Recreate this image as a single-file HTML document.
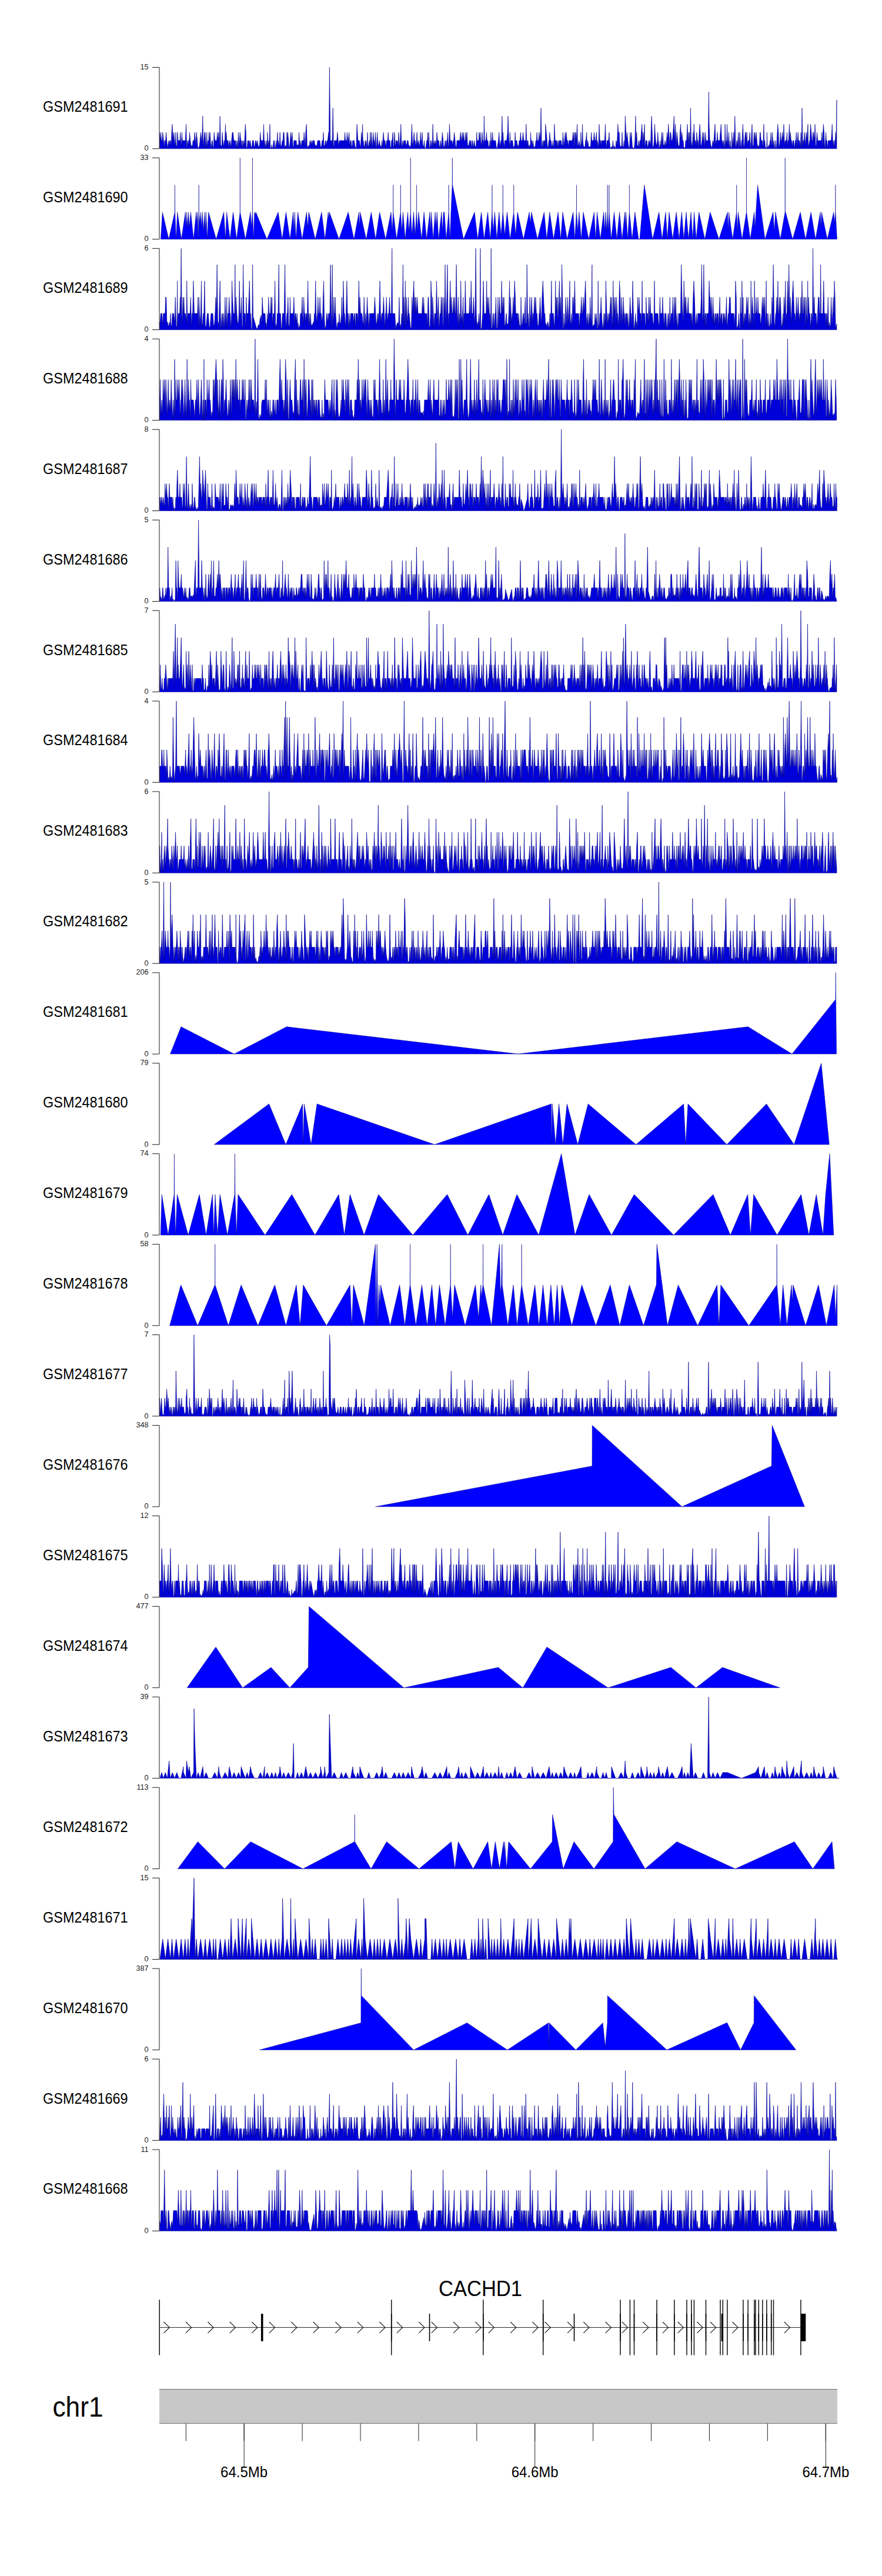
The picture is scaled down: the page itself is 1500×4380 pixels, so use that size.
<!DOCTYPE html>
<html><head><meta charset="utf-8"><title>Gviz tracks</title>
<style>
html,body{margin:0;padding:0;background:#fff;}
svg{display:block;}
text{font-family:"Liberation Sans",Arial,sans-serif;fill:#000;}
.ax{font-size:12.6px;fill:#1a1a1a;}
.lb{font-size:25.5px;}
.chr{font-size:48px;}
.tk{font-size:25.8px;}
.gn{font-size:37px;}
.axl{fill:none;stroke:#1a1a1a;stroke-width:1;}
.dp{fill:#0000ff;stroke:#00008b;stroke-width:0.5;stroke-linejoin:round;}
.dn{fill:#0000d8;stroke:#00008b;stroke-width:0.6;stroke-linejoin:round;}
</style></head><body>
<svg width="1500" height="4380" viewBox="0 0 1500 4380">
<rect width="1500" height="4380" fill="#fff"/>
<path d="M271.6 252.8L271.6 225.1 272.8 239 273.8 225.1 274.4 239 275.7 239 276.8 225.1 278.2 239 279.2 250.2 280 239 280.9 239 281.7 239 282.5 225.1 283.6 239 285 252 285.8 246.3 286.8 239 287.8 246.9 288.8 239 290.1 239 291.1 248.1 292 225.1 293 211.3 293.7 225.1 295 239 295.8 225.1 297 239 298 248.8 299 225.1 299.6 247.1 300.9 249.2 301.9 225.1 303 239 304 239 305 239 306 239 306.7 225.1 308 247.2 308.8 239 309.4 225.1 310.2 239 311.1 239 312.1 239 313.2 239 314.2 239 315.2 239 316.5 211.3 317.6 252.7 318.2 247.8 318.9 239 319.7 247.3 320.7 239 321.8 239 322.4 225.1 323.7 239 325.1 249.9 325.9 246.7 326.5 248.9 327.2 247.9 328.2 239 329.4 239 330.1 239 331.1 225.1 332.4 239 333.2 247.4 334.1 225.1 335.5 239 336.4 251.2 337.6 251.6 339 248.6 340.2 239 341.5 225.1 342.8 239 343.5 239 344.8 197.5 345.7 250.2 346.7 239 348 225.1 349 225.1 349.6 239 350.3 252.5 351.1 239 351.8 225.1 352.5 250.2 353.9 239 354.9 239 355.5 225.1 356.4 239 357.2 225.1 358.6 252 359.3 249 360.5 239 361.3 239 362.2 249.7 363.3 250.1 364.1 225.1 365.5 239 366.5 239 367.3 239 367.9 239 368.6 239 369.8 225.1 370.6 239 371.9 225.1 373.3 250.6 374 197.5 375.3 246.5 375.9 247.2 377.3 248 378 225.1 379.1 239 380.5 249 381.5 239 382.4 239 383.5 211.3 384.2 239 384.9 225.1 385.8 239 386.6 239 387.6 239 388.7 251.2 389.7 239 390.8 246.5 391.6 239 392.6 251.7 393.8 239 395.1 225.1 396.3 225.1 397.7 239 398.5 239 399.7 239 400.8 239 401.6 252.5 403 239 404.3 251.8 405.5 225.1 406.5 246.1 407.4 239 408.2 225.1 409.6 239 410.5 239 411.3 252.8 412.1 239 413.2 251.4 414 239 414.8 247.3 416 239 417.3 211.3 418.2 225.1 418.9 249 420.3 251.9 421.3 239 422.2 239 423.1 239 424 248.1 425 239 425.6 239 426.9 249.3 428.3 250 429.5 239 430.6 239 431.2 239 432.2 248.8 433.3 249.4 434.5 239 435.5 239 436.8 246.9 438 239 438.8 246.8 439.9 249.4 440.9 249.3 442 239 442.7 225.1 443.8 239 444.9 239 446.2 239 447.5 239 448.5 211.3 449.6 250.9 450.7 239 451.9 250.5 452.7 247 453.3 239 454.3 247.4 455 225.1 456 247.8 457.1 239 457.8 250.3 459 211.3 459.8 250.1 460.8 251.5 461.5 251.3 462.1 246.1 463.2 252 464.3 250 465.3 239 466.6 239 467.4 250.5 468.4 252.5 469.7 239 470.7 250 472 225.1 472.6 239 473.3 239 474.3 246.5 474.9 247 475.5 239 476.1 225.1 477.3 248.2 478.2 248.4 479 246.3 480.1 239 481.1 239 482 225.1 483 225.1 484.1 251.1 485.5 246.9 486.8 252.2 488.1 225.1 488.7 239 489.4 225.1 490.7 239 491.4 252.2 492 250.6 492.7 246.9 493.5 239 494.4 225.1 495.8 239 496.9 225.1 498.1 248 499.1 250.8 499.8 239 500.7 239 501.9 239 502.8 239 504 239 504.7 250.5 505.6 246 506.5 246.1 507.8 247.3 508.5 225.1 509.7 247.6 510.6 239 511.6 249.1 512.3 248 513.4 239 514.6 239 515.6 239 516.4 239 517.1 225.1 518.2 239 519.1 247.9 519.9 225.1 521.2 211.3 522.3 247.3 523.4 251 524.2 249.2 525.2 247.3 526.3 246.9 527.2 239 527.8 239 529.1 246.1 530.2 239 531.2 246.2 532.1 239 533.1 239 534.5 239 535.9 248.9 536.8 246.6 537.9 246.9 538.9 250.2 540.1 239 540.7 239 541.4 239 542.6 239 544 239 545.2 249.8 546.5 249.4 547.8 239 549.2 239 550 225.1 550.9 247 551.6 249 552.6 246.1 553.3 239 554 239 555 246.9 556.2 239 557.4 239 558.7 225.1 559.4 239 560.4 114.5 561.8 239 563.1 239 564.3 239 564.9 248.3 566.2 183.7 567.2 247 568 250 568.7 239 570.1 239 570.8 239 571.9 239 572.8 239 573.9 225.1 575.1 239 575.9 248.3 577.2 239 578 239 578.8 239 580 239 580.8 239 582.1 239 582.7 239 583.4 239 584.8 239 585.8 239 586.5 225.1 587.6 239 588.8 239 589.6 239 590.3 225.1 591.5 239 592.3 239 593.6 225.1 594.7 248.6 596 239 597.1 239 598 248.4 599 249.3 599.8 239 600.6 239 601.5 239 602.4 239 603.5 247.8 604.6 250.7 605.8 251.8 607.1 211.3 607.9 225.1 608.8 239 609.9 239 611.2 239 612.5 248.4 613.4 249.6 614.6 225.1 615.6 239 616.6 211.3 617.2 239 617.9 239 618.7 246.5 619.8 251.1 621.1 239 621.8 246.5 622.6 239 624 252.4 625 225.1 625.9 248.4 626.9 248.1 628.3 239 629.1 246.1 629.7 225.1 630.5 252.1 631.4 225.1 632.3 239 633.5 251.5 634.5 225.1 635.8 239 636.5 239 637.2 248.2 638.4 225.1 639.7 252.7 640.6 246.5 641.6 225.1 643 248.2 643.9 246.3 645.3 239 646.2 246.3 647.4 248.3 648.4 252 649.5 239 650.5 251.1 651.1 239 652.1 225.1 653.2 239 654.2 239 654.9 239 655.7 250.3 656.4 247.4 657.5 239 658.3 239 659.3 239 660.1 225.1 661.1 239 662.4 239 663.3 239 664 252.4 665.2 248.7 665.9 239 666.8 239 668.2 225.1 669 250.4 670 247.1 670.8 225.1 671.8 239 672.5 250.6 673.7 239 675 239 675.8 239 677.1 247.1 678 225.1 678.8 239 679.6 250.2 680.6 239 681.7 211.3 683 249.9 683.8 247.1 684.5 239 685.3 249.1 686.6 239 687.2 239 688.6 239 689.6 239 690.5 246 691.7 246.5 692.7 239 694 239 695 247 695.9 247 697.1 249.5 698.4 249.5 699.3 239 700.4 211.3 701.7 249.9 703.1 239 704.2 225.1 705 239 706.1 239 707.3 249.7 708.3 239 709.1 225.1 709.8 239 710.8 245.9 712.1 239 713.2 251 714.6 239 715.3 225.1 716.1 239 717.3 239 718.1 225.1 718.9 246.1 720.2 250.6 721.5 239 722.4 252.6 723.3 252.5 724.3 249.9 725.7 239 726.8 239 727.5 225.1 728.4 247.8 729.2 225.1 729.8 239 730.4 252.2 731.7 249.1 732.4 239 733.3 239 734.1 250.7 735.4 239 736.1 211.3 737.2 249.8 738.4 239 739.5 246.2 740.8 239 741.8 248.8 743 225.1 744.2 239 745.4 239 746.3 239 747.2 251.2 748.2 248 749.3 239 750.2 252.7 751.4 239 752.3 225.1 753.6 239 754.3 248.3 755 248.6 755.7 251.5 757 239 757.8 239 758.8 252.3 759.5 239 760.6 239 761.4 225.1 762.6 252.8 763.7 239 764.4 211.3 765.7 239 766.8 239 767.8 239 768.6 239 769.6 247.6 770.8 239 771.6 239 772.6 225.1 774 239 774.7 246.9 775.3 249.1 776.2 252.7 777 239 777.8 239 779.1 239 780 239 780.6 239 781.9 239 783.2 225.1 784.5 239 785.1 239 786.2 225.1 787.3 239 788.5 225.1 789.8 239 790.6 239 791.2 239 792.1 225.1 793.2 239 794.1 225.1 795.4 248.6 796.1 247.3 797.4 246.4 798.6 239 799.6 239 800.3 239 801.6 251.8 802.5 239 803.6 239 804.4 250.7 805.3 246.5 806.6 239 807.6 247.8 808.4 249.3 809.6 248.5 810.8 225.1 811.4 239 812.8 239 814.1 239 814.9 225.1 816.1 239 816.8 225.1 817.5 239 818.5 249.1 819.9 225.1 820.9 239 821.8 239 822.6 251.9 823.3 197.5 824.2 239 825.5 239 826.3 239 827.5 225.1 828.2 239 828.8 239 829.8 239 830.7 248.9 832.1 248.8 833.1 239 834.2 252.7 834.9 225.1 835.7 239 837.1 239 837.7 225.1 838.5 239 839.6 239 840.7 239 841.6 239 842.9 239 844.2 251.1 845.4 252.5 846.4 246.5 847.6 239 848.7 225.1 849.4 239 850.6 249.8 851.7 239 852.9 239 853.9 197.5 854.9 239 855.5 225.1 856.2 239 857.6 251.9 858.4 239 859.7 239 860.8 239 861.8 239 863.2 225.1 864 197.5 865.4 239 866.5 248.5 867.5 225.1 868.1 252.1 869 239 870.3 239 871.7 239 873 251.6 874.1 249 875.3 246.4 876.1 225.1 876.8 239 878.1 239 878.9 239 880.2 249.5 880.9 246.1 882 251.3 882.9 239 883.6 239 884.4 239 885.4 225.1 886.3 239 887.5 239 888.4 239 889.5 225.1 890.8 239 892 239 893 239 894 239 894.8 211.3 896 247.5 896.9 239 897.9 239 899.2 250.8 899.9 248.2 900.7 246.2 901.8 251.3 902.4 225.1 903.2 239 904.2 239 905.4 247.6 906.1 239 907.2 246.3 908 251.7 909.4 248.8 910.1 250.5 911.3 239 912.2 239 913.2 225.1 913.9 239 914.6 239 915.9 239 916.9 225.1 918.1 239 919.2 225.1 920 183.7 921.2 250 921.9 249.2 923 239 923.9 250 924.8 239 925.6 239 926.5 239 927.2 247.1 927.8 211.3 929.1 225.1 930.3 239 931.2 249.2 932.3 251.1 933.4 239 934.1 239 934.7 225.1 936.1 239 937.2 239 938.4 248.4 939.4 249.2 940.4 239 941.4 250.2 942.1 246.5 942.8 211.3 944.1 239 945.2 239 946.1 239 947 239 947.8 250.6 949.2 239 949.9 249.6 951 239 952.2 239 953.3 239 954.4 239 955.1 246.6 956.4 247.3 957.4 225.1 958.8 249.7 960 239 961.4 225.1 962.5 239 963.1 225.1 964.3 239 965.4 239 966.6 249.7 967.6 239 968.4 239 969 239 970.3 239 971.6 239 972.7 239 973.4 239 974.7 225.1 975.3 239 976.3 225.1 977 252.6 978.2 225.1 979 225.1 980.3 239 981.6 211.3 982.4 246 983.4 248.1 984.7 239 985.9 245.9 987.2 250.2 987.9 225.1 988.6 248.3 989.9 239 990.6 211.3 991.3 239 992.4 249.8 993.4 248.5 994.8 251.9 995.6 239 996.4 239 997.7 225.1 998.4 247.4 999.8 239 1001.1 249.7 1002.3 250 1003.7 248.8 1004.4 249.4 1005.7 225.1 1006.6 239 1007.9 239 1008.8 239 1009.4 239 1010.4 225.1 1011.7 239 1013 239 1014.4 225.1 1015.3 247.1 1016.1 239 1017.4 251.8 1018.2 239 1019 211.3 1020.2 239 1021.6 239 1022.3 248 1023.2 239 1024.4 239 1025.1 239 1026.3 239 1027.6 239 1028.4 239 1029.5 211.3 1030.3 239 1031.6 252.5 1032.2 239 1033.5 239 1034.8 239 1036 225.1 1036.6 239 1037.9 252.7 1038.6 251.9 1039.9 249.1 1040.7 250.9 1041.5 249.1 1042.5 239 1043.4 251.4 1044 250.6 1044.8 247.8 1045.9 252.4 1047 250 1047.9 239 1049.1 246.5 1049.7 239 1050.8 211.3 1051.7 225.1 1053.1 225.1 1053.7 239 1054.4 248.9 1055.7 248.2 1057 250.5 1058 225.1 1059 249.7 1060.4 248.9 1061.3 239 1062.4 252.3 1063.3 197.5 1064.6 225.1 1065.6 239 1066.4 225.1 1067.7 239 1068.8 247.8 1069.8 251 1070.6 252.2 1071.7 225.1 1072.5 239 1073.7 225.1 1074.7 239 1075.7 252.6 1076.3 250.6 1077.4 252.7 1078.7 250.4 1079.9 239 1080.9 197.5 1081.8 239 1082.9 225.1 1083.7 248.1 1085 248.6 1086.2 239 1087.1 252.3 1088.3 239 1089.6 239 1090.6 225.1 1091.8 211.3 1093 249 1093.8 225.1 1095 239 1096.1 211.3 1096.8 247.3 1097.6 247.1 1098.3 239 1099 239 1100.2 239 1101.2 251.4 1102.3 246.6 1103.6 239 1104.8 239 1105.8 247.8 1106.7 239 1108.1 197.5 1109.2 225.1 1109.9 247 1110.6 251.2 1111.7 247.5 1112.5 239 1113.5 211.3 1114.1 225.1 1115.1 239 1116.4 246.6 1117.1 246.5 1118.1 239 1118.7 225.1 1119.6 239 1121 251 1121.9 250.1 1122.7 239 1123.3 248.4 1124.2 246.5 1125.3 225.1 1126.2 247.4 1127.3 225.1 1128.3 248.3 1129.2 245.9 1129.8 248.7 1131.1 239 1132.4 249.2 1133.5 239 1134.7 225.1 1135.5 239 1136.8 211.3 1137.6 225.1 1138.9 248.2 1139.9 225.1 1140.8 225.1 1142 239 1142.8 239 1143.4 239 1144.7 225.1 1145.6 211.3 1146.3 197.5 1147.4 239 1148.7 211.3 1150 248.6 1151.3 225.1 1152.6 239 1153.6 248.2 1154.4 247.2 1155.1 248.8 1155.7 246.8 1156.4 225.1 1157.7 211.3 1158.4 239 1159.7 225.1 1161 239 1162 239 1162.9 251.3 1164.2 251.3 1165.3 250.3 1166 239 1166.7 239 1167.7 239 1169 211.3 1170.2 247.5 1171 225.1 1171.8 239 1172.5 225.1 1173.6 251.7 1174.4 183.7 1175.5 239 1176.8 248.7 1177.5 246.3 1178.7 225.1 1179.3 248 1180.2 211.3 1181.6 239 1182.8 239 1184 247.6 1184.8 225.1 1186.1 239 1187 239 1188 251.6 1189.2 225.1 1190.2 211.3 1190.9 225.1 1191.9 249.4 1192.8 246.6 1193.9 239 1194.6 225.1 1195.4 239 1196.1 239 1196.9 225.1 1197.9 239 1198.8 250.5 1199.5 225.1 1200.8 239 1202.1 239 1203.5 239 1204.3 239 1205.4 156 1206 211.3 1207.2 239 1207.8 239 1209 247.2 1210.1 250.8 1210.9 250.1 1212.2 239 1213.2 245.9 1214 239 1215 225.1 1216 211.3 1217.3 249.4 1218 239 1219.2 239 1219.9 225.1 1221 239 1221.7 239 1222.4 239 1223 239 1224 239 1225.1 225.1 1226.3 211.3 1227.4 239 1228 239 1229.1 247 1229.8 239 1230.5 239 1231.5 248.2 1232.3 251.1 1233.1 211.3 1234.2 249.3 1235 239 1235.8 239 1236.5 211.3 1237.4 239 1238.3 246.8 1239.5 225.1 1240.4 248.5 1241.3 249.5 1242 239 1242.8 251.4 1244.1 250.5 1244.7 225.1 1245.9 249.9 1246.8 239 1247.8 225.1 1248.4 247.9 1249.8 197.5 1251.1 248.6 1251.8 250.1 1252.9 239 1253.9 246.8 1254.8 239 1255.8 225.1 1256.5 248.9 1257.1 252.4 1258 225.1 1259 239 1259.8 248.6 1260.6 251.6 1261.2 239 1262 239 1263.4 211.3 1264.8 248.8 1265.7 249.1 1266.4 239 1267.5 225.1 1268.5 225.1 1269.4 239 1270.3 225.1 1271 246 1272.3 239 1273.2 239 1274.1 239 1275.2 225.1 1275.9 239 1276.7 249.4 1277.3 250.7 1278.2 225.1 1279 211.3 1280 246.3 1281.4 249.4 1282.4 225.1 1283.4 239 1284 225.1 1285.2 239 1286.4 225.1 1287.2 239 1288.2 249.3 1288.8 250.3 1289.5 246.2 1290.2 250.5 1291.4 247.2 1292.5 225.1 1293.2 225.1 1294.4 239 1295.5 239 1296.4 239 1297.6 251.8 1299 211.3 1299.7 239 1300.6 239 1301.5 248.5 1302.2 250.7 1302.9 251.3 1303.8 252.4 1304.4 225.1 1305 249.2 1306.4 251.1 1307.7 246 1308.6 249.4 1309.5 239 1310.5 239 1311.1 225.1 1312.3 251.8 1313.6 225.1 1315 248.9 1316.3 239 1317.5 251.5 1318.2 251.9 1318.8 239 1319.5 252.4 1320.5 250.7 1321.2 239 1322 225.1 1322.7 211.3 1323.9 225.1 1324.5 251.1 1325.7 246.2 1326.4 239 1327.2 225.1 1328.1 239 1329.3 239 1330.5 225.1 1331.7 239 1333 211.3 1334.3 246.4 1335.4 239 1336.5 239 1337.4 239 1338.5 225.1 1339.4 250.4 1340.1 239 1341.2 239 1342.4 211.3 1343.4 239 1344.3 225.1 1345.4 239 1346.2 239 1347.2 249.3 1348.4 239 1349.8 239 1350.5 246.9 1351.5 251.5 1352.4 239 1353.4 239 1354.2 225.1 1355.3 252.2 1355.9 239 1357.1 225.1 1358 239 1358.7 239 1359.8 239 1361.2 250.7 1362.1 225.1 1363.2 249.9 1364 183.7 1365.3 251.3 1366.1 239 1367.3 239 1368 225.1 1369.2 239 1370 245.9 1371.1 225.1 1372.3 239 1373.1 225.1 1374 211.3 1374.7 250.1 1375.6 246 1376.8 239 1377.4 239 1378.5 211.3 1379.8 225.1 1380.7 239 1381.8 239 1382.7 225.1 1383.5 225.1 1384.8 239 1386.1 211.3 1387.1 246.6 1388.1 249.3 1389.4 225.1 1390.7 239 1391.6 239 1392.4 239 1393.6 239 1394.4 239 1395.6 239 1396.8 239 1397.9 225.1 1398.9 252 1399.6 225.1 1400.4 211.3 1401.5 225.1 1402.3 246 1403.2 252.6 1404.5 225.1 1405.3 239 1406.4 239 1407.6 252.6 1408.7 239 1409.8 239 1410.8 239 1412.1 239 1412.8 239 1413.6 239 1414.6 225.1 1415.2 211.3 1416.5 246.4 1417.2 239 1418.3 251.4 1419.2 239 1420.4 239 1421 225.1 1422 239 1423 169.8 1423 252.8Z" class="dn"/>
<path d="M259 114.50H271.0V252.80H259" class="axl"/>
<text x="252.5" y="118.1" text-anchor="end" class="ax">15</text>
<text x="252.5" y="256.4" text-anchor="end" class="ax">0</text>
<text x="217.6" y="189.9" text-anchor="end" class="lb" textLength="144.5" lengthAdjust="spacingAndGlyphs">GSM2481691</text>
<path d="M273.4 406.7L273.4 406.7 276.3 360.7 287 406.7 297.2 360.7 297.4 314.5 297.6 360.7 299.5 406.7 301.7 360.7 308.5 406.7 315.3 360.7 316.7 386 317.6 360.7 319 386 320.6 360.7 322.1 386 324.4 360.7 329.2 406.7 333.7 360.7 334.8 379.1 336 360.7 337.1 406.7 338.1 360.7 338.2 314.5 338.3 360.7 339.8 379.1 341.4 360.7 342.8 386 344.4 360.7 346 392.9 348.4 360.7 349.6 392.9 350.5 360.7 352.3 406.7 354.6 360.7 367.7 406.7 380.6 360.7 383.4 406.7 385.6 360.7 391.1 406.7 396.5 360.7 402.4 406.7 408.2 360.7 408.3 268.4 408.4 360.7 417.4 406.7 426 360.7 427.4 386 429.3 360.7 429.4 268.4 429.5 360.7 431.2 406.7 432.8 360.7 434 365.2 435.1 360.7 453.9 406.7 473.1 360.7 479.9 406.7 486.4 360.7 493.2 406.7 498.6 360.7 500.3 392.9 501.2 360.7 503.4 406.7 506.5 360.7 513.9 406.7 521.4 360.7 523.5 386 525.2 360.7 536.1 406.7 546.9 360.7 552.7 406.7 558.2 360.7 559.2 372.2 560.2 360.7 576.5 406.7 592.2 360.7 602 406.7 610.5 360.7 611.6 386 612.6 360.7 622.8 406.7 631.3 360.7 638.8 406.7 645.6 360.7 655.8 406.7 665 360.7 667 392.9 668.6 360.7 668.7 314.5 668.8 360.7 674.5 406.7 681.2 360.7 681.3 314.5 681.4 360.7 683.4 392.9 685.4 360.7 689.1 406.7 693.5 360.7 695.5 392.9 698.2 360.7 698.3 268.4 698.4 360.7 700.5 399.8 703.4 360.7 706 399.8 708.4 360.7 708.5 314.5 708.6 360.7 710 392.9 711.9 360.7 717 406.7 721.1 360.7 725.5 406.7 731 360.7 732.3 392.9 733.4 360.7 736.7 406.7 740.1 360.7 741.6 386 743.2 360.7 745.9 406.7 750.9 360.7 752.6 392.9 754.3 360.7 755.6 360.7 759 406.7 763 360.7 763.1 314.5 763.2 360.7 765.3 406.7 767 360.7 769.1 314.5 769.3 268.4 769.6 314.5 788.3 406.7 807 360.7 812.4 406.7 818.6 360.7 823.3 406.7 829.5 360.7 833.9 406.7 836.8 360.7 836.9 314.5 837 360.7 839 392.9 841.4 360.7 845 406.7 848.8 360.7 852 399.8 855.2 360.7 855.3 314.5 855.4 360.7 858.5 399.8 862.4 360.7 867.5 406.7 873.6 360.7 873.7 314.5 873.8 360.7 876.8 399.8 880.1 360.7 890.3 406.7 900.2 360.7 902 379.1 903.9 360.7 914.1 406.7 925.4 360.7 929.8 406.7 934.9 360.7 941.4 406.7 949.2 360.7 953.6 406.7 957 360.7 964.5 406.7 974.7 360.7 977.6 406.7 980.4 360.7 980.5 314.5 980.6 360.7 982.7 392.9 984.9 360.7 988.4 406.7 992 360.7 1001.2 406.7 1010.4 360.7 1013 406.7 1015.5 360.7 1021 406.7 1026.7 360.7 1028.5 392.9 1030 360.7 1031.7 392.9 1033.1 360.7 1033.2 314.5 1033.3 360.7 1034.6 392.9 1035.8 360.7 1035.9 314.5 1036 360.7 1039.5 406.7 1044.5 360.7 1049 406.7 1053.6 360.7 1058 406.7 1062.7 360.7 1063.6 386 1064.5 360.7 1067.5 406.7 1070.3 360.7 1070.4 314.5 1070.5 360.7 1075 406.7 1079.9 360.7 1086 406.7 1088 406.7 1095.8 314.5 1109.8 406.7 1120.7 360.7 1126 406.7 1132 360.7 1135 406.7 1138 360.7 1144 406.7 1150.2 360.7 1155 406.7 1159.3 360.7 1163 406.7 1167 360.7 1171 406.7 1175.1 360.7 1178 406.7 1180.6 360.7 1184 406.7 1188.7 360.7 1198.7 406.7 1207.8 360.7 1222.7 406.7 1237.3 360.7 1238.4 392.9 1239.5 360.7 1246 406.7 1252.6 360.7 1252.7 314.5 1252.8 360.7 1254 392.9 1255.4 360.7 1262 406.7 1269.4 360.7 1269.5 268.4 1269.6 360.7 1276 406.7 1282.6 360.7 1284 386 1288.5 314.5 1301 406.7 1314.8 360.7 1316.8 392.9 1318.9 360.7 1327 406.7 1335.1 360.7 1335.2 268.4 1335.4 360.7 1336.1 360.7 1348 406.7 1361.1 360.7 1370 406.7 1379.2 360.7 1387 406.7 1395.1 360.7 1396.2 386 1397.3 360.7 1407 406.7 1417.8 360.7 1419 379.1 1420.8 360.7 1420.9 314.5 1421 360.7 1423.5 406.7 1423.5 406.7Z" class="dp"/>
<path d="M259 268.44H271.0V406.74H259" class="axl"/>
<text x="252.5" y="272.0" text-anchor="end" class="ax">33</text>
<text x="252.5" y="410.3" text-anchor="end" class="ax">0</text>
<text x="217.6" y="343.8" text-anchor="end" class="lb" textLength="144.5" lengthAdjust="spacingAndGlyphs">GSM2481690</text>
<path d="M271.6 560.7L271.6 547.6 272.2 549.1 273.4 533 274.5 533 275.5 533 276.9 553.1 277.8 533 278.8 533 280.1 533 280.9 533 281.6 505.4 282.7 505.4 283.9 550.1 285.2 547.4 285.9 554.3 286.9 553.7 288.2 548.2 289.1 550.7 290.1 533 290.9 557 292.2 550.9 293.2 533 294 533 295.4 533 296.7 548.1 297.4 533 298.2 505.4 298.9 533 299.7 554.8 300.9 555.7 301.6 477.7 302.2 560.4 303 533 304.2 533 305.6 533 306.4 505.4 307.1 533 308.1 422.4 309.4 550.9 310.4 533 311.1 505.4 311.8 533 312.8 505.4 313.6 533 314.2 533 314.8 533 315.5 533 316.9 546.9 317.7 477.7 318.8 550.9 319.6 533 320.2 533 321.4 533 322.2 533 323.2 533 324.3 505.4 325.7 554.7 326.7 533 327.7 533 328.9 477.7 330.3 533 331.6 533 332.8 533 334.1 533 335 533 335.8 533 336.6 505.4 337.3 558 338.3 505.4 339.3 533 339.9 551.8 341.3 533 342.5 477.7 343.4 557 344.4 549.5 345.8 533 346.8 533 347.9 477.7 349.2 555.7 350.6 554.9 351.2 548.3 352.6 533 353.4 533 354.3 533 355.4 550.2 356 557.1 357.4 555.1 358.8 533 359.7 533 361 533 362 533 363.3 554.1 364.7 551.6 365.9 533 366.9 505.4 368 533 369.1 450 370.4 547.6 371.6 548.4 372.2 557.9 373.4 505.4 374.2 477.7 375 533 375.7 559.7 376.3 551.6 377.5 533 378.3 533 379 558.3 380.2 533 381.4 558.8 382.2 533 382.8 505.4 383.7 533 384.6 556.4 385.7 505.4 386.4 556.5 387.5 533 388.8 533 389.7 505.4 390.9 533 391.7 533 392.5 559.1 393.8 533 394.5 477.7 395.4 505.4 396.8 533 398.1 533 398.9 533 399.8 450 400.6 551.9 401.5 505.4 402.8 533 404.2 550.3 405.5 547.1 406.3 533 407.2 477.7 408.1 533 409.5 533 410.4 505.4 411.7 554.6 412.7 555.3 413.5 450 414.9 533 415.6 533 416.4 533 417.2 533 418.1 559.8 418.8 505.4 419.6 533 420.8 533 422.2 533 423.3 505.4 424.3 477.7 425.7 549 426.7 533 427.4 558.9 428.7 559.6 429.6 450 430.5 538 431.6 542 432.7 545.8 433.7 549.2 434.7 552.7 436 557.3 437.2 560.1 437.9 557.6 438.7 555 439.6 551.8 440.9 553.7 442.2 542.6 443.3 538.8 444.2 535.9 445.1 549.4 446.1 505.4 447.5 533 448.7 533 449.7 533 450.8 533 452 554.1 452.6 549.1 453.7 558 454.4 533 455.7 548.2 456.7 505.4 457.9 533 458.8 533 459.8 533 460.9 505.4 461.7 533 462.6 505.4 463.4 551.1 464.6 533 465.6 533 466.6 533 467.6 477.7 468.7 557.6 469.8 551.2 470.6 556.5 471.3 533 472.1 533 473 533 474.2 450 475 533 475.9 533 477.2 533 478.4 558.6 479.3 557.9 480.4 533 481.4 533 482.1 533 483.2 533 484.6 450 485.5 533 486.5 559.4 487.9 533 488.8 533 489.8 505.4 490.9 550.5 491.6 554.1 492.3 556.2 493.4 505.4 494 533 495.2 533 496 533 497.4 533 498.7 533 499.9 505.4 501.1 548.3 502.1 533 503.3 533 504.7 548.7 505.4 533 506.3 558.4 507 549.2 508.1 560.1 508.9 555.1 510.2 552.4 510.9 533 511.8 533 512.9 533 514 505.4 514.7 533 515.6 552.8 516.6 505.4 517.8 533 518.9 533 519.5 547.2 520.6 533 521.6 533 522.4 547.5 523.6 477.7 524.9 553.1 525.9 533 526.8 554.3 528 533 529.3 554.9 530.3 551.6 531.7 552.4 532.8 547.3 533.7 551 534.6 533 535.7 533 536.7 477.7 537.7 533 538.8 548.3 539.9 533 540.9 505.4 541.8 533 543 533 544.1 505.4 545.1 533 545.7 533 546.3 533 547.6 548.6 548.8 533 549.5 505.4 550.5 477.7 551.4 533 552.6 558.2 553.4 557.6 554.5 552.5 555.5 533 556.4 533 557.6 549 558.7 533 559.8 533 561 533 562 450 563.3 533 564 558.2 565.2 450 565.9 533 566.5 553.4 567.8 505.4 568.5 533 569.6 533 570.2 505.4 570.9 533 572.1 551.7 573.3 560.3 574 550 575 547.5 576.1 550.5 576.9 533 578 548.8 579.2 550.5 580.6 533 581.2 505.4 581.9 548.3 582.8 533 583.9 477.7 584.5 505.4 585.3 533 586.1 533 587.2 556 588.5 533 589.9 477.7 591 533 592.3 533 593.3 559.5 594.5 533 595.6 553.2 596.5 533 597.4 533 598.3 533 599.5 533 600.4 533 601.7 549.2 602.5 533 603.4 533 604.6 558 605.2 533 605.9 533 606.7 533 607.9 533 608.9 550.1 610.3 477.7 611.4 533 612 505.4 613.3 533 614.6 533 615.7 533 617 547.1 617.9 553.6 619.2 505.4 620 533 620.7 560.1 621.8 533 623.2 549.7 624.5 505.4 625.5 533 626.3 533 627.2 560 628.5 533 629.8 533 630.6 533 631.9 533 633.2 533 634.2 533 635.3 533 636.2 533 637.4 505.4 638.8 533 639.7 551.7 640.9 548.1 642 533 642.7 549 643.9 533 644.7 533 646.1 477.7 647.2 533 648 548.2 649.2 533 650 533 651.1 533 652.4 505.4 653.5 533 654.7 557.8 655.4 533 656.3 533 657.2 505.4 658.2 533 659.4 546.8 660.1 533 661.2 533 662.6 505.4 663.5 533 664.5 533 665.6 533 666.7 422.4 667.5 533 668.4 533 669.3 533 670.3 533 671.6 533 672.4 547.7 673.6 560.2 674.3 552.9 675.4 550.3 676.6 548 677.9 550.8 678.9 505.4 680.1 556.5 681.3 551.3 681.9 559.2 683 533 684.1 547.3 685.4 450 686.2 548.7 686.9 505.4 688.2 556.9 689.3 477.7 690.1 554.5 691.1 505.4 692 533 693.2 548.6 694.4 505.4 695.1 533 696 533 697.2 547 698.4 558.4 699.5 556.8 700.7 505.4 701.8 533 702.5 505.4 703.8 477.7 704.8 533 705.8 505.4 706.5 533 707.2 505.4 708.6 533 709.6 505.4 711 533 712 533 713.2 533 714.5 533 715.6 533 716.3 533 717.5 533 718.6 505.4 719.7 533 720.5 505.4 721.7 533 722.7 533 723.9 533 725.1 533 726 533 726.8 555.9 728 505.4 728.8 505.4 730 555 731 556.8 732.2 533 732.9 477.7 734.2 505.4 735.1 556 735.8 505.4 737.1 533 738.1 557 739.2 533 740.1 533 741.5 533 742.4 477.7 743.1 505.4 743.9 549.4 744.5 533 745.8 505.4 746.4 557 747.1 551.6 748.3 533 749.5 533 750.3 505.4 751 533 752.2 505.4 753.3 552.6 754 555 754.6 505.4 756 533 757 450 757.7 505.4 758.6 549.4 759.9 505.4 760.9 450 762.2 555.5 763 533 764.4 533 765 505.4 765.9 477.7 766.7 533 767.7 505.4 769 533 770 533 771.2 505.4 772.1 533 773.2 505.4 774.2 533 774.9 533 776.1 450 777.3 533 778.3 547.4 779.4 505.4 780.5 556.4 781.6 533 782.7 548.1 783.6 477.7 784.7 533 785.8 548.7 786.6 533 787.7 505.4 788.3 558.4 789.1 533 789.7 533 790.4 533 791.3 477.7 792.5 533 793.3 533 794.4 533 795.3 533 796.5 533 797.8 533 798.7 505.4 799.5 533 800.2 533 801.2 477.7 802.5 533 803.2 533 804.3 533 805.3 505.4 806.5 533 807.7 551.5 809.1 422.4 810.1 533 811.3 554.3 812.6 548 813.6 548.1 814.4 533 815.3 558.3 816.2 533 816.9 422.4 817.6 557.8 818.8 560.1 819.6 550.6 820.8 533 822 477.7 823.3 533 824.3 533 825.5 533 826.7 533 827.7 477.7 828.4 533 829.4 505.4 830.7 533 831.5 505.4 832.3 533 833.2 533 834.5 556.4 835.2 422.4 836.1 560 837.3 555.7 838.4 533 839.2 533 840.3 560.6 841.6 533 842.5 533 843.4 505.4 844.5 557.3 845.7 558.1 847 505.4 847.9 557.8 848.5 533 849.7 505.4 850.7 533 851.5 533 852.3 533 853 477.7 854.3 533 855.5 505.4 856.3 533 857.1 505.4 858.3 554.1 859 553 859.8 549.3 860.9 533 861.5 533 862.1 553.1 863.3 550.3 864.4 549.8 865.3 533 866.6 477.7 867.6 558.6 868.2 505.4 869.3 533 870.3 548.7 871.2 533 871.8 533 872.8 505.4 873.8 533 875.1 477.7 876.4 505.4 877.2 533 878.3 533 879.7 533 880.6 533 881.3 551.2 882.2 533 883.3 551.2 884.2 553.2 885.3 556.9 886 505.4 887.1 552.3 888.3 550.3 889.6 533 890.6 533 891.6 555.1 892.2 533 893.4 505.4 894.3 552.2 895.5 547 896.2 450 897.5 550 898.4 533 899.5 556.6 900.1 556.1 901 505.4 902.2 550.1 903 533 904 505.4 905.2 533 905.9 548.5 906.8 533 907.8 533 909 505.4 909.9 533 911 505.4 912.3 533 913.4 533 914.5 554.1 915.9 552.6 916.8 533 917.6 533 918.5 505.4 919.5 533 920.5 550.9 921.9 505.4 923.3 477.7 924.4 505.4 925.7 533 926.7 533 927.5 547.8 928.2 550.6 929 551 930.4 556.1 931.3 547.3 932.5 548.9 933.3 558.4 934.3 554.3 935 533 935.6 556.7 936.2 533 936.9 533 937.9 477.7 938.6 533 939.3 533 940.2 533 941.3 533 942.7 558.1 944 533 944.7 477.7 945.5 533 946.2 505.4 947.1 533 948 505.4 948.6 547.4 949.4 533 950.4 505.4 951.4 477.7 952.1 533 953.4 505.4 954.6 552.4 955.5 450 956.7 505.4 957.5 558.6 958.4 559 959.2 533 959.9 549.8 960.8 556.2 961.5 533 962.1 505.4 963.2 533 964.1 554.1 965.4 505.4 966.8 547.6 967.7 533 969 477.7 969.7 547.8 970.6 548.9 971.6 533 972.7 556.1 974.1 505.4 974.9 505.4 976.1 533 977.4 477.7 978.6 533 980 533 981.3 533 982.1 533 982.9 533 984.2 533 985.2 557.4 986.4 533 987.6 533 988.7 505.4 989.7 533 990.6 533 991.9 505.4 993.1 533 994.4 505.4 995.7 477.7 996.9 533 998.1 553.3 999.4 533 1000.3 549.7 1001 553.5 1001.7 533 1003 550.4 1003.6 505.4 1004.4 533 1005.6 553.3 1006.9 450 1007.5 552.6 1008.6 555.7 1009.7 551.4 1011 552.8 1012 533 1013.2 548.1 1014.4 533 1015.6 557.5 1016.5 559.6 1017.2 477.7 1018 558.6 1019.3 548.9 1020 533 1021.2 533 1022.2 505.4 1023.2 533 1024.2 548.4 1025.4 560.5 1026.3 549.1 1027 533 1027.8 557.2 1028.6 533 1029.6 553.8 1030.3 477.7 1031.1 505.4 1032 533 1033 552.7 1034 533 1035.3 549.4 1036 533 1037 533 1038.4 505.4 1039.3 533 1040 505.4 1040.8 556.8 1042 533 1042.8 477.7 1043.7 559.1 1044.3 505.4 1045.4 533 1046.6 505.4 1047.7 554.6 1048.6 505.4 1049.7 533 1050.5 533 1051.5 554.2 1052.5 533 1053.6 477.7 1054.9 505.4 1055.9 553.8 1056.6 533 1057.2 505.4 1058.2 533 1059.2 548.2 1060.1 505.4 1061.2 533 1062.1 533 1063 552.8 1064 533 1065 533 1066 533 1067.2 551.9 1067.9 533 1068.7 555.8 1069.5 554.9 1070.8 533 1071.5 505.4 1072.8 533 1073.7 533 1074.6 555.9 1076 477.7 1077.3 533 1078.3 560.5 1079.5 550.9 1080.8 533 1081.8 554.7 1082.6 547.1 1083.7 558 1084.3 505.4 1085.6 533 1086.9 505.4 1088.2 533 1088.9 533 1090.2 533 1091.1 551.3 1092.1 477.7 1092.8 533 1093.4 533 1094.4 533 1095.1 533 1096.5 533 1097.3 549.5 1098.1 555.4 1098.8 505.4 1099.7 533 1100.4 533 1101.4 533 1102.4 549.3 1103.5 505.4 1104.6 548.6 1105.7 505.4 1106.7 533 1107.6 533 1108.2 533 1109.6 533 1110.8 550.5 1112 549 1113 477.7 1113.8 533 1114.7 533 1116 533 1117 533 1117.9 533 1119.1 533 1120.1 549.8 1121.1 553.2 1122.4 505.4 1123.1 533 1124.1 533 1125.1 533 1126 533 1127 505.4 1127.8 533 1128.5 533 1129.5 557.1 1130.6 533 1131.2 533 1131.9 533 1132.7 533 1134 556.4 1134.7 557.3 1136.1 533 1136.9 533 1137.8 553.8 1138.5 548.8 1139.2 505.4 1140.2 552.2 1141.4 533 1142.5 533 1143.5 533 1144.4 505.4 1145.3 533 1146.1 553.7 1147.2 505.4 1148.5 533 1149.2 505.4 1150.3 552.8 1151.6 533 1152.3 559.2 1153.5 547.3 1154.1 533 1154.7 533 1155.7 533 1156.4 533 1157.4 533 1158.7 450 1159.9 505.4 1161.2 533 1162.1 547.2 1163.2 477.7 1164.4 533 1165.1 505.4 1165.7 533 1166.5 505.4 1167.6 533 1168.9 533 1170.3 505.4 1171.2 533 1171.9 533 1173.1 533 1174.2 533 1175 533 1175.8 548.8 1176.5 533 1177.4 559.4 1178.8 505.4 1180 477.7 1181.2 505.4 1182 533 1182.6 552.3 1183.4 550.1 1184.5 533 1185.5 553.6 1186.8 533 1187.6 533 1188.9 533 1189.6 533 1190.7 533 1191.6 533 1192.5 505.4 1193.4 450 1194.6 547 1195.8 533 1196.9 450 1198.2 555 1198.9 533 1200.3 533 1201 555.8 1201.8 533 1203 533 1204.1 533 1205 533 1206 477.7 1207.1 505.4 1207.8 505.4 1208.6 533 1209.7 505.4 1210.6 533 1211.4 547.3 1212.6 505.4 1213.9 550.6 1214.5 533 1215.3 553.9 1216.5 533 1217.5 533 1218.2 549 1219.1 533 1220 533 1221.1 533 1221.8 554 1223.1 533 1224.2 505.4 1225 547.6 1226.4 533 1227.6 533 1228.3 553.3 1229 548.1 1229.7 533 1230.7 533 1231.7 547 1232.5 533 1233.6 550.3 1234.5 533 1235.6 505.4 1236.4 555.1 1237.4 549.2 1238.4 533 1239.4 533 1240.7 505.4 1242 505.4 1242.9 533 1244.2 533 1244.8 533 1245.8 533 1246.5 533 1247.3 533 1248.2 533 1249.1 552.9 1250.2 533 1250.9 477.7 1252.2 505.4 1252.9 556.1 1254.2 556.7 1255.5 550.6 1256.4 533 1257.7 559.1 1258.4 557.9 1259.2 505.4 1259.8 533 1261.1 533 1261.8 477.7 1262.4 505.4 1263.2 554.2 1263.9 505.4 1264.6 556.3 1265.2 548 1266.4 533 1267.3 533 1268.1 548.1 1268.9 533 1269.6 505.4 1270.8 533 1272.1 505.4 1273.2 557.4 1274.5 533 1275.6 549.5 1276.5 547.2 1277.2 477.7 1277.8 555.6 1278.4 533 1279.4 505.4 1280.7 533 1281.6 533 1282.3 556.2 1283.1 477.7 1283.8 533 1285 533 1285.9 505.4 1287.1 533 1288.2 533 1288.9 505.4 1290.1 533 1291.2 533 1292.6 533 1293.5 551 1294.3 547.7 1295.3 533 1296.6 505.4 1297.6 533 1298.7 505.4 1299.4 533 1300.5 505.4 1301.2 533 1302.1 555.7 1303.1 477.7 1303.7 533 1304.7 533 1305.4 560.6 1306.2 533 1307.5 553.4 1308.9 555.6 1310.1 533 1310.7 549.9 1311.9 552.4 1312.8 505.4 1313.9 533 1315.1 450 1316.5 533 1317.1 550.6 1317.9 555.1 1319.1 533 1319.8 533 1321.1 505.4 1322 533 1323 477.7 1323.6 533 1324.5 533 1325.8 505.4 1326.6 533 1327.2 505.4 1328.2 533 1329.3 556.6 1330.5 551.3 1331.6 533 1332.2 553.4 1333.4 505.4 1334.6 533 1335.8 477.7 1336.6 552.2 1337.3 533 1338.4 533 1339.5 477.7 1340.4 533 1341.7 450 1343.1 533 1344.1 505.4 1345.5 549.3 1346.1 533 1347.4 505.4 1348.8 477.7 1349.8 505.4 1350.8 533 1351.8 533 1353.2 548.4 1354.4 505.4 1355.3 533 1356.4 533 1357.3 505.4 1358.5 533 1359.3 547.1 1360.1 533 1361.2 533 1362 505.4 1362.7 548.7 1363.9 477.7 1365.3 533 1366.3 533 1366.9 505.4 1367.6 533 1368.7 505.4 1369.9 558 1370.9 505.4 1371.9 533 1373 549.2 1373.7 477.7 1374.3 533 1375.1 505.4 1376.2 533 1377.3 533 1378.6 558.8 1379.6 533 1380.4 533 1381 550.3 1381.8 533 1382.5 422.4 1383.3 505.4 1384.1 533 1385 505.4 1385.6 533 1386.3 533 1387.2 533 1388.1 533 1389.3 557.2 1390.5 533 1391.7 505.4 1393 505.4 1393.8 533 1394.9 533 1395.6 450 1396.5 533 1397.4 533 1398.3 533 1399.4 533 1400.8 477.7 1401.9 533 1403.3 533 1404.1 533 1404.8 552.7 1405.5 533 1406.3 533 1407 555.1 1408.3 505.4 1409.3 557 1410.4 547.9 1411.3 556.1 1412.3 552.1 1413.6 505.4 1414.9 554.7 1416 533 1417.1 505.4 1417.7 533 1418.3 533 1419 477.7 1420.1 505.4 1421.1 552.3 1421.7 558.4 1423 550.5 1423 560.7Z" class="dn"/>
<path d="M259 422.37H271.0V560.67H259" class="axl"/>
<text x="252.5" y="426.0" text-anchor="end" class="ax">6</text>
<text x="252.5" y="564.3" text-anchor="end" class="ax">0</text>
<text x="217.6" y="497.8" text-anchor="end" class="lb" textLength="144.5" lengthAdjust="spacingAndGlyphs">GSM2481689</text>
<path d="M271.6 714.6L271.6 680 272.5 645.5 273.1 680 273.9 706.5 275.2 680 276.3 705.6 277.5 645.5 278.6 680 279.9 645.5 281.2 698.7 282.1 645.5 283.4 680 284.2 707.1 285.3 680 286.1 645.5 287.5 698.5 288.8 680 290 699 291.1 645.5 292.2 680 293.4 713.1 294.7 680 295.9 713.8 297 610.9 297.9 705.9 299.3 645.5 299.9 680 301 680 302.3 645.5 303.6 680 304.6 645.5 305.6 680 306.6 710.5 307.4 680 308 680 308.7 645.5 309.3 680 310.4 645.5 311.6 680 312.8 710.3 313.7 680 314.6 645.5 315.4 680 316.5 709.2 317.3 680 318.2 610.9 319.1 707 320.4 645.5 321.7 680 322.4 680 323.6 711.4 324.4 645.5 325.3 680 326.5 680 327.5 680 328.8 680 330.2 697.5 331.1 710.8 332.3 680 333.1 680 333.8 680 335 645.5 336.2 699.1 337.5 645.5 338.3 680 339.2 704 340.1 706.4 341.3 680 342.5 645.5 343.9 700.4 344.5 713.7 345.3 680 346.3 714.6 346.9 610.9 347.6 713.1 348.6 680 349.7 680 350.4 680 351.5 708 352.2 645.5 353.4 680 354.3 680 355.5 645.5 356.5 680 357.6 680 358.6 698.4 359.5 710.1 360.4 700.5 361.6 703.1 362.7 645.5 363.3 680 364 645.5 364.8 680 366 645.5 367.4 610.9 368.6 645.5 369.3 698.4 369.9 645.5 370.7 680 371.8 707.8 372.7 680 373.4 645.5 374.3 711.8 375.5 680 376.5 645.5 377.2 645.5 378.2 680 379 610.9 379.9 645.5 380.7 707.5 382 680 382.6 680 383.3 680 384.6 645.5 385.5 680 386.8 705 387.8 707.7 389 680 389.8 702.9 391.1 680 391.9 645.5 393.2 710.2 394.5 645.5 395.2 680 396.1 645.5 396.7 680 397.7 645.5 399 680 399.7 645.5 400.4 698.9 401.1 610.9 402.3 680 403.5 645.5 404.9 680 405.6 680 406.8 680 407.5 645.5 408.3 703.3 409 680 410.1 680 411.3 680 412 645.5 413.2 680 414 645.5 414.7 680 415.9 680 416.8 645.5 417.7 712.7 418.5 712.7 419.7 680 420.6 700.5 421.8 680 422.6 680 423.4 645.5 424 699.2 425.3 645.5 426.5 702.7 427.3 645.5 428.5 680 429.5 680 430.2 680 431.2 680 432.3 699.2 433 680 433.9 576.3 434.9 709 436.2 682.8 437.3 702.2 438.5 610.9 439.8 707.4 440.5 713.3 441.2 711.8 442.2 704.6 443.2 707.7 444 708.3 444.9 686.6 445.5 682.4 446.2 680 446.9 680 447.7 680 448.4 680 449 680 450.2 680 451.1 645.5 451.9 680 452.6 680 453.3 645.5 454.1 706.6 455.5 680 456.7 680 457.4 697.8 458.5 714.1 459.2 680 460.3 711.1 461.7 698.7 463 709.3 464.1 680 465.4 680 466.2 698.6 467 700.2 468 680 468.8 706.3 469.6 704.1 470.8 680 472 680 473.2 680 474 703.5 475.3 645.5 476.4 610.9 477.1 645.5 477.8 680 478.4 680 479.1 645.5 480.2 680 481.5 680 482.5 704.2 483.7 680 484.4 712.7 485 645.5 485.6 610.9 486.9 645.5 488.1 708.6 489.2 645.5 490.3 711 491.3 713.3 492.2 680 493.4 645.5 494.5 680 495.9 680 496.5 680 497.9 699.5 499.3 705.3 500.2 698.2 501.2 645.5 502.5 610.9 503.2 709.5 504.2 645.5 505 680 506.2 709.6 506.9 680 507.6 702.5 509 708.2 509.7 680 510.8 645.5 511.6 645.5 512.4 680 513.1 680 513.9 680 515.1 645.5 516.3 714 517.1 610.9 517.9 705.2 518.6 645.5 519.5 680 520.5 645.5 521.8 710.3 522.5 705.8 523.8 680 524.4 645.5 525.7 645.5 527 680 528 680 529.1 705.1 530.1 645.5 531 711.9 531.9 645.5 533.1 704 533.8 680 534.6 698.8 535.3 680 536.6 703.5 537.4 680 538.6 680 540 709.1 540.9 680 542.3 680 543 680 544.2 703.7 545.5 709.7 546.9 710 547.8 680 548.6 712.1 550 702.9 551.1 713.7 552.3 645.5 553.6 680 554.5 680 555.9 680 556.6 680 557.9 680 559.3 697.7 560.1 706.2 561.2 680 562.4 704.8 563.4 680 564.7 645.5 566 711.5 567.4 680 568.1 645.5 569.1 712.6 569.7 697.5 570.8 713 571.9 645.5 572.7 680 573.6 645.5 575 699.7 576.2 709.9 576.9 708.7 578 706.8 579 697.6 580.1 680 581 701.2 581.6 645.5 582.5 680 583.8 645.5 585 680 586 680 587.1 704.5 587.8 645.5 588.6 680 589.4 680 590.7 645.5 592 698.8 592.9 645.5 593.8 680 594.6 704.3 595.3 708.5 595.9 680 596.8 680 597.9 680 598.6 702.7 599.2 697.5 599.9 706.3 600.8 708.9 601.8 711.1 602.7 703.5 603.3 680 604 680 605.2 680 606.6 680 607.4 645.5 608.1 680 609.3 610.9 610.5 680 611.4 645.5 612.1 698.4 612.8 680 613.6 680 614.5 700.2 615.1 680 615.9 645.5 616.8 680 617.7 680 618.9 645.5 620 680 621 645.5 622 645.5 623 680 624.3 710.8 625.5 645.5 626.5 680 627.7 680 628.7 706.3 629.8 680 630.8 711.1 631.5 680 632.8 705.2 634.2 709.6 634.8 708.5 635.8 645.5 636.9 680 637.9 645.5 638.6 680 639.6 680 640.2 680 641.2 680 642.2 699.6 643.3 680 644.1 712.6 645.5 610.9 646.8 680 647.8 680 649.2 701.9 650.6 702.4 651.8 645.5 652.6 711.7 653.8 680 655 705.9 656.2 610.9 657.2 680 658 680 659.2 645.5 660.5 708.2 661.1 698.7 661.9 701.8 662.8 680 664 680 664.7 645.5 665.4 680 666.6 680 668 680 669.2 680 670.3 576.3 671.4 645.5 672 707.9 673.3 680 674.1 645.5 674.9 680 675.6 680 676.6 680 677.3 680 678 680 679.2 645.5 680.4 680 681.3 645.5 682.3 680 683.4 680 684.8 680 686.2 680 687.1 645.5 688.1 680 688.7 699.6 690 702.9 690.9 680 691.6 680 692.9 645.5 693.7 610.9 694.9 645.5 695.6 680 696.9 680 698.1 707.3 699.2 680 700.3 680 701.5 680 702.3 645.5 703.5 706.4 704.3 680 705.3 680 706.1 680 707.1 645.5 708.1 680 708.8 701.6 709.7 680 710.5 645.5 711.6 712.8 712.8 680 713.7 680 714.8 698.8 715.6 702.3 717 701.2 718.3 704.3 719.7 698.9 720.6 710.9 721.9 680 723.2 680 724.6 680 726 680 727.3 680 728.6 645.5 729.5 680 730.5 680 731.5 645.5 732.9 700.4 733.5 680 734.9 698.8 735.9 707.2 736.6 680 737.9 645.5 738.8 680 740.1 680 741.2 680 741.9 680 743.2 680 744.1 680 745.1 680 746 645.5 746.9 706.3 747.6 706.3 748.5 708.1 749.4 680 750.4 680 751.4 711.4 752.7 699.6 753.5 680 754.5 700 755.8 680 756.5 706.8 757.7 702.9 759 645.5 759.7 680 760.8 680 762 680 763.3 645.5 764.5 680 765.1 680 766.5 645.5 767.2 706.9 768.2 645.5 769.5 709.7 770.3 707 771.2 709.1 772 709.5 772.7 704.3 773.6 680 774.3 645.5 775.2 703.4 776.2 645.5 777.2 680 778.4 645.5 779.3 713.3 780.2 711.1 781.1 610.9 782.1 711.5 782.9 680 783.7 610.9 784.8 680 785.8 645.5 786.7 680 787.7 705.6 788.6 705 789.5 680 790.1 680 791.4 680 792.5 680 793.7 610.9 794.5 680 795.7 704.6 796.5 713.6 797.8 702.5 798.9 680 799.6 645.5 800.3 610.9 801.6 700 802.2 680 803.3 701.8 804.7 680 805.9 708.2 806.8 645.5 807.4 680 808.1 680 809.5 704.5 810.8 645.5 812.1 701.5 813 680 814.2 610.9 815.1 680 816 680 817.1 680 818.5 701.5 819.3 700.4 820.4 705.6 821.3 645.5 822.5 712.7 823.6 680 824.8 645.5 825.9 680 827 680 827.8 700.7 828.8 680 829.6 701.4 830.8 700.4 831.4 680 832.3 703.8 833.2 645.5 834.1 680 834.9 712.6 835.9 680 837.1 704.6 838.2 645.5 839.6 680 840.4 711.1 841.1 645.5 842.1 700.4 842.8 680 843.5 704.9 844.3 680 845 645.5 846 680 847.1 645.5 847.8 703.9 849 680 850.1 680 851.3 699.8 852.6 702.5 853.7 680 854.5 680 855.8 645.5 857.2 645.5 858 645.5 859.2 680 860 645.5 860.7 714.1 862 610.9 863.4 709.6 864.7 699.3 865.7 698.3 866.6 610.9 867.2 697.5 868.3 702.2 869.2 680 870 709.1 871.1 680 871.9 710.9 873 645.5 874.1 705.5 875.3 680 876.4 645.5 877.7 700.6 878.4 645.5 879 680 880.2 680 881.1 645.5 882.1 709.4 883.3 699.4 884 680 884.9 680 886.2 699.6 886.9 708 887.9 645.5 889 680 890.1 680 891.1 645.5 892 701 892.7 698 893.6 711.5 894.8 645.5 895.7 645.5 896.8 680 897.9 645.5 898.9 711.1 900 680 901.4 645.5 902.5 680 903.8 645.5 905.1 680 905.8 713 906.5 699.8 907.3 680 908.2 708.7 909.2 680 910.5 645.5 911.7 680 912.4 707 913.3 645.5 914 680 915 680 916.2 704.9 917 680 918.1 704.7 918.8 680 920.2 701.5 920.9 680 922.1 713.8 923.1 680 924.3 645.5 925.6 702.4 926.3 680 927.4 680 928.7 680 930.1 645.5 931 680 932.2 645.5 933.1 610.9 934 712 935 680 935.9 645.5 936.6 680 937.4 712.7 938.1 707 939.4 645.5 940 680 941 645.5 942.3 680 943.4 713.6 944.2 680 945.3 645.5 946.2 680 946.9 645.5 947.9 645.5 949.1 680 950.1 680 950.8 645.5 951.9 680 953 714.2 954.3 645.5 955.5 680 956.4 680 957.1 680 958.3 680 959.6 680 960.4 680 961.7 703.3 962.5 680 963.6 680 964.5 645.5 965.4 680 966.4 680 967.4 680 968.2 708.6 969 680 969.8 680 970.9 680 971.9 645.5 973.3 680 974 698.9 975.2 705 976.3 699.8 977.2 645.5 978.1 699.9 979.2 711.2 980.5 699 981.6 645.5 982.5 712.9 983.8 645.5 984.9 680 985.9 680 987.1 680 988.4 680 989.5 709.1 990.7 700 991.6 645.5 992.5 610.9 993.7 711.1 994.9 680 996.3 712.4 997.5 645.5 998.3 705.8 999.3 703.3 1000.5 680 1001.3 701.7 1002.6 680 1004 697.5 1005.2 698.8 1006.2 709.2 1006.8 680 1007.6 680 1008.6 645.5 1009.2 680 1010.6 645.5 1011.8 680 1012.9 645.5 1013.8 680 1015 680 1015.8 680 1016.9 703.5 1018.2 698.3 1019.2 610.9 1020.4 705.8 1021.4 704.3 1022.8 645.5 1023.9 680 1025.1 699.4 1026 708.1 1027.2 680 1028.4 713.9 1029.1 610.9 1029.8 680 1030.7 707 1031.7 680 1033.1 705.2 1034.1 680 1035.1 712.9 1036.5 701.3 1037.3 697.7 1038.6 645.5 1039.8 709.6 1041.1 680 1041.8 680 1043.2 645.5 1043.9 645.5 1045.2 680 1046.6 680 1047.3 709 1048.5 713.9 1049.6 699.7 1050.9 705.2 1051.6 610.9 1052.6 700.9 1053.5 680 1054.3 680 1054.9 680 1055.8 680 1056.6 708.3 1057.8 645.5 1058.6 645.5 1059.8 610.9 1061.2 708.2 1061.9 711.5 1063.2 702.6 1064 680 1065 645.5 1065.8 680 1066.9 645.5 1067.7 680 1068.4 680 1069.3 697.6 1070.7 645.5 1071.4 680 1072.7 680 1073.4 697.4 1074.6 680 1075.3 680 1076.2 680 1077.5 700.5 1078.4 645.5 1079.2 680 1080.5 610.9 1081.4 711.6 1082.5 709.9 1083.6 706.8 1084.7 700 1085.5 704.3 1086.6 702.7 1087.4 706.6 1088.7 680 1089.8 645.5 1090.5 680 1091.7 697.6 1092.5 680 1093.1 710.7 1093.9 680 1094.7 680 1095.9 610.9 1096.8 702.1 1097.8 703.3 1098.6 645.5 1100 712.6 1101.1 645.5 1101.9 680 1102.7 704.5 1103.9 645.5 1105.2 680 1106 680 1106.8 645.5 1107.6 680 1108.8 645.5 1110.1 707 1111.3 680 1112.2 701.6 1113 645.5 1114 699.7 1114.6 645.5 1116 576.3 1116.7 701.5 1118.1 645.5 1119 680 1120.2 680 1121.2 706.5 1122.1 645.5 1122.8 680 1123.8 704.2 1124.9 709.5 1125.6 645.5 1126.3 680 1127 711.3 1128.3 705.4 1129.3 610.9 1130.1 680 1131.2 701.9 1132 645.5 1132.8 680 1133.4 703.2 1134.1 680 1135.1 706.7 1136.3 703.1 1137.3 708.5 1137.9 680 1138.8 680 1139.8 680 1141.1 698.1 1141.8 610.9 1142.8 701.2 1143.5 700.6 1144.8 680 1146 708.1 1147.1 645.5 1148.5 699.3 1149.5 645.5 1150.6 680 1151.4 645.5 1152.3 711.4 1153.1 645.5 1154 680 1155.3 610.9 1156.3 645.5 1157.6 680 1158.3 704.1 1159.2 645.5 1160 680 1161 680 1161.9 708 1162.5 645.5 1163.3 709.6 1164.1 706.1 1165.1 680 1165.7 710.3 1166.5 645.5 1167.4 680 1168.4 712.5 1169.2 712.2 1170.6 709.1 1172 645.5 1173.3 680 1174 645.5 1175.1 680 1176.1 645.5 1177 700 1178.3 680 1179.6 680 1180.3 708.8 1181.2 680 1182.2 680 1183.1 699.3 1184.4 680 1185.4 610.9 1186.2 702.9 1187 680 1187.6 680 1188.4 701.8 1189.3 701.4 1190.2 701.6 1191.5 645.5 1192.5 680 1193.1 700.6 1193.9 645.5 1194.8 705.4 1195.4 680 1196.1 610.9 1197.4 645.5 1198.3 680 1199.3 712 1200.2 645.5 1201 680 1201.7 698 1202.8 680 1203.7 645.5 1204.6 680 1205.4 645.5 1206.3 680 1207.2 645.5 1208.1 680 1209 645.5 1210 709.8 1211.2 645.5 1212 698.3 1213 680 1214.3 680 1215 680 1215.7 709 1217 680 1218.2 610.9 1219 680 1219.7 645.5 1220.9 680 1222.1 645.5 1223.1 680 1223.7 645.5 1224.6 680 1225.3 645.5 1226 645.5 1227.3 680 1228.1 712.5 1229.4 713.3 1230.4 645.5 1231.1 709.1 1232.5 712.3 1233.8 680 1235 680 1236.1 680 1237 702.9 1237.8 702.4 1238.6 697.6 1239.7 610.9 1240.8 680 1241.7 645.5 1243 680 1243.8 708.4 1244.4 680 1245.6 645.5 1246.9 699.4 1247.8 645.5 1248.6 680 1249.9 680 1251.1 610.9 1252.1 697.6 1252.9 680 1254 645.5 1255 680 1255.7 711.6 1256.6 645.5 1257.8 680 1259 645.5 1259.9 645.5 1260.8 710.9 1261.6 713 1262.4 703.2 1263.1 576.3 1263.8 680 1264.6 708.6 1265.5 713.9 1266.3 610.9 1267.2 680 1268.1 645.5 1268.7 680 1269.8 645.5 1270.8 680 1271.8 702.2 1273 707.7 1274 706.4 1275.2 680 1276.4 680 1277.5 680 1278.9 645.5 1279.5 680 1280.3 698 1281.2 698.7 1282.4 680 1283.5 706.5 1284.4 680 1285.5 680 1286.3 645.5 1287 703.4 1287.8 700.1 1288.5 713 1289.8 680 1290.8 680 1292.1 709.9 1292.9 645.5 1293.8 680 1294.6 680 1295.2 680 1295.9 702.6 1296.9 702 1297.8 680 1299 680 1300.2 680 1300.9 680 1301.6 645.5 1302.4 699.2 1303.7 703.8 1305 680 1306.3 680 1306.9 680 1308.3 680 1309.4 645.5 1310.5 697.9 1311.8 680 1312.6 680 1313.6 680 1315 680 1315.8 645.5 1317.2 680 1318.2 645.5 1318.9 680 1319.5 680 1320.5 680 1321.3 610.9 1322.1 645.5 1323.4 680 1324.1 680 1325.4 680 1326.7 645.5 1327.5 700.4 1328.8 645.5 1329.8 680 1330.8 680 1332.2 645.5 1332.9 706.9 1333.8 680 1334.7 645.5 1335.9 680 1336.5 645.5 1337.5 709 1338.4 707.2 1339.4 576.3 1340.7 680 1342 645.5 1342.9 680 1344.3 680 1344.9 645.5 1345.6 680 1346.2 680 1347.4 680 1348.7 709.3 1349.9 645.5 1350.6 680 1351.7 680 1352.4 680 1353.7 697.8 1354.5 714.3 1355.6 713.2 1356.5 680 1357.5 680 1358.2 680 1359.6 645.5 1360.8 700.7 1361.4 703.4 1362.7 700.1 1363.6 680 1364.6 645.5 1365.9 645.5 1366.9 645.5 1368.2 711.8 1369 645.5 1370.1 680 1370.9 645.5 1372.2 680 1372.8 680 1373.6 704.6 1374.3 714.3 1374.9 708.8 1375.7 680 1376.4 709.8 1377.5 714.4 1378.3 645.5 1379.1 610.9 1380 680 1381 645.5 1382.3 680 1383.5 705.8 1384.6 704.6 1385.9 645.5 1386.9 610.9 1388.2 703.9 1389.1 680 1389.9 645.5 1391.3 680 1392.5 645.5 1393.4 680 1394.6 645.5 1395.9 680 1397 645.5 1398.4 680 1399.7 680 1400.3 610.9 1401.4 680 1402.7 680 1403.5 645.5 1404.8 707.2 1405.6 710.2 1406.5 645.5 1407.8 680 1408.6 713.1 1409.3 680 1410.5 708.2 1411.7 699.2 1412.7 680 1413.6 645.5 1415 680 1416.1 706.2 1417.3 705.5 1418.1 703.6 1419.1 703.7 1419.9 701.1 1421 645.5 1422.2 680 1422.8 710.7 1422.8 714.6Z" class="dn"/>
<path d="M259 576.31H271.0V714.61H259" class="axl"/>
<text x="252.5" y="579.9" text-anchor="end" class="ax">4</text>
<text x="252.5" y="718.2" text-anchor="end" class="ax">0</text>
<text x="217.6" y="651.7" text-anchor="end" class="lb" textLength="144.5" lengthAdjust="spacingAndGlyphs">GSM2481688</text>
<path d="M271.6 868.5L271.6 845.5 272.5 845.5 273.4 859.3 274.7 845.5 275.4 845.5 276.7 859.2 278 845.5 279.2 858.4 279.8 862.7 280.6 822.4 281.9 845.5 283.2 822.4 284.5 845.5 285.5 845.5 286.4 868 287 845.5 288 822.4 288.8 845.5 289.9 845.5 291.1 845.5 292.4 845.5 293.2 861.4 294 845.5 294.6 858.2 296 868.3 296.8 863.8 298.1 865.2 298.9 845.5 300.3 845.5 300.9 822.4 301.8 799.4 303.2 845.5 303.8 845.5 305 845.5 306 822.4 306.7 845.5 308 845.5 309 845.5 309.8 859 310.8 865.6 311.6 822.4 312.3 845.5 313.7 822.4 314.8 860 315.8 866.1 317.1 776.3 318.2 859.1 319.2 865.4 320.6 822.4 321.9 868 323.3 857.4 324.4 866.6 325.5 857.9 326.3 857.9 326.9 822.4 328.1 862.2 329.4 864.7 330.7 845.5 331.4 845.5 332.3 861.5 333.1 862.5 333.7 867.6 334.7 865 335.5 867.4 336.2 862.6 337.1 867.8 338.4 822.4 339.4 776.3 340.7 845.5 341.5 822.4 342.7 845.5 343.7 845.5 344.7 799.4 346 822.4 347.4 845.5 348.5 822.4 349.5 799.4 350.8 845.5 351.5 864.4 352.6 867.6 353.3 822.4 354.2 845.5 355.3 845.5 356.7 845.5 357.5 845.5 358.1 859 359.4 866.7 360.4 822.4 361.6 867.2 362.8 861.4 364 863.9 365.1 865 365.9 822.4 367.2 845.5 368.5 845.5 369.1 845.5 370.2 845.5 371.6 845.5 372.3 857.2 373.6 845.5 374.4 822.4 375.7 866.8 376.5 866.7 377.7 822.4 378.5 845.5 379.2 845.5 379.9 822.4 380.7 860.4 381.9 858.4 383.1 860.2 384.1 822.4 385.1 845.5 386.4 845.5 387.6 864.8 388.5 822.4 389.1 866.8 389.8 865.9 390.9 866.4 392.1 857.9 393.5 858.9 394.6 861.4 395.9 858.2 397 861.3 397.8 865 399.1 822.4 400.4 858.4 401.5 799.4 402.9 845.5 404.1 845.5 405.2 845.5 405.8 858.1 407 857.3 408.2 822.4 409.3 845.5 410.5 845.5 411.2 822.4 412.4 865.1 413.4 845.5 414.7 858.6 415.6 860.4 416.5 822.4 417.9 845.5 419 864.8 420.1 845.5 420.9 822.4 421.6 867.5 423 845.5 424.3 858.3 425.3 864.6 426.3 845.5 427.6 822.4 428.4 845.5 429.7 822.4 430.5 868.2 431.7 845.5 432.5 822.4 433.6 845.5 434.4 857.6 435.5 822.4 436.7 858.8 437.4 845.5 438.4 845.5 439.6 859.8 440.2 845.5 441.3 845.5 442.2 845.5 443.5 845.5 444.9 845.5 445.7 860.1 447 845.5 448.2 845.5 449.1 845.5 450.1 845.5 451.3 863.7 452 822.4 453 862.5 453.7 845.5 454.9 845.5 456.1 799.4 456.9 845.5 457.7 845.5 458.6 862.3 460 845.5 461 845.5 462.3 845.5 463 861.7 464.4 799.4 465.5 859.1 466.8 857.7 468 845.5 468.6 822.4 469.4 845.5 470.5 858.3 471.4 845.5 472.7 867.7 473.6 863.6 474.9 857.5 476.2 857.9 477.6 868.5 478.4 845.5 479.5 799.4 480.5 867.8 481.5 867.3 482.7 845.5 483.8 845.5 484.4 866.7 485.6 845.5 486.5 862.5 487.6 845.5 488.5 862.3 489.6 822.4 490.8 857.5 491.7 845.5 492.6 845.5 493.5 799.4 494.7 822.4 495.9 845.5 496.6 868.2 497.2 845.5 498.2 845.5 499.6 845.5 500.6 865.2 501.2 845.5 501.8 863.5 503 864.6 503.9 845.5 505.1 845.5 506.5 845.5 507.4 845.5 508.2 845.5 508.9 845.5 510.1 864.9 511.2 822.4 511.9 858.4 513.3 863.5 514.4 845.5 515.8 845.5 516.4 861.3 517.5 845.5 518.8 845.5 519.8 867.1 521.1 860.5 522.3 865.3 523 845.5 524 857.3 525.3 857.8 526.5 822.4 527.7 776.3 528.8 845.5 529.9 845.5 531.3 865 531.9 866.8 533.2 845.5 533.8 845.5 535 845.5 536.3 845.5 537 845.5 538.2 845.5 539.2 845.5 540.3 858 541.1 845.5 541.8 864.6 543 845.5 543.8 845.5 544.4 861.2 545.7 859 546.9 858 547.6 866.6 548.6 822.4 549.5 845.5 550.6 845.5 551.5 822.4 552.3 859.2 553 857.5 554.2 845.5 555.3 822.4 556.3 845.5 557 845.5 558 822.4 559.2 845.5 560 868.5 561 845.5 562.3 845.5 563 857.4 563.7 799.4 564.5 863.2 565.5 866.6 566.4 863.4 567.3 859.8 568.5 845.5 569.7 858.1 571 822.4 571.7 845.5 572.7 845.5 573.8 845.5 574.5 845.5 575.4 845.5 576.6 845.5 577.5 868.1 578.6 858.3 579.4 845.5 580.2 859.7 580.9 860.1 581.8 845.5 582.9 845.5 583.9 859.7 585 845.5 586.3 822.4 587 845.5 588.2 845.5 589.5 845.5 590.3 857.3 590.9 822.4 592.2 845.5 593.2 859.4 594.2 799.4 595.3 860.3 596.7 845.5 597.5 845.5 598.6 776.3 599.2 845.5 600.5 822.4 601.2 845.5 602.2 866.6 603.5 845.5 604.3 845.5 605.3 858.6 606.5 860.6 607.8 822.4 608.7 845.5 609.6 864.5 610.3 822.4 611.7 845.5 612.8 845.5 613.7 858.3 615 865.6 616.3 845.5 617 845.5 617.8 845.5 619.1 845.5 620.1 845.5 621 845.5 622 845.5 623.1 799.4 624.2 822.4 624.9 845.5 626 861.1 627.1 822.4 628.1 845.5 628.7 845.5 629.5 866.8 630.6 857.9 631.9 799.4 632.7 845.5 633.9 845.5 634.5 859.1 635.2 867 636.6 861.9 637.9 864.6 639 822.4 640 861.7 641.4 845.5 642.8 859.4 644.1 861.1 644.7 799.4 645.9 863.8 646.9 862.9 648 861.9 648.9 864.5 650.1 866 651 860.1 651.8 863.4 652.6 860.2 653.7 845.5 654.4 845.5 655.2 845.5 656.4 845.5 657.6 845.5 658.9 822.4 660.2 799.4 661.1 822.4 662 867.7 662.9 863 664.3 845.5 665 845.5 665.8 845.5 667.2 822.4 667.9 868.3 668.7 845.5 669.8 845.5 670.7 776.3 671.5 859 672.9 863.6 673.6 822.4 674.3 858.8 675.7 845.5 676.8 822.4 677.6 858.4 678.6 859.1 679.3 858.4 680.1 845.5 680.8 845.5 681.6 861.2 682.7 845.5 683.8 822.4 684.6 860.1 685.7 845.5 686.7 859.1 687.8 859.6 688.5 845.5 689.2 845.5 690.1 845.5 690.9 845.5 692.1 845.5 692.9 845.5 693.6 868.4 694.3 859.5 695 845.5 695.6 864.3 697 845.5 698 822.4 698.8 845.5 699.9 845.5 700.7 865.4 701.8 845.5 702.4 865.8 703.4 866.7 704.4 863.1 705.5 862.4 706.2 860.9 707.3 866 708.2 857.4 709.1 864.3 710.3 845.5 711.3 862 712.3 858.2 713.5 859.5 714.5 857.6 715.8 845.5 716.8 860.9 718 845.5 718.9 860.6 719.8 862.5 720.9 822.4 721.7 858.8 723.1 822.4 724.3 862.5 725 845.5 725.9 861.1 726.9 822.4 727.9 867.2 728.5 822.4 729.2 845.5 730.1 845.5 731.1 845.5 732.2 845.5 733 822.4 734.1 864.6 735.2 857.5 736.2 862.8 737.1 859.1 738.1 822.4 739.3 845.5 740.4 860.2 741.3 753.3 742.4 862.9 743.3 860 744.4 845.5 745.6 859.7 746.8 822.4 748.1 845.5 749.4 845.5 750.5 822.4 751.1 865.3 752.1 799.4 753.1 845.5 754.4 862.8 755.4 799.4 756.3 845.5 757.2 845.5 758.4 867.1 759.3 864.9 760.1 845.5 761.4 845.5 762.5 845.5 763.5 845.5 764.7 822.4 765.4 845.5 766.1 858.7 767.4 857.8 768.6 868.4 769.5 845.5 770.8 822.4 771.6 864.9 772.6 845.5 773.7 845.5 774.8 845.5 775.6 845.5 776.5 845.5 777.6 845.5 778.9 845.5 780.3 845.5 781.2 799.4 782.5 845.5 783.6 845.5 784.6 845.5 785.6 861.5 786.7 862.7 787.8 822.4 788.9 857.3 790.3 858.2 791.3 845.5 792.5 822.4 793.9 845.5 795 799.4 796.4 845.5 797.3 845.5 798 866.5 799.1 822.4 799.9 845.5 800.6 822.4 801.8 845.5 802.4 845.5 803 845.5 803.8 822.4 804.5 867.9 805.7 845.5 807 845.5 807.9 845.5 808.7 859 809.9 822.4 810.9 845.5 812.1 845.5 813.1 845.5 813.9 845.5 814.7 862.4 815.6 845.5 816.5 822.4 817.4 845.5 818.6 776.3 819.5 845.5 820.2 845.5 821.2 799.4 822.4 822.4 823.5 845.5 824.8 822.4 825.5 862.4 826.1 845.5 827.4 866 828.4 822.4 829.2 845.5 830.3 866.9 831.1 822.4 831.9 845.5 833.1 845.5 834 799.4 834.7 860.1 835.8 845.5 836.8 845.5 838.1 845.5 839.1 845.5 840.2 822.4 841.3 845.5 841.9 867.9 842.7 857.5 844 845.5 845.1 845.5 845.8 845.5 846.4 857.2 847.6 845.5 848.7 822.4 849.6 845.5 850.9 845.5 851.6 857.3 852.2 862.6 852.9 845.5 853.5 822.4 854.5 845.5 855.4 776.3 856 845.5 857.4 865 858.7 859.7 859.3 822.4 860.1 845.5 861.3 859.4 862.2 845.5 863.5 845.5 864.1 861.1 864.8 861.1 865.5 864.1 866.1 822.4 867.2 845.5 868 822.4 869.1 845.5 870.5 845.5 871.8 845.5 872.5 799.4 873.2 865 874.2 845.5 875.3 864.2 876.3 822.4 876.9 845.5 877.6 845.5 878.6 858.8 879.5 857.6 880.3 859.6 881.1 860.2 882.2 845.5 883 845.5 883.9 822.4 885 868 886.2 848.7 887.5 853.5 888.5 857.4 889.4 860.9 890.4 868.4 891.2 867.9 892.5 864.1 893.5 860.4 894.2 857.8 895.3 853.4 896.6 848.5 897.8 822.4 898.4 845.5 899.7 862.1 900.9 864.8 901.8 845.5 903.2 845.5 904 822.4 904.7 845.5 905.8 845.5 907.2 864.7 908.4 863.7 909.4 799.4 910.5 862.5 911.1 845.5 912 845.5 912.9 845.5 913.9 845.5 914.8 822.4 916.1 858.2 917.1 845.5 918.4 845.5 919.5 799.4 920.5 862.3 921.7 866 922.9 863.9 924.1 863.9 925.2 845.5 926.5 822.4 927.5 845.5 928.2 845.5 928.8 799.4 929.7 822.4 930.3 845.5 931.3 845.5 932 822.4 933.3 845.5 934.1 868.3 935.1 822.4 936.2 845.5 937.3 845.5 938.5 822.4 939.5 845.5 940.4 845.5 941.5 863.1 942.4 859.9 943.3 862.2 944 822.4 945.4 799.4 946.3 866 947.4 845.5 948.6 845.5 949.6 860.1 950.8 866.8 952.1 845.5 953.3 867.8 954.6 730.2 955.4 822.4 956.6 845.5 957.8 822.4 958.9 845.5 959.8 845.5 960.7 863.4 961.8 845.5 963.1 858.9 963.8 845.5 964.6 822.4 965.8 865.9 966.9 861.5 967.7 861.1 968.4 867.5 969.5 845.5 970.8 860.3 972 822.4 973.4 860.1 974 822.4 974.7 858.1 975.3 865.1 976.4 822.4 977.3 845.5 978.4 845.5 979.5 822.4 980.3 845.5 981.1 845.5 981.8 845.5 982.8 865.3 983.8 857.4 984.8 866.9 985.8 799.4 986.6 867.7 988 845.5 988.8 845.5 990 845.5 991.4 861.4 992.2 845.5 993.3 860.9 994.3 845.5 994.9 845.5 996.2 822.4 996.9 845.5 998 862.1 999.1 867.2 1000.4 859.3 1001 858.3 1002.1 845.5 1003.1 845.5 1003.9 845.5 1005.1 845.5 1006.2 868.5 1006.9 845.5 1008 845.5 1008.8 845.5 1010.1 822.4 1011.3 845.5 1012.4 867.9 1013.5 822.4 1014.3 859.7 1015.5 861.6 1016.3 845.5 1017.6 845.5 1018.7 822.4 1019.6 845.5 1020.7 845.5 1021.7 845.5 1022.3 845.5 1023.3 845.5 1024.1 845.5 1025.2 845.5 1026 845.5 1027.2 860.2 1027.9 858.1 1028.5 845.5 1029.4 867.3 1030.2 865.3 1031.6 868.1 1032.8 845.5 1033.6 865.1 1034.6 845.5 1035.2 845.5 1036 845.5 1037 845.5 1038.2 858.4 1039.3 862.8 1040.3 845.5 1041.5 822.4 1042.3 845.5 1043.1 845.5 1044 845.5 1045.1 776.3 1046.4 845.5 1047 822.4 1048.3 845.5 1049.1 865.7 1050.4 845.5 1051.6 845.5 1052.7 866.6 1053.7 866.4 1054.9 845.5 1055.6 845.5 1056.9 845.5 1058.1 845.5 1059.4 857.7 1060.7 845.5 1061.3 845.5 1062 865.5 1062.9 858.5 1064.3 859.6 1065.4 845.5 1066.7 822.4 1068 858 1069 822.4 1069.7 845.5 1070.4 845.5 1071.7 857.5 1073.1 845.5 1074 845.5 1074.8 862.5 1075.5 845.5 1076.7 822.4 1077.4 845.5 1078.3 845.5 1079.2 863.8 1080.3 860.4 1081.2 845.5 1082.4 845.5 1083.1 822.4 1084 845.5 1084.9 822.4 1085.8 867.5 1086.8 861.9 1088 822.4 1089.1 776.3 1090.3 845.5 1091.7 822.4 1092.7 845.5 1093.4 862 1094.6 863.3 1095.4 860.1 1096.5 865.7 1097.3 866.8 1098.6 845.5 1099.2 845.5 1099.8 845.5 1101.1 845.5 1101.8 845.5 1102.5 860 1103.5 861.1 1104.4 864 1105.1 857.3 1106.4 861 1107.2 845.5 1108 862.8 1109.1 845.5 1110.1 858.1 1111.2 845.5 1112.2 845.5 1113.3 799.4 1114.5 864.2 1115.3 866.6 1116 845.5 1116.7 845.5 1117.9 868.2 1118.9 845.5 1119.6 861.7 1120.4 862.5 1121.2 858.6 1122.3 822.4 1123.1 862.6 1124.3 845.5 1125.4 845.5 1126.2 865.9 1127 862.6 1127.7 822.4 1128.7 822.4 1129.5 845.5 1130.2 859.3 1131 845.5 1132.3 868.5 1133.5 865.2 1134.2 822.4 1134.9 845.5 1135.8 822.4 1136.6 861.2 1137.6 861.6 1138.3 822.4 1139.4 861 1140.6 845.5 1141.8 822.4 1142.7 845.5 1143.3 845.5 1144.4 845.5 1145.5 845.5 1146.1 845.5 1147.1 860.7 1147.8 845.5 1149.2 858.8 1150.1 822.4 1151.1 860.9 1152.4 822.4 1153.1 863.3 1154.4 822.4 1155.6 776.3 1156.8 865.8 1157.7 866.5 1158.4 845.5 1159 868.2 1159.8 861.5 1160.8 845.5 1161.7 845.5 1163.1 858.8 1163.8 867.3 1164.9 865 1165.9 845.5 1167 822.4 1167.8 860.7 1168.7 845.5 1169.8 845.5 1171 845.5 1171.6 845.5 1172.6 864.3 1173.8 845.5 1175 822.4 1176.3 845.5 1176.9 776.3 1178 861.5 1179.1 864.8 1179.7 845.5 1181.1 864 1182 822.4 1183.2 860 1184.1 822.4 1185 822.4 1186.1 866.4 1186.9 866 1187.9 866.8 1188.7 822.4 1189.5 845.5 1190.3 845.5 1191.6 865.5 1193 799.4 1193.6 864.2 1194.9 859.1 1195.8 845.5 1197.1 862.4 1197.7 822.4 1199.1 845.5 1199.8 822.4 1200.5 845.5 1201.4 822.4 1202.1 859.7 1203.1 864.1 1203.7 863.6 1205 859.5 1206.4 799.4 1207.1 862.9 1208 822.4 1209.3 845.5 1210.2 861.3 1210.9 866.2 1212.2 858.1 1213.1 864 1213.8 822.4 1215.2 845.5 1216.5 845.5 1217.3 845.5 1218.4 845.5 1219.3 845.5 1220.3 868.2 1221.4 845.5 1222.2 858.7 1223.4 799.4 1224.6 822.4 1225.6 845.5 1226.7 845.5 1227.3 845.5 1228.4 845.5 1229.6 845.5 1230.5 845.5 1231.8 845.5 1232.9 857.1 1233.6 845.5 1234.5 845.5 1235.3 845.5 1236.6 862.1 1237.2 822.4 1237.9 845.5 1238.7 857.6 1239.6 845.5 1240.3 858.1 1241.4 845.5 1242.3 845.5 1243.1 866.5 1244.2 845.5 1244.9 845.5 1245.6 845.5 1246.7 822.4 1247.7 861.1 1248.7 799.4 1249.5 867.1 1250.2 845.5 1251.5 867 1252.5 867.3 1253.4 822.4 1254.2 845.5 1255 859.4 1256.1 799.4 1257.1 845.5 1258.3 867.7 1259.1 865.9 1260 868 1260.7 845.5 1261.4 845.5 1262.1 861.2 1263.4 868.1 1264.4 857.2 1265.6 861.3 1266.7 845.5 1267.5 845.5 1268.3 858.6 1269.2 863.8 1269.8 822.4 1270.6 864.5 1271.4 845.5 1272 845.5 1272.9 860.9 1274 845.5 1275 867.3 1276.3 845.5 1277.4 776.3 1278.8 845.5 1279.7 865.4 1280.3 866.4 1281.6 845.5 1282.8 845.5 1284 845.5 1285.3 845.5 1286.7 865.5 1287.5 859.5 1288.2 865.8 1289.1 866.7 1290.4 845.5 1291.6 864.4 1292.9 866.6 1294.2 845.5 1295.1 845.5 1295.9 845.5 1297 845.5 1297.9 822.4 1298.8 845.5 1299.5 845.5 1300.6 845.5 1301.8 799.4 1302.4 822.4 1303.6 866.6 1304.9 862.9 1305.5 845.5 1306.8 845.5 1307.5 822.4 1308.3 845.5 1309.6 845.5 1310.4 845.5 1311 845.5 1312 861.6 1312.9 867.7 1314.2 864.5 1315.3 845.5 1316.1 845.5 1317 845.5 1317.7 822.4 1318.5 845.5 1319.4 845.5 1320.8 864.5 1322 865.9 1323.1 822.4 1324.4 845.5 1325.4 822.4 1326.1 845.5 1327.3 859.2 1328.2 867.1 1329 866.8 1330.2 857.1 1331.5 845.5 1332.3 845.5 1333.3 845.5 1334 858.2 1335.3 845.5 1335.9 845.5 1336.8 859.7 1338 864.7 1339.2 845.5 1340.4 857.9 1341.1 866.1 1341.9 845.5 1342.5 845.5 1343.5 845.5 1344.6 845.5 1345.6 822.4 1346.8 845.5 1348.1 868.2 1348.8 845.5 1349.5 845.5 1350.5 857.1 1351.6 822.4 1352.9 862 1353.9 845.5 1355.3 822.4 1356.5 862.4 1357.4 867.2 1358.1 845.5 1359.4 845.5 1360.1 860.2 1361.2 858.1 1362.5 859.8 1363.3 861.8 1364.1 862.7 1364.8 845.5 1366 845.5 1367.2 822.4 1368.6 845.5 1369.7 822.4 1370.6 845.5 1371.3 867.7 1372.2 845.5 1373.6 845.5 1374.9 866.2 1375.6 862.8 1376.8 845.5 1377.6 845.5 1378.6 860.9 1379.3 860.9 1380.4 845.5 1381.1 822.4 1381.8 864.5 1382.7 865.1 1383.4 857.2 1384.4 868.4 1385.4 861.1 1386.4 858.4 1387.5 857.5 1388.7 861.1 1389.7 845.5 1390.6 822.4 1391.9 845.5 1393 822.4 1393.8 799.4 1394.7 845.5 1396 861.9 1397 863 1397.9 866 1399 822.4 1399.8 857 1401.1 799.4 1402.4 822.4 1403.4 845.5 1404.4 845.5 1405.5 859.8 1406.4 845.5 1407.3 845.5 1408.3 822.4 1409.3 845.5 1410 858 1411.2 845.5 1412 822.4 1413.4 845.5 1414.2 845.5 1414.9 845.5 1416.1 863.6 1417.1 860.3 1417.7 868.3 1418.5 822.4 1419.2 845.5 1420.6 866.6 1421.4 822.4 1422.3 845.5 1423.4 845.5 1423.4 868.5Z" class="dn"/>
<path d="M259 730.24H271.0V868.54H259" class="axl"/>
<text x="252.5" y="733.8" text-anchor="end" class="ax">8</text>
<text x="252.5" y="872.1" text-anchor="end" class="ax">0</text>
<text x="217.6" y="805.6" text-anchor="end" class="lb" textLength="144.5" lengthAdjust="spacingAndGlyphs">GSM2481687</text>
<path d="M271.6 1022.5L271.6 999.4 272.8 1013.9 274.2 1017.1 275.5 1021.2 276.5 999.4 277.1 999.4 278.4 1020.6 279.7 1015.4 280.4 1012.4 281.2 1012.4 282 999.4 282.7 1014.5 284.1 999.4 284.9 999.4 285.7 930.3 286.8 999.4 288.1 999.4 289.1 1021.8 290.5 1013.8 291.7 1013.4 292.6 999.4 293.4 1020.2 294.6 1018.5 295.5 1021.2 296.7 1022.1 298 1018.5 299.1 953.3 300.1 999.4 300.9 999.4 302 1020.6 302.7 953.3 303.5 976.4 304.4 999.4 305.8 999.4 307 999.4 308.4 976.4 309.1 999.4 310.4 999.4 311.8 1011.2 312.7 1017 313.5 999.4 314.9 1015.2 315.9 999.4 317.2 1018.3 318.4 1014.8 319.6 1019.2 320.6 1019.1 321.9 999.4 323 999.4 324 1015 325.2 1014 326.5 1012.4 327.6 1016.5 328.6 1011.7 329.6 1014.1 330.3 999.4 331.3 976.4 332.4 953.3 333.1 1020 334.3 999.4 335.1 999.4 335.9 999.4 336.5 999.4 337.6 884.2 338.9 999.4 339.8 999.4 341 999.4 342.1 999.4 343 953.3 344.2 999.4 345.1 999.4 346.2 1011.3 347.3 1022.5 348 999.4 349.1 1018.1 350 976.4 350.9 1011.9 352 1016.8 352.9 1016.8 353.8 999.4 354.7 976.4 356 999.4 356.8 1013.5 357.6 976.4 358.4 999.4 359.5 953.3 360.2 1019 361.3 999.4 362.2 999.4 363.3 953.3 364.3 1012.2 365.3 1013.5 366.3 1015.2 367.2 999.4 368.5 999.4 369.8 976.4 370.9 999.4 372.2 953.3 373.1 999.4 373.9 976.4 374.5 976.4 375.7 999.4 377 1014.4 377.7 999.4 379 1020.9 379.9 999.4 380.8 999.4 381.4 999.4 382.1 999.4 383.3 1020.9 384.2 999.4 385.6 999.4 386.7 999.4 387.7 1016.1 388.8 999.4 390 999.4 390.8 999.4 391.6 1014.9 392.2 999.4 393.3 976.4 394.3 999.4 395.5 999.4 396.8 1019.9 397.5 1013 398.3 999.4 399.1 999.4 400 976.4 401.1 1017.5 402.4 999.4 403.6 999.4 404.2 999.4 405.6 976.4 406.2 999.4 407.1 999.4 407.8 999.4 408.7 1020.7 409.5 999.4 410.3 999.4 411.7 976.4 412.8 1017 414.2 953.3 415 1020.6 415.8 1019.8 416.4 1018.3 417.3 999.4 418.4 953.3 419.6 1015 420.5 999.4 421.8 999.4 422.8 1016.5 423.7 1021.7 425 1021.9 425.8 1017.9 426.4 999.4 427.1 976.4 427.8 999.4 428.8 999.4 429.5 976.4 430.6 1020 431.2 999.4 432.1 999.4 433.5 999.4 434.7 999.4 435.6 976.4 436.8 999.4 437.5 999.4 438.4 999.4 439.1 1021.9 439.8 999.4 440.8 976.4 441.8 1014.9 443 976.4 444.2 1014.1 445.3 1018.1 446 1020.5 446.8 999.4 448 999.4 448.7 999.4 450 1015.4 450.8 999.4 451.4 976.4 452.5 999.4 453.3 1017.3 454.6 999.4 456 999.4 456.9 1011.7 457.9 999.4 459.2 999.4 460.6 999.4 461.6 1017.9 462.3 999.4 463.2 1019.7 464.1 1012.8 465.4 999.4 466.6 999.4 467.4 999.4 468.7 976.4 469.6 1012.5 470.7 999.4 471.7 999.4 472.6 999.4 473.4 999.4 474.6 976.4 475.8 1014.5 477 1018.3 478.1 999.4 478.7 999.4 479.8 1014.2 480.6 953.3 481.3 1014.8 482.7 1012.8 483.8 999.4 485.2 976.4 486.2 999.4 487.1 999.4 488.4 1015.4 489.3 1014.5 490.4 976.4 491.1 999.4 492.2 1020.5 493.4 999.4 494.4 1012.3 495.6 999.4 496.9 999.4 498 1020.3 498.6 1016 499.7 999.4 500.8 1014.1 501.5 1011.4 502.3 1011.8 503.1 1017 503.8 999.4 504.5 999.4 505.7 1013.1 507 1011.4 508.1 999.4 508.7 999.4 509.7 1013.9 510.3 999.4 511 999.4 512.2 976.4 513.5 976.4 514.4 999.4 515.3 1011.9 516.2 999.4 517.4 999.4 518.3 1016.5 518.9 999.4 519.6 999.4 520.5 1016.2 521.5 999.4 522.7 976.4 523.6 999.4 524.6 999.4 525.2 976.4 526.2 999.4 527 1014.6 528 1017.9 529.2 976.4 530.3 999.4 530.9 1017.7 532.2 1018.1 533.6 1020.8 534.9 1011 535.6 999.4 536.5 1021.1 537.2 999.4 538.5 1020.2 539.1 1015.6 539.8 1011.7 540.5 999.4 541.7 976.4 542.4 976.4 543.1 999.4 544 999.4 545 1019.7 546.1 999.4 546.8 999.4 547.4 1017.6 548.4 1021.8 549.4 1018 550.3 1019 551.2 953.3 552.3 1011.5 553.7 976.4 554.3 999.4 555.3 976.4 556.2 999.4 557.1 999.4 557.8 953.3 558.5 999.4 559.9 999.4 561.1 1019.5 562.4 999.4 563.2 976.4 564.1 1020.4 564.8 1013.9 565.9 1022 567.1 1022 568.2 1014.2 569.3 976.4 570 999.4 570.7 999.4 571.8 1014.2 572.4 1021.1 573.6 999.4 574.8 976.4 575.8 999.4 576.6 1020.1 577.3 999.4 578.4 1020.5 579.1 1017.3 580.2 999.4 581.2 976.4 582.2 1017.6 583.4 999.4 584.2 976.4 585 999.4 586.4 976.4 587.3 999.4 588.6 953.3 589.9 999.4 591.1 999.4 592 999.4 593.1 976.4 593.8 999.4 595.2 1012.1 596.2 1017.7 596.9 1016 597.8 1016.6 599.1 999.4 600.3 999.4 601 1016.2 601.9 976.4 602.9 999.4 604.2 999.4 605.6 976.4 606.6 999.4 607.9 999.4 609.3 999.4 610.1 1019.5 611.1 999.4 611.8 1014.1 612.5 999.4 613.2 999.4 614.5 999.4 615.2 999.4 616 999.4 616.7 1018.6 617.8 976.4 619.2 999.4 620.5 999.4 621.4 1021 622.5 1022.5 623.9 1014.9 624.8 1018.6 626 1015.4 627.2 999.4 628.5 1012.8 629.1 999.4 629.9 1012.6 630.6 1018 631.8 999.4 632.9 999.4 633.9 999.4 635.1 999.4 636.3 999.4 636.9 976.4 637.6 999.4 638.9 999.4 639.8 1017 640.8 1013.3 642 1015.4 643.2 999.4 644.5 1020.2 645.2 999.4 645.8 999.4 646.8 999.4 647.7 976.4 649 1020 649.9 999.4 650.9 1014.5 652.2 1012.4 653.5 999.4 654.7 1014.3 655.6 999.4 656.8 1020.3 657.8 999.4 658.9 999.4 659.7 999.4 660.6 999.4 661.7 1012.9 662.5 999.4 663.1 999.4 664.3 976.4 665.3 1015.5 666.3 953.3 667.6 999.4 668.8 999.4 669.6 1015.6 670.3 999.4 671.6 1018.9 672.7 1016.5 673.4 1015.1 674 999.4 674.7 999.4 675.4 1019.7 676.2 1019 677.6 999.4 678.9 999.4 679.7 1017.2 680.4 999.4 681.3 1021.8 682.1 976.4 683.1 999.4 684.4 953.3 685.5 999.4 686.5 999.4 687.8 999.4 688.9 999.4 689.8 1022 690.5 953.3 691.2 999.4 691.8 999.4 692.7 1016.6 693.9 976.4 694.7 999.4 695.8 976.4 696.7 1011.6 698 1011 698.7 1017.2 699.6 953.3 700.5 999.4 701.4 999.4 702.3 976.4 703.4 999.4 704.5 976.4 705.7 999.4 706.8 976.4 707.4 999.4 708.4 930.3 709.8 1019.9 710.8 1021.1 711.5 999.4 712.2 976.4 713.4 1012.8 714.6 999.4 715.3 999.4 716.2 999.4 717.5 1014.1 718.7 999.4 719.8 953.3 720.6 999.4 721.2 999.4 722.6 976.4 723.8 999.4 724.7 999.4 726 1019.1 726.7 1015.7 727.5 1019 728.3 1015.7 729.1 976.4 729.8 999.4 731 976.4 732.1 1021.6 732.8 999.4 734 999.4 735.1 1019 736.1 1018.9 736.9 999.4 737.6 999.4 738.4 976.4 739 999.4 739.6 999.4 740.6 1021.6 741.4 999.4 742.2 976.4 743.2 999.4 744.2 999.4 745.3 999.4 746.6 1015.4 747.2 1018.7 748.3 999.4 749.5 1014.3 750.6 999.4 751.7 976.4 752.5 999.4 753.7 1017.1 755 976.4 755.9 1011.5 756.6 1016.3 757.8 999.4 758.9 1011.4 760.1 999.4 761.5 1013.8 762.3 930.3 763.4 1014.2 764.8 999.4 765.9 976.4 766.7 999.4 767.5 1019.3 768.3 999.4 769.4 1017 770.2 999.4 770.9 953.3 772.1 1018.4 772.9 999.4 773.6 999.4 774.4 1021.3 775.3 976.4 776.2 1022 777.5 999.4 778.9 1014 780.1 1018.9 781.1 1020.8 782.5 999.4 783.4 999.4 784.3 1017 785.1 999.4 785.8 976.4 786.9 999.4 788 999.4 788.7 999.4 789.7 999.4 790.5 999.4 791.5 976.4 792.5 999.4 793.8 999.4 795 976.4 796.4 1021.9 797.3 999.4 798.1 999.4 798.8 976.4 800.2 999.4 801.5 1016.9 802.8 1018.8 804.2 1014.1 804.8 1012 806 1018.5 806.8 999.4 807.7 999.4 809.1 976.4 810.4 999.4 811.2 1013.8 812.3 1017.5 813 999.4 814.4 1018.5 815.3 1016.8 816.1 1021.9 817 999.4 817.9 999.4 818.9 999.4 819.9 1017.4 821.1 999.4 822.3 1020.2 823.3 999.4 824.1 999.4 824.7 1018.4 825.7 953.3 826.5 999.4 827.6 976.4 828.7 1020.9 829.9 999.4 830.8 999.4 832.2 1017 833.2 999.4 833.9 999.4 835.3 976.4 836.7 999.4 837.7 976.4 838.7 999.4 839.9 999.4 841 999.4 842.2 999.4 843.4 930.3 844.3 1013.7 845.1 1019.3 845.7 1015.7 847.1 1017.5 848.1 953.3 849.2 1015.5 850.2 999.4 851 1018 851.7 999.4 852.8 976.4 853.7 999.4 854.6 1022.2 855.6 1020.2 856.9 1018.7 858 1018.6 858.9 1014.6 859.6 1002 860.9 1007.3 861.8 1010.6 863.2 1016 864.5 1021 865.7 1019.4 866.8 1015.7 867.5 1012.5 868.1 1010.2 869.1 1006.4 870.2 1002 871.3 1015.8 872.4 1021.4 873.1 1022.4 874.4 1014.4 875.3 1013.7 876.4 999.4 877.8 999.4 879.2 1020.4 879.9 999.4 881.1 999.4 881.8 999.4 882.8 1020.8 884.1 999.4 885 953.3 886.2 1020.4 887.2 999.4 887.9 1016.5 888.8 999.4 889.7 999.4 890.5 1019.4 891.8 1019.9 893.1 1017.1 894.2 1018.2 895.5 999.4 896.3 999.4 897.4 999.4 898.7 1014.5 899.8 1013.4 900.8 1016.1 901.9 1016.8 903.2 1011.5 903.9 1018.6 905.1 999.4 905.9 999.4 907.1 999.4 908.2 976.4 909.3 1014.1 910.5 999.4 911.4 1017.4 912.7 999.4 913.7 1019.8 914.5 999.4 915.9 953.3 916.7 999.4 917.7 999.4 919 1015.6 919.9 999.4 920.9 999.4 921.9 1015.1 922.7 999.4 923.6 999.4 924.7 1018.2 925.7 1019.7 926.5 999.4 927.3 999.4 928.1 976.4 928.7 999.4 929.6 976.4 931 999.4 931.9 1015.6 933.2 953.3 934.4 999.4 935.8 1015 936.4 1013.5 937.6 976.4 938.6 999.4 940 1011.7 940.7 1014.6 941.6 976.4 942.9 1017.5 943.8 999.4 944.8 1013.2 945.5 1018.5 946.8 999.4 947.7 953.3 949 976.4 949.8 1018 950.6 999.4 951.9 999.4 953.3 999.4 954.3 953.3 955.7 1019.4 956.8 999.4 957.7 1018 959 999.4 959.7 1011 960.6 1012.7 961.4 999.4 962.2 999.4 962.9 999.4 964.2 1014.8 965.1 976.4 966 1013.8 967.2 999.4 968.1 1022.1 968.9 976.4 969.6 999.4 970.5 1017.3 971.6 999.4 972.2 1014 972.9 1016.6 974.1 976.4 974.9 999.4 976.1 999.4 977.3 999.4 978.7 976.4 980 1019.6 980.8 976.4 981.8 1016.8 982.8 953.3 984.1 976.4 985.5 1015.4 986.7 999.4 988.1 999.4 989.2 1015.3 990.2 999.4 991.2 1012.3 992.4 1020.2 993.4 976.4 994.2 1012.9 995.1 1020.4 996.2 999.4 996.9 1013.5 998.2 999.4 999 999.4 999.6 1014.6 1000.7 1015.2 1001.6 1011.5 1002.3 1018.5 1003.5 1016 1004.6 1012.1 1005.9 999.4 1006.6 999.4 1007.6 999.4 1008.6 999.4 1009.4 999.4 1010.8 976.4 1011.7 999.4 1012.7 999.4 1013.3 999.4 1014.6 999.4 1016 999.4 1016.8 1018.5 1017.9 999.4 1018.9 999.4 1020 953.3 1021 999.4 1022.1 999.4 1023 999.4 1023.9 1016.6 1024.8 1016.7 1025.7 999.4 1026.7 1018.5 1027.8 999.4 1028.4 999.4 1029.6 1012.7 1030.9 999.4 1031.6 1020.3 1032.4 1012 1033.2 999.4 1033.8 999.4 1034.9 976.4 1036.1 1018.7 1036.8 999.4 1037.7 1012.9 1038.9 999.4 1040 976.4 1041 999.4 1042.3 999.4 1043.6 999.4 1044.5 976.4 1045.9 999.4 1046.8 999.4 1047.7 930.3 1048.8 1020.2 1049.7 1017.5 1050.4 976.4 1051.6 1012.9 1052.5 1014.1 1053.4 1019.1 1054.2 1015 1055.6 976.4 1056.3 999.4 1057 999.4 1058.2 976.4 1059.5 999.4 1060.3 999.4 1061.1 999.4 1062.1 1021.2 1062.8 907.2 1063.7 1011.7 1064.7 1018.2 1065.9 999.4 1066.5 976.4 1067.4 999.4 1068.6 999.4 1069.8 999.4 1070.9 1021.9 1071.8 999.4 1072.5 999.4 1073.9 1011.3 1074.8 1018.5 1075.7 1021.5 1077 999.4 1078.4 999.4 1079.2 999.4 1080.1 953.3 1081.1 1013.4 1082.4 999.4 1083.6 976.4 1084.5 1019.2 1085.7 999.4 1086.6 999.4 1087.6 1018.6 1088.7 999.4 1089.9 999.4 1090.6 999.4 1091.4 976.4 1092.2 999.4 1093.5 1012.1 1094.5 999.4 1095.7 1011.9 1097 1019.1 1098 1016.6 1098.7 999.4 1100 999.4 1101.3 930.3 1102.4 1004.7 1103.4 1008.5 1104.1 1011.3 1105.3 1016 1106.6 1020.8 1107.4 1021 1108 1018.6 1109.3 1013.5 1110.7 1013.1 1111.6 1019.9 1112.4 1019.9 1113.4 976.4 1114.2 1017.7 1114.9 999.4 1115.6 953.3 1116.3 1019.5 1117.5 999.4 1118.2 1017.2 1119 1015.1 1119.8 999.4 1120.7 999.4 1121.7 976.4 1123.1 999.4 1124 1015.8 1125.2 999.4 1125.9 999.4 1126.7 1018.9 1127.9 1011.8 1128.8 999.4 1130.1 999.4 1131 1013.7 1131.6 1019.1 1132.3 1017.3 1133.5 1020.3 1134.6 1016.5 1135.6 1013.2 1136.6 1016.7 1137.3 999.4 1138.3 999.4 1139.6 1018.9 1140.9 976.4 1142.3 976.4 1143.2 999.4 1143.9 1016 1144.8 999.4 1145.7 1015.1 1146.7 1011 1147.4 1011.7 1148.5 1014.8 1149.6 999.4 1150.4 1021.2 1151.1 976.4 1151.8 999.4 1152.8 999.4 1153.8 1020.8 1154.6 999.4 1156 1022 1157.2 976.4 1157.9 1014.7 1159.1 999.4 1159.9 999.4 1160.5 1011.2 1161.5 976.4 1162.2 999.4 1163.2 999.4 1164.5 999.4 1165.7 976.4 1167 999.4 1167.6 1011.3 1168.7 976.4 1170 953.3 1171 1011.5 1171.7 999.4 1172.6 999.4 1173.5 999.4 1174.6 1012.4 1175.4 1013.4 1176.2 999.4 1177.5 999.4 1178.1 1011.3 1179.5 1011.1 1180.2 1014.8 1181.6 1012.8 1182.7 999.4 1183.7 976.4 1184.9 999.4 1186 1011.2 1187.3 1017.6 1188 976.4 1189.1 930.3 1190.4 999.4 1191.4 999.4 1192.6 999.4 1193.8 999.4 1195.1 1019.8 1196.2 999.4 1196.9 976.4 1198.2 999.4 1199.1 999.4 1200 1012.3 1200.7 1012.5 1201.6 999.4 1203 976.4 1203.8 999.4 1204.8 1015.8 1206.2 953.3 1207.2 1016.6 1207.9 1021.7 1209.2 1014.6 1210.3 999.4 1211.4 976.4 1212.1 999.4 1212.7 999.4 1213.5 976.4 1214.3 1017.6 1215.4 1020 1216.7 1021.4 1218.1 999.4 1219.1 1011.2 1220.4 1016.4 1221.6 1013.8 1222.3 1012.3 1223.7 1015.7 1224.6 999.4 1225.5 999.4 1226.4 999.4 1227.2 1017.6 1228.3 1013 1229.6 1012.4 1230.5 976.4 1231.3 1019.7 1232.2 999.4 1232.9 1020.1 1233.9 999.4 1234.6 1015.5 1235.7 1018.1 1236.5 1012.5 1237.5 1015 1238.9 1013.8 1239.9 999.4 1240.6 1017.9 1241.6 1014 1242.5 976.4 1243.3 1016.3 1244 999.4 1244.8 976.4 1246.1 1014.7 1247.2 1018.7 1248.3 1018.8 1249.3 999.4 1250 1018.4 1250.7 1013.9 1251.6 1015.3 1252.7 1018.3 1253.7 1020.9 1254.4 999.4 1255.8 999.4 1256.8 976.4 1258 999.4 1258.6 999.4 1259.2 953.3 1260.1 976.4 1261.5 1016.3 1262.9 999.4 1263.6 999.4 1264.7 999.4 1265.5 976.4 1266.8 1019.5 1268.1 999.4 1268.9 999.4 1270.1 976.4 1270.9 953.3 1272.2 999.4 1273.2 999.4 1274 976.4 1274.7 999.4 1275.5 999.4 1276.2 1014.3 1277 999.4 1278.1 1019.7 1279.4 999.4 1280.1 1021.7 1281.2 999.4 1282 976.4 1283.3 999.4 1284.3 999.4 1285.6 999.4 1286.8 1021.8 1287.8 999.4 1288.7 999.4 1290.1 1017.5 1291.5 999.4 1292.5 999.4 1293.7 999.4 1295 930.3 1296.3 1017.2 1297.7 976.4 1298.4 1015.1 1299.6 999.4 1300.3 999.4 1301.6 976.4 1303 999.4 1304.3 999.4 1305.6 999.4 1306.7 976.4 1307.9 999.4 1309.2 999.4 1310.4 999.4 1311.6 999.4 1312.3 999.4 1313.5 999.4 1314.3 1021.7 1315.4 999.4 1316 1013.4 1317.1 1017.6 1318.5 999.4 1319.1 999.4 1319.9 999.4 1321 1013.3 1322.2 1015.9 1323.3 999.4 1324.1 999.4 1325.1 1011.1 1326.3 1016.6 1327.4 1014.2 1328.7 999.4 1330 999.4 1330.8 1011.5 1331.7 999.4 1332.8 1022.3 1333.8 999.4 1334.7 999.4 1336.1 999.4 1337.4 999.4 1338.5 999.4 1339.8 1015.6 1340.6 976.4 1341.6 1016.2 1342.7 999.4 1344.1 1021 1345.3 999.4 1346 1021.5 1347.3 1021.2 1348.5 1021.2 1349.8 1014 1351.2 976.4 1352.3 1014.5 1353.2 1012.2 1354.4 1014.5 1355.3 999.4 1356.2 1014.3 1357.5 1019.6 1358.7 999.4 1360.1 976.4 1361.4 999.4 1362.1 976.4 1363.2 999.4 1363.8 1019.3 1364.5 999.4 1365.5 999.4 1366.5 999.4 1367.5 1020 1368.4 999.4 1369.5 1020.7 1370.5 999.4 1371.4 999.4 1372.2 953.3 1373.6 976.4 1374.6 1014.9 1375.8 1014.3 1376.6 999.4 1377.7 999.4 1379.1 999.4 1380.1 999.4 1380.9 1020.9 1381.9 1021.6 1383.3 999.4 1384 976.4 1385.4 999.4 1386.2 1020.9 1387 1012.5 1388 1021.3 1389.2 1019.5 1390.5 999.4 1391.6 999.4 1392.4 1021.3 1393.6 999.4 1394.3 999.4 1395.5 1022.1 1396.4 1016.7 1397.2 1004.2 1397.9 1006.5 1398.8 1010.1 1400.1 1020.4 1401 1018.8 1402.3 1021.4 1403.2 1018 1404.3 1013.5 1405.7 1018.4 1406.8 1013.3 1407.9 1013.6 1409.2 1014.3 1409.9 1021.5 1411.2 976.4 1412.4 953.3 1413.5 999.4 1414.8 976.4 1416.1 1017.4 1416.9 999.4 1417.6 999.4 1418.3 999.4 1419.5 976.4 1420.5 1018.6 1421.4 1015.7 1422.8 1020.6 1422.8 1022.5Z" class="dn"/>
<path d="M259 884.17H271.0V1022.47H259" class="axl"/>
<text x="252.5" y="887.8" text-anchor="end" class="ax">5</text>
<text x="252.5" y="1026.1" text-anchor="end" class="ax">0</text>
<text x="217.6" y="959.6" text-anchor="end" class="lb" textLength="144.5" lengthAdjust="spacingAndGlyphs">GSM2481686</text>
<path d="M271.6 1176.4L271.6 1166.9 272.6 1130.3 273.6 1172.1 274.8 1168 275.7 1153.4 276.8 1173.3 278 1172.5 278.7 1171.3 279.3 1153.4 280.7 1153.4 281.8 1130.3 283.2 1153.4 284.4 1176.1 285.3 1153.4 286 1170.4 286.7 1153.4 287.6 1153.4 288.9 1153.4 290.2 1153.4 291.5 1153.4 292.4 1153.4 293.8 1153.4 295 1107.3 295.8 1166.1 296.9 1130.3 298.2 1061.2 299.3 1153.4 300.5 1153.4 301.7 1084.2 302.4 1153.4 303.2 1130.3 304 1153.4 304.9 1153.4 305.6 1153.4 306.8 1130.3 308.2 1084.2 309.3 1153.4 310.5 1173.1 311.1 1153.4 312.3 1130.3 313.2 1166.6 313.9 1169.3 314.8 1170.7 315.8 1172.2 316.5 1107.3 317.6 1153.4 318.7 1130.3 319.8 1174.9 321.1 1107.3 322.4 1171.2 323.6 1130.3 324.9 1153.4 325.7 1175.7 327 1130.3 327.6 1173.2 329 1176 329.7 1153.4 330.3 1153.4 330.9 1167.6 332.3 1153.4 333.5 1153.4 334.5 1153.4 335.1 1153.4 336.1 1153.4 336.9 1153.4 337.6 1153.4 339 1153.4 339.8 1153.4 341 1153.4 341.9 1153.4 342.8 1170.1 344 1130.3 344.9 1153.4 346 1153.4 346.6 1175.1 347.8 1172.2 348.4 1173.8 349.4 1153.4 350.6 1174.5 351.7 1175.1 353.1 1165.8 354.3 1168.9 355.2 1130.3 356.4 1173.9 357.5 1107.3 358.9 1130.3 359.5 1153.4 360.4 1130.3 361 1165.5 362 1153.4 362.6 1153.4 363.9 1153.4 364.7 1153.4 365.4 1172 366.5 1153.4 367.3 1130.3 368.1 1107.3 369.4 1170.5 370.1 1130.3 371.2 1153.4 372.4 1174.6 373.8 1172.5 374.6 1172.1 375.8 1107.3 376.5 1130.3 377.9 1153.4 378.6 1166.8 379.6 1130.3 380.6 1130.3 381.6 1168.9 382.9 1174.9 383.6 1174.6 384.6 1107.3 385.8 1165.1 386.9 1172.4 387.6 1174.4 388.4 1167.9 389.4 1169.3 390.3 1130.3 391.7 1153.4 392.3 1176.1 393.7 1153.4 394.9 1084.2 395.6 1172.1 396.8 1168.7 397.8 1107.3 399.1 1153.4 399.7 1165.2 400.8 1153.4 402 1165 403.3 1153.4 404.1 1130.3 405.1 1168.1 405.7 1130.3 406.3 1170.7 407.4 1107.3 408.1 1153.4 408.8 1168.3 410.1 1169.6 410.8 1153.4 411.5 1173.9 412.4 1130.3 413.1 1153.4 414.2 1153.4 415.3 1170.8 416.4 1153.4 417.8 1107.3 418.7 1170.1 420 1130.3 420.9 1153.4 421.5 1153.4 422.5 1153.4 423.2 1153.4 424.1 1107.3 425.2 1173.1 426.2 1173.6 426.8 1170.5 428.1 1169 429.4 1130.3 430.1 1153.4 431.1 1153.4 431.9 1153.4 432.5 1153.4 433.4 1130.3 434.4 1153.4 435.2 1130.3 435.9 1153.4 436.9 1153.4 438 1130.3 439.2 1153.4 440.3 1130.3 441.6 1153.4 442.4 1172.1 443.3 1130.3 444.2 1153.4 445.3 1153.4 446.6 1153.4 447.7 1153.4 448.7 1176.3 450 1130.3 451.1 1165.2 452.1 1130.3 453.1 1153.4 453.8 1130.3 454.9 1153.4 456.3 1173.4 457.5 1107.3 458.4 1172.3 459 1153.4 459.7 1153.4 460.6 1171 461.4 1153.4 462.2 1171.6 463.1 1130.3 464.2 1107.3 465.4 1153.4 466.2 1170.3 467.5 1153.4 468.9 1175.5 469.5 1153.4 470.9 1153.4 471.9 1130.3 472.9 1167.5 473.5 1153.4 474.5 1153.4 475.5 1153.4 476.5 1130.3 477.6 1107.3 478.9 1166.1 480.2 1130.3 481 1153.4 481.7 1153.4 482.4 1130.3 483.6 1153.4 484.5 1153.4 485.2 1169.5 486.3 1130.3 486.9 1153.4 487.9 1153.4 488.7 1166.8 489.4 1153.4 490.2 1084.2 491 1130.3 491.7 1107.3 493.1 1130.3 493.9 1153.4 494.5 1176.1 495.4 1130.3 496.6 1153.4 497.9 1130.3 499.1 1153.4 499.9 1153.4 500.8 1130.3 501.6 1084.2 502.3 1176 503.2 1107.3 504.5 1153.4 505.6 1153.4 506.7 1130.3 507.4 1171.5 508.4 1170.5 509.2 1153.4 509.9 1174 511 1176.3 512.1 1153.4 513.4 1130.3 514.7 1153.4 515.4 1130.3 516.5 1173.6 517.2 1173.7 518.5 1175.1 519.8 1175.9 520.6 1084.2 521.3 1130.3 522.2 1172.2 523 1153.4 524.4 1153.4 525.7 1153.4 526.7 1166.6 528 1130.3 528.7 1153.4 529.3 1153.4 530.7 1107.3 532.1 1153.4 532.8 1130.3 533.7 1175.6 534.3 1130.3 535.7 1165.2 536.8 1153.4 538.1 1171 539.2 1168.1 540.3 1176.4 541.7 1153.4 542.4 1130.3 543.3 1153.4 544.1 1153.4 545.3 1130.3 546.3 1107.3 547.6 1153.4 548.4 1153.4 549.6 1172.8 550.5 1153.4 551.7 1153.4 552.7 1153.4 553.4 1167.1 554.2 1170.4 555.2 1107.3 556.5 1153.4 557.3 1165.3 558.2 1171.2 559.4 1174.5 560.1 1130.3 560.9 1153.4 562.2 1168.7 563.6 1167.6 564.3 1153.4 565.3 1130.3 566 1176.2 567.4 1084.2 568.1 1153.4 568.8 1153.4 569.6 1169.6 570.6 1130.3 571.9 1153.4 572.5 1130.3 573.7 1167.5 574.9 1130.3 576.2 1173.8 577.3 1173.9 577.9 1153.4 578.6 1130.3 579.7 1153.4 580.5 1130.3 581.8 1153.4 583.2 1130.3 584.3 1153.4 585.5 1173.2 586.3 1153.4 587.7 1130.3 588.5 1153.4 589.8 1107.3 591.1 1153.4 591.9 1176.3 593.2 1130.3 594 1130.3 594.9 1153.4 595.8 1153.4 597.2 1107.3 598.2 1168.5 599 1166.4 599.7 1174.6 601 1153.4 602.4 1174.3 603.7 1170.2 604.8 1130.3 606.2 1153.4 606.8 1107.3 607.8 1153.4 608.5 1153.4 609.5 1153.4 610.5 1130.3 611.8 1153.4 612.5 1153.4 613.4 1153.4 614.1 1130.3 614.9 1172.6 616.1 1166.6 616.9 1130.3 618.1 1171.9 619.4 1130.3 620.1 1153.4 621.2 1168.5 621.9 1167.1 622.8 1167.3 623.4 1084.2 624.6 1153.4 625.6 1171.1 626.4 1084.2 627.5 1153.4 628.5 1153.4 629.3 1153.4 630.4 1130.3 631.3 1153.4 632.3 1153.4 633.2 1169.2 633.8 1153.4 635 1165.2 636 1173 637 1165.9 638.2 1171.9 638.9 1130.3 639.5 1171.5 640.1 1153.4 641.3 1153.4 642.1 1130.3 642.8 1107.3 644 1130.3 645.3 1130.3 646 1153.4 647.4 1168.9 648.5 1169.2 649.2 1174.9 650.4 1153.4 651.2 1167.5 651.8 1153.4 653.2 1107.3 654 1174.8 654.8 1153.4 655.9 1153.4 656.9 1153.4 657.7 1175.6 658.4 1153.4 659.3 1107.3 660.1 1153.4 661 1153.4 662.1 1153.4 662.9 1153.4 664.2 1166.9 665.4 1153.4 666 1171.6 667.3 1130.3 668 1170.6 668.9 1153.4 669.8 1169.5 670.4 1153.4 671.2 1084.2 672.3 1153.4 673.1 1153.4 674.2 1153.4 675.1 1175.6 675.8 1167.2 676.9 1130.3 677.7 1153.4 678.4 1130.3 679.7 1153.4 681.1 1164.9 681.9 1153.4 682.8 1153.4 683.5 1175 684.4 1084.2 685.7 1130.3 686.7 1153.4 688 1153.4 689.3 1153.4 690.2 1153.4 690.8 1153.4 692.1 1130.3 693.1 1107.3 694.5 1153.4 695.6 1153.4 696.6 1153.4 697.4 1153.4 698.2 1170 699.1 1166.8 700.4 1153.4 701.5 1084.2 702.6 1130.3 703.4 1153.4 704.4 1153.4 705.6 1153.4 706.9 1153.4 707.9 1130.3 708.7 1171.9 710 1168 711.3 1130.3 712.1 1153.4 713.2 1153.4 714.4 1130.3 715.7 1107.3 716.9 1153.4 717.6 1174.6 718.8 1165.4 720.1 1167.4 721 1153.4 722 1130.3 722.9 1107.3 724.3 1130.3 725.5 1153.4 726.5 1153.4 727.5 1153.4 728.5 1168.7 729.8 1038.1 731 1153.4 731.7 1173.2 732.3 1168.7 733.5 1153.4 734.2 1130.3 735.1 1130.3 736.5 1107.3 737.4 1153.4 738.3 1172.7 739.2 1173.5 740.5 1170.4 741.3 1153.4 742.2 1168 743 1061.2 743.6 1130.3 744.4 1153.4 745.5 1153.4 746.4 1130.3 747.7 1153.4 748.7 1175.3 749.5 1107.3 750.8 1171.3 751.6 1130.3 752.5 1166.7 753.2 1153.4 753.8 1061.2 754.7 1130.3 756 1153.4 757.1 1153.4 757.8 1174.7 758.5 1153.4 759.4 1153.4 760.7 1130.3 761.9 1153.4 762.7 1107.3 763.9 1130.3 764.6 1153.4 765.3 1130.3 766.1 1153.4 767.3 1130.3 768.5 1130.3 769.5 1153.4 770.5 1153.4 771.8 1153.4 772.6 1173.4 774 1084.2 775 1168.2 775.7 1153.4 776.8 1153.4 778.2 1153.4 779.1 1130.3 779.9 1153.4 781 1173.7 781.9 1153.4 782.8 1130.3 784.1 1153.4 785.1 1167.8 785.8 1107.3 786.6 1153.4 787.5 1153.4 788.5 1130.3 789.6 1153.4 790.7 1153.4 791.8 1153.4 792.5 1175.7 793.3 1169.8 794.3 1153.4 795.6 1107.3 797 1153.4 798.1 1130.3 799.5 1153.4 800.6 1176.4 801.5 1173.8 802.3 1130.3 803.6 1153.4 804.5 1153.4 805.2 1130.3 806 1175.4 806.7 1175.1 807.4 1130.3 808.3 1171.7 809.5 1153.4 810.5 1130.3 811.1 1153.4 811.9 1153.4 812.6 1167 814 1084.2 815.1 1130.3 816 1153.4 816.6 1153.4 817.5 1153.4 818.5 1153.4 819.4 1130.3 820.3 1153.4 821 1174 822.1 1107.3 822.9 1153.4 823.9 1165.3 824.9 1168.7 826.1 1169.6 826.8 1153.4 827.5 1130.3 828.6 1153.4 829.5 1169.6 830.6 1153.4 831.5 1153.4 832.6 1130.3 833.4 1153.4 834.7 1084.2 835.4 1153.4 836.4 1130.3 837.5 1153.4 838.6 1153.4 839.3 1171.5 840.3 1130.3 841.1 1169.7 842.1 1107.3 842.8 1130.3 844 1153.4 844.9 1165.1 845.7 1153.4 846.8 1153.4 847.5 1130.3 848.8 1167.4 850.2 1153.4 851.5 1176.2 852.4 1175.9 853.2 1130.3 854.3 1153.4 855.1 1130.3 856.4 1167.8 857.7 1107.3 858.9 1175.3 859.5 1168.7 860.2 1168.4 861 1130.3 862 1153.4 862.8 1170.3 863.4 1175.7 864.4 1153.4 865.7 1153.4 866.9 1153.4 867.5 1153.4 868.4 1174.2 869.1 1153.4 869.7 1084.2 870.9 1165.4 871.8 1167.6 873 1167.3 874.3 1130.3 875 1153.4 875.6 1168.7 876.5 1107.3 877.8 1130.3 878.6 1153.4 879.9 1174 881.2 1171.7 882.4 1153.4 883.4 1165.1 884.5 1107.3 885.4 1153.4 886.4 1130.3 887.7 1170.2 888.6 1171.5 889.7 1153.4 890.8 1174.1 891.8 1166 893 1166.4 894 1130.3 895.1 1153.4 896.1 1153.4 897 1153.4 898.3 1107.3 899.3 1153.4 900.4 1130.3 901.5 1153.4 902.7 1153.4 903.7 1170.3 904.4 1153.4 905.5 1130.3 906.8 1153.4 908 1107.3 909.3 1153.4 910.7 1174.8 911.4 1153.4 912.5 1153.4 913.6 1165 915 1153.4 916.3 1166.8 917.1 1153.4 917.9 1153.4 919.1 1130.3 920.2 1107.3 921.6 1130.3 922.6 1167.3 923.9 1173.3 925.2 1107.3 925.9 1153.4 927.2 1170 928.1 1153.4 929 1130.3 930.2 1167.5 931.1 1107.3 932.5 1153.4 933.3 1171.8 934.5 1153.4 935.9 1153.4 937.2 1173.3 938.3 1130.3 939.2 1170.9 940.2 1130.3 941 1171.6 941.7 1153.4 942.9 1130.3 943.9 1153.4 945.2 1130.3 946.4 1153.4 947.2 1153.4 947.8 1168.3 949.2 1167.7 950.3 1130.3 951 1130.3 952.1 1168.4 952.8 1153.4 954.1 1168.6 955.1 1153.4 955.8 1153.4 956.9 1153.4 957.5 1153.4 958.7 1130.3 959.7 1170 960.4 1165.4 961.6 1175 962.5 1172.4 963.8 1174.8 964.9 1173.8 965.7 1153.4 966.8 1153.4 967.8 1153.4 969.1 1153.4 969.9 1153.4 971.2 1130.3 972.3 1153.4 973.3 1130.3 973.9 1169.7 975.2 1153.4 975.8 1153.4 976.7 1130.3 977.9 1153.4 978.6 1153.4 979.9 1167 981.2 1153.4 981.9 1153.4 983 1153.4 984.1 1153.4 985.3 1168.9 986.6 1130.3 987.6 1174.7 988.2 1153.4 989.2 1130.3 990.2 1166.7 991.2 1084.2 991.9 1171.3 992.9 1130.3 993.5 1153.4 994.3 1107.3 995.6 1169 996.9 1174.4 997.7 1168.3 998.4 1153.4 999.5 1130.3 1000.1 1153.4 1000.7 1130.3 1001.9 1153.4 1003.2 1130.3 1004.2 1153.4 1005.3 1130.3 1006.5 1174 1007.4 1153.4 1008.5 1130.3 1009.6 1153.4 1010.5 1153.4 1011.1 1174.7 1012.5 1153.4 1013.2 1165 1014.2 1153.4 1015.3 1153.4 1016.3 1130.3 1017.5 1168.8 1018.9 1153.4 1019.5 1153.4 1020.4 1153.4 1021.7 1153.4 1022.8 1107.3 1024.1 1168.5 1025.4 1153.4 1026.7 1173.6 1027.9 1166.4 1029.1 1168.8 1030 1153.4 1031.1 1107.3 1032.3 1130.3 1033 1153.4 1033.6 1130.3 1034.9 1171.3 1035.8 1130.3 1036.8 1153.4 1037.8 1170.6 1038.9 1107.3 1039.7 1153.4 1040.8 1130.3 1041.7 1174.9 1042.8 1171.8 1044.1 1165.1 1045 1153.4 1046.2 1153.4 1047.6 1153.4 1049 1130.3 1050.3 1153.4 1051.1 1130.3 1051.7 1172.6 1052.9 1173.7 1054 1153.4 1054.7 1130.3 1055.6 1167.8 1056.4 1130.3 1057.8 1166.3 1058.7 1107.3 1059.7 1153.4 1060.4 1084.2 1061.2 1153.4 1062.1 1165.3 1062.9 1130.3 1063.9 1061.2 1065 1130.3 1066.4 1153.4 1067.3 1130.3 1068.3 1168.3 1068.9 1153.4 1070.1 1153.4 1071.3 1130.3 1072.3 1153.4 1073.2 1153.4 1073.8 1107.3 1075 1172 1075.7 1165.6 1077.1 1153.4 1078.2 1130.3 1078.8 1153.4 1079.6 1153.4 1080.3 1175.7 1081.6 1168 1082.3 1130.3 1083.2 1153.4 1084 1107.3 1085.1 1153.4 1086 1168 1086.9 1130.3 1087.5 1153.4 1088.6 1153.4 1089.2 1153.4 1089.9 1169 1091 1166.4 1092.2 1130.3 1093.1 1153.4 1094.5 1175 1095.2 1130.3 1096 1130.3 1097.1 1153.4 1098.3 1153.4 1099.6 1153.4 1100.5 1168.3 1101.7 1153.4 1102.9 1167.5 1103.8 1171.9 1104.5 1130.3 1105.4 1107.3 1106.7 1169.5 1108 1167.4 1109.1 1175 1110 1174.4 1110.9 1153.4 1112 1153.4 1113.3 1153.4 1114.6 1165.9 1115.6 1130.3 1117 1130.3 1117.8 1153.4 1119.2 1172.5 1120.4 1153.4 1121.5 1155.5 1122.8 1160.6 1123.6 1170.5 1124.4 1166.7 1125 1169 1126.3 1174.2 1127.1 1175.6 1128.2 1171.6 1128.9 1168.9 1130.2 1084.2 1131.5 1158.6 1132.2 1084.2 1133.3 1153.4 1133.9 1130.3 1135.2 1169.8 1136.5 1171 1137.8 1153.4 1139.1 1173.2 1140.3 1153.4 1141 1153.4 1142 1166.5 1142.7 1130.3 1144.1 1164.9 1145.1 1166.4 1146.2 1130.3 1146.9 1153.4 1147.9 1153.4 1149.2 1153.4 1150.5 1153.4 1151.3 1153.4 1152.6 1153.4 1154 1153.4 1154.8 1153.4 1155.8 1171.2 1156.6 1107.3 1157.4 1173.6 1158.7 1175.6 1159.5 1153.4 1160.8 1130.3 1162.1 1130.3 1162.7 1153.4 1163.9 1153.4 1165.2 1130.3 1166.4 1153.4 1167.2 1153.4 1167.9 1107.3 1168.5 1173.3 1169.5 1130.3 1170.5 1153.4 1171.2 1130.3 1172.2 1153.4 1173.1 1170.1 1174.4 1153.4 1175.2 1153.4 1176.3 1107.3 1177.4 1130.3 1178.2 1153.4 1179.5 1153.4 1180.6 1153.4 1181.8 1153.4 1182.7 1130.3 1183.5 1107.3 1184.8 1165.2 1185.4 1153.4 1186.8 1153.4 1188.1 1130.3 1189.1 1165 1190.2 1175.7 1191.4 1170.2 1192.4 1130.3 1193 1153.4 1194 1130.3 1195.2 1107.3 1196.5 1153.4 1197.6 1173.1 1198.9 1153.4 1199.8 1153.4 1200.5 1153.4 1201.5 1153.4 1202.3 1153.4 1203 1153.4 1203.7 1130.3 1204.6 1172.9 1205.6 1153.4 1206.9 1166.7 1208.1 1130.3 1209.5 1153.4 1210.8 1130.3 1211.5 1153.4 1212.1 1153.4 1213 1153.4 1214.2 1170.3 1215.1 1153.4 1215.7 1153.4 1216.5 1130.3 1217.1 1153.4 1218.4 1130.3 1219.6 1153.4 1220.3 1153.4 1221.4 1130.3 1222.6 1171.2 1223.4 1153.4 1224.2 1153.4 1225.5 1153.4 1226.2 1130.3 1227 1153.4 1227.7 1130.3 1228.4 1166.6 1229.6 1165.6 1230.8 1167.9 1231.6 1153.4 1232.2 1130.3 1233.3 1130.3 1234.5 1164.9 1235.9 1153.4 1237 1153.4 1237.8 1084.2 1238.6 1130.3 1239.2 1107.3 1240.1 1169.1 1241.4 1153.4 1242.3 1153.4 1243.3 1165.2 1244.5 1130.3 1245.2 1153.4 1246.3 1170.1 1247 1174.9 1247.9 1130.3 1248.6 1167.7 1249.4 1130.3 1250.4 1107.3 1251.8 1166.3 1252.8 1176 1254 1172.3 1254.9 1130.3 1255.9 1174.6 1257.1 1174.6 1257.9 1153.4 1258.9 1130.3 1260 1130.3 1261.2 1173.6 1262.5 1166.5 1263.7 1107.3 1265 1175.4 1266 1164.9 1266.8 1153.4 1268.1 1130.3 1269.2 1153.4 1270.5 1130.3 1271.4 1153.4 1272.2 1153.4 1273.4 1130.3 1274.8 1107.3 1275.6 1166.1 1277 1168.4 1278.4 1130.3 1279.6 1153.4 1281 1165.1 1282.2 1107.3 1283.5 1130.3 1284.8 1153.4 1285.6 1084.2 1286.7 1153.4 1288 1130.3 1289.1 1153.4 1289.8 1168.4 1290.4 1153.4 1291.2 1153.4 1292 1153.4 1293.4 1130.3 1294.2 1153.4 1295 1130.3 1296.3 1130.3 1297.6 1165.2 1298.9 1166 1300.2 1174 1301.2 1169.9 1302.6 1176.3 1303.8 1171 1305 1166.7 1306.3 1159.3 1307.5 1169.6 1308.5 1153.4 1309.1 1168 1310 1166.2 1311.2 1167.6 1311.8 1171.9 1312.8 1107.3 1313.8 1153.4 1315.1 1153.4 1316.4 1172 1317.4 1153.4 1318.6 1171.2 1319.6 1173.1 1320.2 1084.2 1321 1174.4 1321.6 1130.3 1322.4 1168.8 1323.7 1168.9 1324.9 1153.4 1325.6 1107.3 1326.3 1130.3 1327.4 1130.3 1328.4 1153.4 1329.5 1061.2 1330.8 1167.6 1331.4 1170.3 1332.2 1166.6 1333.3 1153.4 1334.2 1153.4 1335.4 1153.4 1336.2 1168.8 1337.3 1172.1 1338.3 1153.4 1339.6 1084.2 1340.6 1153.4 1342 1153.4 1342.9 1153.4 1344.2 1130.3 1345.5 1153.4 1346.9 1153.4 1347.9 1173.2 1349.1 1107.3 1350.5 1153.4 1351.2 1153.4 1352.2 1130.3 1353.4 1153.4 1354.5 1130.3 1355.3 1107.3 1356.6 1130.3 1357.8 1153.4 1359.1 1153.4 1359.8 1174.3 1360.4 1153.4 1361.3 1130.3 1361.9 1038.1 1363.3 1153.4 1364.3 1153.4 1365.5 1170.1 1366.4 1166.1 1367.7 1153.4 1368.9 1153.4 1370.2 1168.1 1371.3 1130.3 1372.6 1153.4 1373.5 1061.2 1374.3 1171.8 1375.3 1167.4 1376.6 1130.3 1377.8 1168.3 1379 1153.4 1380.1 1153.4 1381 1107.3 1382.4 1153.4 1383.2 1130.3 1384.1 1153.4 1384.7 1165.5 1386 1167.8 1386.8 1130.3 1387.4 1167.6 1388.6 1153.4 1389.2 1153.4 1390 1130.3 1391.1 1153.4 1391.8 1084.2 1392.8 1153.4 1393.6 1170 1395 1130.3 1396.2 1153.4 1397.6 1166.9 1398.9 1153.4 1400 1153.4 1401.2 1130.3 1402.2 1168.6 1403.1 1107.3 1404 1167 1404.7 1153.4 1405.7 1130.3 1406.6 1153.4 1407.3 1153.4 1407.9 1165.2 1408.9 1175.4 1410.2 1175.3 1411.4 1169.9 1412.3 1170.6 1413.7 1168 1414.7 1171.5 1415.3 1153.4 1416 1153.4 1416.9 1130.3 1418.1 1174.4 1418.9 1084.2 1419.8 1153.4 1421 1175.2 1422.4 1130.3 1423 1153.4 1423 1176.4Z" class="dn"/>
<path d="M259 1038.11H271.0V1176.41H259" class="axl"/>
<text x="252.5" y="1041.7" text-anchor="end" class="ax">7</text>
<text x="252.5" y="1180.0" text-anchor="end" class="ax">0</text>
<text x="217.6" y="1113.5" text-anchor="end" class="lb" textLength="144.5" lengthAdjust="spacingAndGlyphs">GSM2481685</text>
<path d="M271.6 1330.3L271.6 1302.7 272.7 1302.7 273.6 1302.7 274.2 1302.7 274.9 1275 275.6 1275 276.7 1302.7 278 1302.7 278.7 1275 279.4 1302.7 280.4 1302.7 281.2 1302.7 282.1 1302.7 282.9 1320.7 283.7 1275 284.9 1302.7 285.8 1328.2 286.8 1321.1 288 1326 289.2 1302.7 290.4 1323.8 291.6 1320.6 292.7 1326.4 293.6 1302.7 294.3 1219.7 295.5 1302.7 296.5 1329.2 297.4 1319 298.7 1302.7 300 1192 300.8 1302.7 301.8 1302.7 302.8 1302.7 304.1 1302.7 305.2 1302.7 306.5 1318.3 307.8 1302.7 308.9 1302.7 309.7 1302.7 310.3 1302.7 311 1302.7 312.3 1302.7 313.1 1302.7 313.8 1316.6 314.7 1302.7 315.6 1275 316.4 1302.7 317.1 1302.7 318.1 1318.4 319.2 1302.7 320.5 1275 321.3 1247.4 322.6 1319 323.8 1302.7 324.4 1302.7 325.2 1275 326.2 1316.7 327.6 1302.7 328.3 1275 329.6 1219.7 330.8 1275 332.1 1320 333.1 1325.7 334.3 1302.7 335.7 1328 336.4 1319.2 337.1 1321.3 338 1247.4 339.3 1302.7 340.7 1275 341.9 1302.7 342.8 1302.7 343.6 1302.7 344.9 1302.7 346 1324.5 347.3 1302.7 347.9 1302.7 348.5 1328 349.5 1302.7 350.5 1275 351.2 1302.7 352 1323.3 353.1 1324.2 354.2 1247.4 355.1 1302.7 356.5 1275 357.8 1302.7 359.2 1328.4 359.9 1302.7 360.6 1275 361.9 1302.7 362.6 1317 363.4 1302.7 364.8 1247.4 365.7 1302.7 366.6 1330.1 367.6 1302.7 368.7 1302.7 370.1 1316.9 370.8 1275 371.6 1302.7 372.9 1247.4 373.6 1275 374.3 1302.7 375 1321.6 376.2 1318.5 376.9 1302.7 377.9 1326.6 378.6 1302.7 379.3 1302.7 380.2 1275 381 1247.4 381.9 1302.7 382.5 1322.7 383.3 1328.9 384.5 1275 385.4 1275 386.3 1320.6 387.4 1302.7 388.1 1275 388.9 1302.7 390.2 1321.1 391 1302.7 391.7 1302.7 393.1 1322.8 393.9 1302.7 394.5 1302.7 395.5 1302.7 396.1 1302.7 397 1302.7 397.9 1302.7 398.9 1321.3 400.1 1302.7 401.5 1275 402.6 1275 403.7 1319.1 404.4 1275 405.6 1322.3 406.9 1302.7 407.6 1302.7 408.3 1322.6 409.4 1302.7 410 1320 411 1302.7 412.2 1302.7 413 1327.5 414.2 1302.7 415.1 1275 416.2 1302.7 417 1275 417.8 1302.7 418.4 1275 419.6 1302.7 420.6 1302.7 421.3 1327.6 422.7 1302.7 423.9 1247.4 424.8 1327.4 425.8 1323.1 427.2 1319 428.2 1327.1 429.5 1302.7 430.5 1302.7 431.2 1302.7 432.5 1275 433.8 1275 435.1 1302.7 436 1247.4 436.9 1302.7 437.6 1326.4 438.9 1302.7 439.7 1275 441 1321.6 442.3 1275 442.9 1324.1 444.1 1302.7 445.5 1302.7 446.4 1275 447.7 1302.7 448.8 1302.7 449.5 1275 450.5 1275 451.5 1302.7 452.2 1302.7 452.9 1302.7 454.3 1324.6 455.2 1302.7 455.8 1275 456.5 1275 457.3 1247.4 458.2 1275 459.5 1330 460.1 1323.8 461.2 1324.9 462.5 1316.9 463.3 1328.2 464.4 1320.4 465.5 1302.7 466.1 1327.1 467.4 1302.7 468.2 1275 468.9 1302.7 470 1302.7 471.1 1302.7 472.1 1321.4 473.4 1302.7 474.7 1326.1 475.3 1302.7 476.1 1275 476.9 1302.7 477.9 1302.7 479.1 1323.4 479.9 1275 480.7 1302.7 482 1302.7 482.8 1275 484.2 1219.7 484.9 1328.4 485.6 1192 486.9 1316.5 488.2 1219.7 489.4 1302.7 490.3 1302.7 490.9 1302.7 492.3 1219.7 493.1 1275 494 1302.7 494.9 1327.7 495.8 1302.7 497 1329.8 497.7 1317.6 498.5 1325.7 499.3 1302.7 500.5 1247.4 501.1 1317.7 502.2 1302.7 503.2 1317.2 504.1 1302.7 505.4 1275 506.6 1247.4 507.7 1302.7 508.9 1302.7 510.1 1302.7 510.7 1302.7 512.1 1316.7 512.9 1329 513.9 1302.7 514.9 1275 516.1 1321.2 516.8 1247.4 517.7 1327.6 518.5 1275 519.5 1302.7 520.9 1302.7 522.2 1275 522.8 1275 524.2 1302.7 524.9 1247.4 525.9 1325.2 527.2 1275 528.6 1302.7 529.7 1302.7 530.4 1302.7 531.5 1302.7 532.1 1275 532.8 1302.7 534.1 1302.7 534.8 1302.7 535.9 1219.7 537 1302.7 537.9 1326 538.9 1275 540.3 1302.7 541.5 1302.7 542.8 1275 543.7 1247.4 544.5 1322.7 545.6 1275 546.5 1302.7 547.3 1275 548 1275 548.8 1275 549.7 1302.7 551.1 1275 551.8 1327.3 552.7 1327.8 553.5 1302.7 554.2 1275 555.5 1302.7 556.7 1275 557.4 1302.7 558.5 1302.7 559.6 1275 560.5 1247.4 561.6 1302.7 562.8 1324 563.6 1302.7 564.5 1302.7 565.5 1275 566.2 1319.6 567.2 1323.4 568.1 1247.4 569.5 1319.1 570.3 1275 571.6 1275 572.2 1302.7 573.6 1275 574.3 1302.7 575.1 1302.7 575.7 1302.7 577.1 1275 577.8 1328.8 578.8 1275 579.9 1302.7 581.3 1247.4 582.5 1275 583.6 1192 584.3 1329.7 585.6 1275 586.6 1302.7 587.2 1302.7 588.3 1302.7 589.6 1302.7 590.8 1302.7 591.7 1302.7 592.4 1302.7 593.2 1302.7 593.9 1327 594.6 1321.5 595.9 1302.7 596.5 1219.7 597.4 1302.7 598.8 1326.9 600.1 1323 601 1275 601.6 1302.7 602.4 1302.7 603.5 1327.9 604.3 1275 605.6 1330.3 606.8 1275 607.8 1247.4 608.6 1302.7 609.8 1275 611 1302.7 611.9 1323.1 612.7 1327.3 614 1326.7 614.8 1320 615.7 1302.7 617 1275 618.1 1323.9 619.4 1324.3 620.6 1302.7 621.7 1275 622.4 1302.7 623.7 1247.4 624.4 1275 625.5 1302.7 626.5 1275 627.8 1329.4 629.1 1328.9 629.9 1329.9 631.1 1275 632.2 1302.7 632.9 1327.5 633.8 1302.7 634.6 1325.3 635.5 1275 636.5 1247.4 637.5 1325.5 638.7 1275 639.3 1328 639.9 1316.8 640.5 1275 641.3 1302.7 642.6 1275 643.4 1302.7 644.1 1302.7 645.3 1275 646.4 1302.7 647.3 1329.2 648.6 1327.5 649.4 1247.4 650.7 1302.7 651.8 1319.9 652.9 1302.7 654.2 1275 654.9 1302.7 655.6 1275 656.4 1302.7 657.5 1328.2 658.3 1302.7 659 1302.7 660.4 1328.9 661.8 1325 663.1 1324.3 663.9 1302.7 664.8 1302.7 666 1302.7 667.1 1302.7 668.2 1275 669.6 1302.7 670.8 1247.4 671.9 1319.6 673.1 1275 674.1 1302.7 675 1320.5 676.1 1302.7 677.2 1275 678.5 1275 679.4 1247.4 680.5 1275 681.8 1302.7 682.9 1275 683.9 1302.7 684.8 1327.4 686 1328.7 687.4 1192 688.3 1302.7 689.2 1302.7 690 1275 691.4 1302.7 692.6 1302.7 693.3 1319.1 694.4 1302.7 695.8 1247.4 697.1 1323.9 697.9 1275 698.8 1326.6 699.7 1302.7 700.3 1326.5 701.1 1302.7 702.2 1247.4 703.5 1329.6 704.8 1328.4 706.1 1302.7 707.4 1302.7 708.1 1247.4 709.3 1302.7 710.7 1328 712 1321.1 713.3 1327.6 714.4 1324.3 715.7 1302.7 716.5 1302.7 717.4 1302.7 718.4 1275 719 1219.7 720.1 1325.2 721 1275 722.1 1302.7 723.5 1275 724.5 1302.7 725.7 1302.7 726.9 1302.7 728 1327.4 728.9 1247.4 729.7 1324.8 730.7 1275 731.9 1325.8 732.7 1275 734 1275 735 1302.7 735.6 1275 736.7 1275 737.8 1247.4 738.8 1302.7 740 1275 740.7 1219.7 741.9 1321.3 742.8 1322.6 743.6 1302.7 744.5 1275 745.2 1302.7 745.9 1322.4 747.2 1302.7 748.3 1316.8 749.3 1275 750 1302.7 750.6 1302.7 752 1275 752.7 1219.7 753.9 1302.7 755.1 1318.5 756.3 1321.7 757.5 1326.8 758.8 1302.7 760 1329.2 760.8 1275 761.8 1302.7 762.9 1275 763.6 1325.3 764.7 1302.7 765.9 1319.5 767 1275 768.1 1325.8 769.2 1247.4 770.1 1325.1 771.2 1319.2 772 1326.7 773 1318.1 773.6 1318.4 774.7 1319.2 775.8 1302.7 776.9 1327.6 778.1 1275 779.2 1302.7 780 1319.4 781 1319.2 782.2 1275 783.5 1302.7 784.6 1302.7 785.3 1325.3 786.4 1302.7 787 1325.2 787.7 1328.2 788.8 1247.4 789.4 1318.4 790.4 1275 791.3 1319.7 792.6 1302.7 793.3 1302.7 794 1275 794.9 1317.8 795.6 1219.7 797 1302.7 798.1 1321.1 799 1275 800.4 1302.7 801.2 1275 802.5 1329.7 803.7 1275 804.4 1275 805.5 1302.7 806.7 1302.7 807.5 1302.7 808.3 1302.7 809.4 1275 810.2 1302.7 811.5 1318.1 812.2 1275 813.5 1302.7 814.4 1323.7 815.5 1219.7 816.1 1302.7 817.4 1302.7 818.1 1275 819 1302.7 819.9 1328.8 821.2 1247.4 822.4 1302.7 823.2 1302.7 824.6 1317.6 825.3 1329.6 826.4 1330.1 827.7 1302.7 828.9 1302.7 829.9 1327.3 831 1327.9 832.2 1219.7 832.8 1302.7 833.7 1275 834.8 1322.3 835.6 1247.4 836.5 1275 837.4 1318.4 838.4 1219.7 839.4 1302.7 840.6 1302.7 841.5 1302.7 842.5 1302.7 843.2 1319.1 844.5 1325.1 845.7 1247.4 847.1 1302.7 848.1 1247.4 848.9 1302.7 849.7 1329.9 850.4 1302.7 851.5 1302.7 852.6 1275 853.8 1302.7 854.8 1247.4 855.5 1302.7 856.6 1328.3 857.6 1275 859 1192 860.2 1302.7 861.6 1325.7 862.4 1275 863.6 1319.1 864.9 1323.2 866.3 1302.7 867.4 1302.7 868 1302.7 868.6 1275 869.9 1321.6 871.1 1329.9 872.2 1302.7 873.3 1321.8 874.1 1275 874.9 1302.7 876 1323.2 876.8 1247.4 877.5 1302.7 878.4 1302.7 879.1 1275 880.2 1302.7 881.3 1302.7 882.4 1302.7 883.2 1302.7 884.1 1302.7 885 1327 886.1 1275 886.9 1328.2 887.5 1302.7 888.5 1275 889.1 1275 889.9 1302.7 891 1275 892.3 1275 893.5 1275 894.8 1302.7 896 1302.7 897.4 1302.7 898.6 1321.9 899.5 1275 900.4 1302.7 901.3 1219.7 902.5 1302.7 903.3 1302.7 904.3 1302.7 905.7 1275 907 1327.5 907.9 1302.7 908.9 1275 910.2 1302.7 911.2 1302.7 912.1 1302.7 913.4 1302.7 914.1 1302.7 915.2 1275 916.5 1302.7 917.6 1325.6 918.6 1302.7 920 1323.3 920.7 1275 922.1 1324.5 922.8 1302.7 923.6 1275 924.7 1302.7 925.3 1275 926.1 1302.7 927 1322.2 928.1 1302.7 928.9 1302.7 930.3 1247.4 931 1275 931.7 1302.7 932.7 1321.9 934 1330.2 935.2 1325.5 935.9 1275 937 1302.7 937.9 1275 939 1324.3 940.1 1275 941.4 1275 942.2 1302.7 943.6 1302.7 944.7 1302.7 946 1247.4 946.8 1302.7 947.6 1326.3 948.6 1323 949.5 1247.4 950.8 1302.7 951.5 1302.7 952.2 1302.7 952.9 1329.1 953.7 1302.7 955 1328.1 955.9 1275 956.6 1323.4 957.4 1275 958.2 1322.2 959.1 1302.7 960.4 1302.7 961.4 1275 962.4 1302.7 963.2 1302.7 963.9 1325.9 965.1 1322.6 966 1302.7 966.8 1302.7 968 1302.7 969.3 1318.1 970.6 1326.5 971.2 1302.7 972.2 1275 973 1325.5 974.1 1275 975.2 1329.8 975.9 1302.7 976.8 1302.7 977.9 1275 979 1326.8 979.9 1302.7 981.2 1326.4 981.8 1302.7 982.6 1275 983.4 1320 984 1275 985.3 1302.7 986.7 1275 987.8 1318.9 988.9 1275 989.9 1302.7 991.1 1275 992.3 1302.7 993.7 1302.7 994.5 1302.7 995.4 1302.7 996.1 1321.1 996.9 1302.7 998.3 1302.7 999.6 1247.4 1000.4 1322.8 1001.6 1302.7 1002.6 1318.8 1003.3 1302.7 1004 1192 1005.1 1302.7 1006 1302.7 1006.7 1302.7 1008.1 1329.2 1009.3 1302.7 1010.3 1302.7 1011.3 1275 1012.4 1302.7 1013.2 1302.7 1013.8 1318.7 1014.7 1275 1016 1247.4 1017.2 1302.7 1018.5 1302.7 1019.5 1275 1020.3 1302.7 1021.4 1320.6 1022.7 1247.4 1023.5 1302.7 1024.1 1302.7 1025.1 1329.1 1025.7 1275 1026.3 1318.5 1027.5 1275 1028.5 1302.7 1029.5 1275 1030.8 1302.7 1031.8 1302.7 1032.5 1302.7 1033.5 1317.8 1034.8 1321.8 1036 1321 1037.1 1247.4 1038.1 1302.7 1039 1330 1039.7 1302.7 1040.9 1302.7 1041.8 1302.7 1042.7 1302.7 1044 1247.4 1045.3 1302.7 1046.3 1302.7 1047.4 1302.7 1048.1 1302.7 1048.7 1302.7 1049.7 1322.7 1050.9 1275 1052 1302.7 1052.8 1322.6 1054 1319.6 1054.6 1302.7 1055.7 1247.4 1056.9 1275 1058 1322.6 1059.3 1275 1060.2 1320.9 1061.5 1325.2 1062.6 1329.7 1063.7 1322.8 1065 1317.5 1066.1 1192 1067.4 1302.7 1068 1275 1068.7 1302.7 1069.9 1302.7 1071.2 1275 1072.4 1330.2 1073.3 1247.4 1074.6 1302.7 1075.8 1302.7 1076.8 1275 1077.7 1321.9 1078.4 1275 1079.4 1302.7 1080.3 1302.7 1081.2 1302.7 1082.3 1302.7 1083.3 1329.7 1084 1219.7 1085 1302.7 1086 1316.6 1086.6 1247.4 1087.9 1302.7 1088.7 1318.3 1090 1275 1091.2 1302.7 1092.3 1302.7 1093.1 1275 1094.1 1302.7 1094.9 1302.7 1095.5 1247.4 1096.5 1302.7 1097.1 1302.7 1098.3 1275 1099.2 1322.3 1099.8 1275 1100.7 1324.4 1102 1323.6 1103.3 1302.7 1104.1 1275 1104.8 1302.7 1105.9 1321.4 1106.7 1247.4 1107.3 1325.6 1108.1 1275 1109.2 1327.4 1110 1302.7 1111.2 1302.7 1112.1 1275 1113 1302.7 1113.8 1302.7 1115.1 1275 1115.8 1302.7 1116.4 1302.7 1117.7 1275 1118.6 1302.7 1119.6 1275 1120.5 1326.8 1121.7 1326.1 1122.9 1302.7 1123.9 1328.5 1124.5 1275 1125.4 1327.2 1126.6 1330 1127.3 1323.4 1128.4 1325.3 1129.1 1219.7 1129.8 1319.6 1130.6 1275 1131.5 1324 1132.3 1275 1133 1302.7 1134.3 1302.7 1135.2 1317.3 1136.3 1302.7 1137.3 1302.7 1138.5 1302.7 1139.9 1302.7 1140.6 1318.3 1141.4 1326.4 1142.3 1328.1 1143.4 1302.7 1144.7 1275 1145.6 1318.4 1146.4 1326.2 1147 1316.9 1147.6 1275 1148.3 1302.7 1149.1 1320.4 1150.4 1247.4 1151.7 1302.7 1152.7 1302.7 1153.4 1275 1154.2 1328.7 1155.2 1324.4 1155.9 1275 1156.9 1302.7 1157.9 1219.7 1158.7 1320.2 1159.5 1302.7 1160.2 1302.7 1161.2 1302.7 1162.4 1247.4 1163.4 1275 1164.7 1324.8 1165.6 1325 1166.5 1275 1167.1 1302.7 1168.2 1302.7 1168.9 1275 1170.1 1329.7 1171.3 1302.7 1172.1 1330.3 1173.3 1302.7 1174.7 1275 1175.9 1302.7 1177 1275 1177.8 1302.7 1178.6 1302.7 1179.9 1247.4 1180.9 1302.7 1181.6 1323 1182.7 1327 1183.4 1275 1184.7 1318.3 1185.3 1319 1186 1302.7 1186.9 1323.1 1187.8 1324.9 1189.2 1302.7 1190.5 1328.3 1191.6 1302.7 1192.5 1302.7 1193.1 1247.4 1193.8 1275 1194.6 1302.7 1195.9 1275 1197.2 1302.7 1198.4 1302.7 1199 1302.7 1200.2 1302.7 1201.3 1325.5 1202.2 1327.7 1203.6 1275 1204.5 1302.7 1205.5 1275 1206.7 1247.4 1207.7 1275 1208.6 1302.7 1209.6 1275 1210.7 1324.8 1211.4 1275 1212.6 1302.7 1213.2 1328.9 1213.9 1302.7 1215.1 1323.7 1215.7 1302.7 1217.1 1247.4 1217.8 1302.7 1219.2 1302.7 1220.1 1275 1221.1 1302.7 1221.7 1275 1223 1326.8 1223.7 1322.9 1224.6 1302.7 1225.5 1327.6 1226.9 1247.4 1227.9 1302.7 1228.8 1275 1229.6 1319.2 1230.7 1324.2 1232 1324.3 1233.1 1318.4 1233.7 1275 1234.8 1323.5 1235.9 1247.4 1237.2 1275 1238 1302.7 1239.2 1324.6 1240.3 1320.9 1241 1320.7 1241.7 1302.7 1242.7 1247.4 1243.5 1325.9 1244.7 1316.8 1245.6 1325.1 1246.8 1302.7 1247.7 1324.4 1248.9 1318.9 1249.6 1317.4 1250.6 1247.4 1251.6 1329.1 1252.6 1302.7 1253.2 1302.7 1254.6 1327.2 1255.9 1322.1 1257.3 1321.3 1257.9 1302.7 1259.1 1275 1259.9 1247.4 1260.6 1275 1261.7 1302.7 1262.7 1275 1263.4 1302.7 1264.3 1302.7 1265 1325.8 1266.3 1302.7 1267 1328.7 1268 1302.7 1268.7 1302.7 1269.6 1302.7 1270.4 1302.7 1271.7 1275 1272.3 1323.6 1273.5 1302.7 1274.7 1247.4 1275.3 1302.7 1276.2 1329.2 1277.2 1275 1278.4 1302.7 1279.5 1329.8 1280.6 1325.6 1281.8 1330.2 1283.2 1302.7 1284 1321 1284.7 1302.7 1285.5 1275 1286.9 1323.7 1287.9 1320 1289 1275 1290.2 1302.7 1290.9 1247.4 1292.1 1318.9 1293.5 1318.8 1294.7 1275 1296 1326.2 1297.3 1328.7 1298.7 1275 1299.5 1302.7 1300.3 1275 1301.4 1324.9 1302.7 1275 1303.9 1302.7 1305 1325.6 1306.1 1330.3 1307.1 1328.8 1308.4 1302.7 1309.2 1247.4 1310.5 1302.7 1311.2 1275 1312.1 1302.7 1313.3 1275 1314 1302.7 1314.8 1321.9 1316.1 1275 1317.1 1247.4 1318.4 1302.7 1319.1 1324.1 1320.4 1302.7 1321.4 1323.2 1322.3 1321.1 1323 1275 1323.9 1302.7 1324.9 1275 1325.9 1302.7 1327.1 1302.7 1328.1 1318 1329.3 1302.7 1330 1318 1330.7 1302.7 1331.6 1321.5 1332.4 1219.7 1333.4 1321.4 1334.6 1275 1335.8 1247.4 1336.5 1275 1337.8 1302.7 1338.8 1219.7 1340 1302.7 1340.8 1275 1342.2 1192 1343.5 1302.7 1344.5 1302.7 1345.4 1275 1346.2 1302.7 1347.5 1275 1348.3 1302.7 1349.4 1275 1350.2 1302.7 1351 1302.7 1352.2 1275 1353.3 1302.7 1354.1 1302.7 1355.3 1247.4 1356.5 1302.7 1357.7 1321.6 1358.8 1275 1360 1302.7 1361.2 1302.7 1362.5 1192 1363.7 1328.5 1364.6 1324.6 1365.6 1302.7 1366.5 1302.7 1367.8 1318.7 1368.5 1247.4 1369.8 1319 1370.9 1275 1372.1 1302.7 1372.7 1275 1373.5 1219.7 1374.2 1275 1375.5 1302.7 1376.7 1302.7 1377.8 1219.7 1378.5 1302.7 1379.7 1275 1380.4 1302.7 1381.3 1302.7 1382.5 1275 1383.8 1302.7 1385 1302.7 1385.9 1247.4 1387.1 1302.7 1388.1 1302.7 1389.4 1319.2 1390.8 1329.4 1391.8 1324.1 1392.9 1302.7 1393.7 1302.7 1394.4 1323.2 1395.4 1327.6 1396.2 1316.9 1397.4 1320.4 1398.6 1327.5 1399.2 1321.6 1400 1275 1401.4 1302.7 1402.1 1275 1403.4 1302.7 1404 1275 1405 1317.7 1406.3 1328.6 1406.9 1302.7 1407.7 1275 1408.9 1247.4 1409.9 1275 1411.1 1192 1411.9 1302.7 1412.5 1319.5 1413.5 1318 1414.5 1325.9 1415.6 1275 1416.4 1302.7 1417.1 1247.4 1417.8 1302.7 1418.9 1324.3 1419.6 1302.7 1420.5 1275 1421.3 1302.7 1422 1322.1 1422.7 1327.2 1423.6 1321.6 1423.6 1330.3Z" class="dn"/>
<path d="M259 1192.05H271.0V1330.35H259" class="axl"/>
<text x="252.5" y="1195.6" text-anchor="end" class="ax">4</text>
<text x="252.5" y="1333.9" text-anchor="end" class="ax">0</text>
<text x="217.6" y="1267.4" text-anchor="end" class="lb" textLength="144.5" lengthAdjust="spacingAndGlyphs">GSM2481684</text>
<path d="M271.6 1484.3L271.6 1438.2 272.3 1461.2 273.1 1481.9 274.2 1461.2 275 1415.1 275.8 1481.2 276.7 1461.2 277.5 1483.6 278.6 1461.2 279.7 1438.2 281.1 1461.2 281.7 1478.6 282.5 1438.2 283.8 1461.2 285.1 1392.1 285.7 1438.2 287 1461.2 287.7 1461.2 288.4 1478.4 289.6 1461.2 290.4 1461.2 291.3 1474 292.1 1438.2 293.5 1461.2 294.1 1480.3 294.8 1461.2 295.8 1438.2 296.6 1461.2 297.3 1461.2 298.5 1415.1 299.9 1461.2 300.6 1461.2 301.8 1438.2 302.4 1481.9 303.7 1473.2 304.9 1461.2 306.3 1461.2 307.4 1461.2 308.1 1438.2 309.1 1461.2 310.3 1461.2 311.2 1461.2 311.9 1461.2 313.1 1438.2 313.7 1461.2 314.4 1475.6 315.4 1461.2 316.4 1476.8 317 1475.7 318.4 1461.2 319.4 1480 320.8 1438.2 322.1 1480.9 323.4 1438.2 324.7 1392.1 325.8 1476.4 327.1 1477.3 328 1461.2 329.3 1461.2 330.5 1461.2 331.2 1481.1 332 1461.2 333.3 1392.1 334.7 1475.7 335.5 1438.2 336.4 1475.1 337.3 1472.8 338.6 1415.1 339.8 1461.2 341.1 1415.1 341.7 1476.8 342.6 1473.7 343.9 1438.2 345.1 1477.4 346 1461.2 347 1438.2 347.9 1461.2 348.8 1438.2 349.5 1461.2 350.2 1483 350.9 1474.8 351.9 1475.8 352.9 1472.8 354.2 1415.1 355.2 1483.6 356.5 1461.2 357.8 1438.2 359.2 1461.2 360 1478.2 360.9 1461.2 362.2 1438.2 363.2 1392.1 364 1474.8 365.1 1479.7 365.7 1480.3 366.9 1438.2 367.5 1461.2 368.2 1479.4 369.3 1438.2 370 1438.2 370.9 1415.1 371.8 1461.2 372.7 1392.1 373.6 1461.2 374.3 1438.2 375.2 1461.2 376.1 1461.2 376.9 1438.2 378.1 1477.5 378.9 1438.2 379.9 1461.2 381 1461.2 382.2 1369 383.2 1461.2 384.2 1461.2 384.9 1483.3 386.2 1438.2 387 1482 387.7 1476 388.4 1475.8 389.6 1461.2 390.9 1415.1 391.8 1484.3 393.2 1478.4 394.2 1438.2 395.5 1461.2 396.2 1438.2 397.3 1461.2 398.1 1461.2 398.8 1461.2 399.9 1461.2 401.1 1392.1 402.2 1461.2 403.3 1461.2 404.6 1438.2 405.8 1461.2 406.9 1461.2 407.9 1415.1 409.2 1477.2 410.3 1438.2 411.4 1461.2 412.2 1477.4 413 1461.2 413.9 1482.7 414.7 1473.7 415.6 1392.1 416.9 1461.2 418 1461.2 419.3 1482 420.5 1461.2 421.4 1438.2 422.5 1461.2 423.5 1438.2 424.2 1415.1 425 1461.2 426 1477 427.4 1461.2 428.6 1478 429.7 1461.2 430.7 1415.1 431.9 1461.2 433.3 1438.2 434.6 1477.8 435.9 1461.2 436.7 1473.9 437.6 1438.2 438.4 1415.1 439.5 1438.2 440.3 1461.2 441.1 1461.2 441.8 1461.2 442.9 1461.2 444.1 1461.2 444.8 1461.2 445.9 1461.2 446.7 1461.2 447.7 1415.1 449 1461.2 450 1461.2 451.1 1415.1 452.1 1461.2 452.8 1461.2 453.7 1461.2 454.9 1482.6 456.2 1474 457.6 1346 458.7 1480.8 459.4 1438.2 460.2 1482.4 460.9 1479.8 461.9 1461.2 462.9 1438.2 463.7 1473.8 464.8 1477.8 465.9 1438.2 467.3 1415.1 468.4 1461.2 469.8 1461.2 470.9 1461.2 472.2 1438.2 473.4 1461.2 474.1 1474.2 475.4 1438.2 476.4 1461.2 477.3 1415.1 478.7 1474.1 479.7 1438.2 481.1 1472.9 482.2 1461.2 483.4 1438.2 484.7 1461.2 486 1392.1 487.1 1475.5 487.8 1476.6 488.7 1438.2 489.4 1461.2 490.6 1415.1 491.7 1438.2 492.9 1461.2 494.2 1461.2 495.2 1438.2 496.6 1461.2 497.9 1461.2 499 1461.2 499.9 1481.7 500.8 1461.2 501.6 1475.1 502.7 1392.1 503.3 1461.2 504.7 1461.2 505.8 1474.7 507 1477.8 507.9 1461.2 508.9 1481.6 509.9 1461.2 511 1415.1 511.8 1475.6 512.6 1476.6 513.5 1438.2 514.2 1461.2 515.3 1438.2 516.4 1461.2 517.7 1438.2 519 1392.1 519.7 1438.2 520.4 1474.1 521.5 1461.2 522.4 1461.2 523.8 1438.2 524.7 1461.2 526 1461.2 526.9 1461.2 528.1 1461.2 528.9 1474.1 529.8 1479.4 531.1 1461.2 532.4 1438.2 533.5 1415.1 534.8 1483.4 535.4 1438.2 536.1 1461.2 536.9 1461.2 537.7 1479.3 538.8 1438.2 539.5 1461.2 540.4 1480.3 541.4 1461.2 542.3 1369 543.1 1438.2 543.8 1461.2 544.9 1483.9 545.5 1461.2 546.3 1461.2 547.2 1415.1 548.1 1480.9 548.9 1438.2 549.6 1481.7 550.5 1461.2 551.9 1438.2 552.8 1482.2 553.9 1438.2 555.2 1461.2 556.3 1479 557.6 1461.2 558.3 1438.2 559.6 1461.2 560.5 1461.2 561.6 1477 562.3 1392.1 563.5 1461.2 564.3 1461.2 565.5 1461.2 566.4 1461.2 567.4 1461.2 568.8 1461.2 569.9 1392.1 571 1461.2 572.2 1461.2 573.6 1461.2 574.7 1483.3 575.4 1461.2 576 1461.2 577.2 1415.1 578.2 1461.2 579.2 1461.2 580.6 1461.2 581.5 1483.8 582.5 1461.2 583.4 1415.1 584.7 1438.2 585.5 1461.2 586.4 1438.2 587.1 1482.5 587.8 1479.9 588.5 1461.2 589.4 1478 590.1 1461.2 591.3 1438.2 592.5 1479.8 593.3 1473.1 594.4 1482.5 595.5 1438.2 596.4 1461.2 597.6 1461.2 598.3 1392.1 599.4 1474.6 600.1 1461.2 600.7 1479 601.4 1461.2 602.3 1480.7 603 1461.2 604.4 1479.6 605.1 1473.6 606 1461.2 607.2 1438.2 608.2 1415.1 609.5 1461.2 610.1 1438.2 610.9 1477.3 611.9 1438.2 612.8 1461.2 614.2 1461.2 614.8 1461.2 616.1 1438.2 617.2 1461.2 618.2 1438.2 619.3 1461.2 620.2 1476.5 621.4 1461.2 622.7 1461.2 623.5 1415.1 624.5 1438.2 625.3 1461.2 626.3 1438.2 626.9 1461.2 627.8 1474.5 629 1461.2 630 1479.9 630.9 1461.2 631.8 1477.3 633 1481.3 634.2 1438.2 635.4 1461.2 636.5 1415.1 637.2 1438.2 638 1461.2 639 1438.2 639.6 1481.6 640.4 1438.2 641.2 1461.2 642.4 1438.2 643.3 1369 643.9 1438.2 644.7 1438.2 646 1461.2 647.2 1476.7 648.2 1415.1 649.4 1438.2 650.2 1461.2 651.3 1461.2 652 1438.2 652.6 1461.2 653.9 1438.2 655 1461.2 655.7 1481.7 656.7 1415.1 657.9 1461.2 658.6 1461.2 659.8 1461.2 661.1 1438.2 662.1 1477.4 663.4 1415.1 664.3 1479.5 665.2 1438.2 665.8 1461.2 666.5 1461.2 667.7 1438.2 668.4 1479.7 669.5 1478.1 670.1 1438.2 671.4 1461.2 672.2 1461.2 673.1 1415.1 674.1 1461.2 675.3 1461.2 676.6 1461.2 677.3 1474.4 678.2 1474.4 679.6 1461.2 680.4 1478.2 681.7 1475.1 682.9 1392.1 684.3 1461.2 685.2 1461.2 686 1483.2 687.1 1438.2 687.7 1478.9 688.9 1484.2 689.7 1461.2 690.6 1438.2 691.3 1461.2 692.2 1461.2 693.6 1369 694.8 1438.2 695.9 1473.3 697.1 1461.2 697.7 1438.2 698.8 1461.2 699.5 1438.2 700.1 1461.2 700.9 1475.3 701.7 1438.2 702.9 1415.1 703.6 1438.2 704.4 1461.2 705.1 1476.8 706.2 1461.2 707.5 1438.2 708.8 1461.2 709.7 1478.3 710.7 1461.2 711.3 1472.8 712.7 1415.1 713.7 1461.2 714.7 1461.2 715.6 1438.2 716.3 1461.2 717.1 1461.2 718.4 1438.2 719.4 1461.2 720.1 1461.2 721.2 1461.2 722.5 1415.1 723.8 1461.2 725.1 1484.2 726.2 1478.3 726.9 1461.2 727.6 1438.2 728.6 1477.2 729.5 1392.1 730.7 1477.7 731.3 1438.2 732.1 1461.2 733.1 1461.2 734.4 1482.7 735.5 1461.2 736.5 1461.2 737.2 1438.2 737.9 1479.7 739.2 1484 740.4 1483.8 741.5 1392.1 742.3 1461.2 743.6 1438.2 744.9 1484.1 746 1415.1 747.3 1461.2 748.6 1438.2 749.9 1461.2 750.7 1461.2 751.8 1461.2 753 1461.2 753.8 1461.2 754.8 1438.2 755.4 1479.1 756.1 1415.1 757.2 1461.2 758.5 1438.2 759.4 1461.2 760.7 1474.4 761.7 1478.1 762.5 1482.1 763.7 1483.8 764.4 1438.2 765.4 1461.2 766.4 1461.2 767.1 1438.2 768 1461.2 768.6 1415.1 769.6 1479 770.7 1478 772 1461.2 773.2 1438.2 774.4 1461.2 775.5 1438.2 776.3 1461.2 777.3 1478.7 778.4 1461.2 779.5 1415.1 780.3 1461.2 781 1480.8 781.7 1482.9 782.6 1461.2 783.3 1461.2 784.1 1461.2 784.9 1438.2 785.8 1461.2 786.7 1461.2 787.4 1474.9 788.2 1479.2 789.1 1415.1 790.4 1438.2 791.1 1473.3 792 1438.2 793.4 1473.9 794.6 1461.2 795.5 1415.1 796.4 1483.2 797.3 1473.9 798.4 1481 799.4 1461.2 800.4 1473.7 801.1 1392.1 802.1 1461.2 802.9 1461.2 804.1 1480.5 805 1476.6 806.1 1474.1 806.9 1483.6 807.8 1478.7 808.8 1392.1 809.5 1461.2 810.2 1461.2 811 1461.2 811.7 1461.2 812.4 1480.2 813.2 1438.2 813.8 1482.3 814.5 1461.2 815.4 1438.2 816.4 1461.2 817.5 1461.2 818.1 1461.2 819.5 1415.1 820.5 1461.2 821.7 1461.2 822.5 1483.9 823.1 1461.2 823.8 1438.2 825.2 1478.9 826 1438.2 827 1392.1 828.1 1461.2 828.8 1438.2 829.4 1461.2 830.2 1474.2 831.1 1461.2 832.3 1479.3 833.5 1476.4 834.3 1474.7 835.2 1415.1 835.9 1473.2 837.1 1461.2 838.1 1438.2 838.7 1461.2 839.5 1461.2 840.3 1461.2 841.5 1482.2 842.4 1438.2 843.5 1461.2 844.5 1461.2 845.4 1415.1 846.6 1475.5 847.4 1480.8 848.4 1415.1 849.4 1461.2 850.4 1461.2 851.6 1438.2 852.7 1461.2 853.7 1461.2 854.6 1415.1 855.7 1438.2 856.6 1483.8 857.8 1438.2 858.7 1461.2 859.6 1461.2 860.4 1438.2 861.4 1461.2 862.4 1482.4 863 1483.8 863.8 1480.5 864.7 1477 865.9 1438.2 866.9 1461.2 867.9 1438.2 868.6 1461.2 870 1461.2 870.6 1438.2 871.9 1461.2 873.2 1415.1 874.6 1479.3 875.8 1475.8 876.6 1479 877.5 1461.2 878.6 1461.2 879.4 1461.2 880.1 1415.1 881.2 1461.2 881.9 1461.2 882.7 1461.2 883.8 1476.8 884.8 1438.2 885.6 1461.2 886.9 1461.2 888.3 1477.2 889.4 1461.2 890.6 1477.9 891.6 1415.1 892.4 1476.8 893.6 1461.2 894.3 1461.2 895.6 1482.6 896.4 1478.9 897.8 1461.2 898.6 1461.2 899.5 1461.2 900.8 1438.2 901.5 1461.2 902.5 1482.6 903.8 1415.1 904.8 1461.2 905.5 1461.2 906.3 1438.2 907 1461.2 908.1 1438.2 909.3 1461.2 910.5 1480.2 911.8 1415.1 912.8 1461.2 914.2 1482 915.5 1472.9 916.2 1461.2 917 1461.2 918.1 1438.2 919.2 1415.1 920 1461.2 920.9 1438.2 921.6 1461.2 922.5 1438.2 923.5 1461.2 924.9 1477.5 925.6 1438.2 926.7 1461.2 927.9 1476.3 928.9 1481.9 929.8 1461.2 931 1461.2 931.9 1472.9 933 1438.2 934.3 1477.1 935.2 1482.1 935.8 1475.6 937.2 1479.8 938.5 1438.2 939.9 1461.2 940.8 1438.2 941.7 1438.2 942.6 1473.4 943.7 1479.8 944.8 1438.2 945.5 1461.2 946.6 1438.2 947.2 1369 947.9 1473 948.7 1480.9 949.6 1477.3 950.5 1481.3 951.4 1415.1 952.1 1438.2 953 1473.4 953.9 1474.1 955.2 1484.3 956.1 1479 957 1482.4 957.8 1461.2 958.4 1461.2 959.7 1482 960.7 1461.2 962.1 1438.2 963.3 1461.2 964.6 1478.6 965.8 1478 966.6 1479.6 967.5 1480.7 968.7 1392.1 970 1461.2 971.2 1438.2 972 1473.6 972.7 1480.9 973.9 1438.2 974.9 1461.2 976 1461.2 977 1438.2 978.1 1461.2 979 1473.8 979.8 1392.1 980.9 1461.2 981.9 1482.6 982.6 1415.1 983.9 1481.5 985.3 1461.2 986.2 1438.2 987.2 1461.2 988.1 1438.2 989.1 1461.2 990.2 1438.2 991.5 1461.2 992.6 1438.2 993.4 1461.2 994.2 1415.1 995.6 1475.9 996.3 1484.2 997.2 1461.2 998 1461.2 999.2 1461.2 1000.5 1461.2 1001.8 1476 1002.6 1415.1 1003.4 1461.2 1004.7 1478.1 1005.3 1461.2 1006.2 1461.2 1007 1438.2 1008.3 1438.2 1009.2 1461.2 1010.6 1461.2 1011.6 1475.4 1012.3 1438.2 1013.6 1461.2 1014.4 1438.2 1015.3 1438.2 1016 1415.1 1017.2 1472.8 1018.6 1461.2 1019.8 1438.2 1020.5 1415.1 1021.2 1481.6 1022.3 1461.2 1023.4 1461.2 1024.1 1369 1025.4 1480 1026 1473.8 1026.7 1473.9 1027.3 1461.2 1028.1 1461.2 1029.4 1438.2 1030.5 1461.2 1031.7 1461.2 1033 1481.6 1033.7 1438.2 1034.7 1472.9 1036 1461.2 1036.8 1415.1 1038.1 1438.2 1039.3 1461.2 1040.2 1473 1041.5 1474.6 1042.4 1482.6 1043.4 1480 1044.5 1415.1 1045.9 1438.2 1047.2 1461.2 1048.3 1477.4 1049.2 1483.9 1050.1 1461.2 1051.2 1478.2 1052.5 1461.2 1053.8 1478.6 1055.1 1438.2 1055.9 1461.2 1056.9 1475.8 1057.9 1476.8 1059.2 1476.2 1060.4 1461.2 1061.8 1392.1 1063.1 1461.2 1063.8 1461.2 1065.1 1438.2 1065.7 1461.2 1066.8 1481.6 1068.1 1346 1068.8 1461.2 1069.8 1461.2 1070.4 1438.2 1071.1 1461.2 1072.2 1438.2 1073.1 1461.2 1074.2 1476.3 1075 1461.2 1076 1461.2 1077.2 1461.2 1078.2 1461.2 1079.4 1481 1080.1 1461.2 1080.7 1461.2 1081.5 1476.8 1082.8 1438.2 1084.1 1415.1 1085.2 1482.3 1086.1 1481.7 1087.3 1461.2 1088.3 1473.4 1089.4 1438.2 1090.1 1438.2 1090.9 1461.2 1091.6 1479.3 1093 1461.2 1094.2 1438.2 1095.5 1461.2 1096.4 1438.2 1097.7 1461.2 1098.6 1461.2 1099.6 1482.1 1100.4 1479.3 1101.6 1461.2 1103 1461.2 1104.2 1483.8 1104.9 1461.2 1105.9 1477.4 1107.2 1478.4 1108.2 1482.7 1108.9 1415.1 1109.6 1479.4 1110.3 1475.9 1111.5 1461.2 1112.7 1438.2 1114.1 1392.1 1114.8 1476.5 1115.9 1438.2 1116.7 1461.2 1118 1461.2 1118.9 1438.2 1119.9 1438.2 1121 1461.2 1122.1 1461.2 1122.8 1438.2 1124.1 1392.1 1125 1438.2 1126.1 1478.7 1126.8 1461.2 1127.5 1461.2 1128.5 1475.2 1129.1 1484.2 1129.9 1438.2 1130.5 1474.5 1131.7 1482.6 1133.1 1481.3 1133.9 1438.2 1134.5 1461.2 1135.8 1438.2 1136.8 1480.2 1138 1461.2 1138.6 1438.2 1139.4 1461.2 1140.8 1461.2 1141.7 1461.2 1142.7 1461.2 1143.9 1415.1 1144.9 1461.2 1145.9 1461.2 1146.8 1438.2 1147.7 1461.2 1149 1461.2 1149.6 1482.4 1150.5 1438.2 1151.2 1461.2 1152.1 1478 1153.1 1438.2 1154.1 1461.2 1154.8 1438.2 1155.5 1461.2 1156.1 1461.2 1156.9 1415.1 1157.9 1461.2 1159.2 1461.2 1160.6 1438.2 1161.7 1461.2 1162.4 1438.2 1163.7 1478 1165.1 1415.1 1166.2 1461.2 1167.3 1461.2 1168 1478.7 1168.7 1461.2 1170 1438.2 1170.9 1392.1 1172.3 1461.2 1173.4 1438.2 1174.7 1438.2 1175.5 1461.2 1176.7 1461.2 1178.1 1483.2 1178.9 1480.5 1180.3 1438.2 1181.5 1461.2 1182.8 1438.2 1183.5 1461.2 1184.3 1392.1 1185.5 1438.2 1186.3 1461.2 1187.7 1438.2 1188.8 1461.2 1190.1 1461.2 1191.2 1461.2 1192.2 1461.2 1192.9 1392.1 1194 1475.9 1195.3 1461.2 1195.9 1438.2 1196.6 1461.2 1197.3 1438.2 1198.2 1369 1199.5 1477.9 1200.3 1473.3 1201 1438.2 1202.1 1461.2 1203.3 1392.1 1203.9 1461.2 1205.1 1474.4 1205.8 1438.2 1206.7 1481.9 1207.4 1477.5 1208.5 1461.2 1209.2 1438.2 1210.2 1461.2 1211.3 1478.2 1212.4 1438.2 1213.6 1461.2 1215 1461.2 1215.9 1461.2 1216.9 1415.1 1217.6 1473.9 1218.9 1461.2 1220 1474.1 1220.9 1461.2 1222.2 1438.2 1223.4 1475.1 1224 1438.2 1224.8 1461.2 1226.2 1461.2 1227 1438.2 1228.1 1480 1229.3 1476.9 1230.6 1461.2 1231.9 1461.2 1232.7 1392.1 1233.6 1475.8 1234.9 1461.2 1235.9 1472.9 1236.7 1415.1 1238 1438.2 1238.8 1481.9 1239.8 1438.2 1240.5 1477.7 1241.4 1461.2 1242.3 1438.2 1243 1461.2 1243.9 1438.2 1244.9 1474.2 1246.2 1461.2 1247 1392.1 1248.3 1461.2 1248.9 1438.2 1249.8 1461.2 1250.4 1478.8 1251.5 1461.2 1252.3 1483.4 1253.1 1415.1 1254.4 1483.4 1255.5 1461.2 1256.7 1438.2 1257.5 1480.2 1258.5 1438.2 1259.7 1461.2 1260.9 1438.2 1262.1 1461.2 1263.4 1438.2 1264.3 1415.1 1265 1461.2 1266 1461.2 1267 1438.2 1268.2 1461.2 1268.8 1461.2 1269.8 1461.2 1270.7 1482.8 1271.8 1461.2 1273.1 1461.2 1274.2 1461.2 1275.3 1461.2 1276.3 1438.2 1277.5 1476.7 1278.5 1479 1279.3 1392.1 1280.2 1438.2 1280.8 1461.2 1281.5 1461.2 1282.5 1474.1 1283.7 1479.4 1284.8 1479.2 1286 1477.9 1287.1 1482.8 1288.1 1392.1 1289.1 1480.3 1289.8 1474.7 1290.9 1473.9 1291.6 1480.3 1292.5 1461.2 1293.8 1474.3 1294.9 1461.2 1296.2 1438.2 1297.6 1461.2 1298.3 1438.2 1298.9 1461.2 1299.8 1392.1 1300.8 1438.2 1302 1438.2 1302.9 1461.2 1303.6 1461.2 1304.6 1461.2 1305.8 1438.2 1307.2 1461.2 1308.5 1461.2 1309.8 1461.2 1310.8 1438.2 1311.9 1461.2 1312.5 1480.8 1313.6 1438.2 1314.5 1415.1 1315.2 1438.2 1315.9 1461.2 1316.6 1461.2 1317.5 1438.2 1318.8 1461.2 1319.9 1461.2 1320.9 1461.2 1322.1 1461.2 1322.9 1477.8 1323.8 1474.3 1324.8 1438.2 1325.6 1461.2 1327 1474.4 1327.8 1461.2 1328.6 1461.2 1329.8 1461.2 1331.1 1461.2 1331.9 1438.2 1332.7 1461.2 1333.9 1438.2 1334.5 1346 1335.6 1461.2 1336.3 1438.2 1337.2 1461.2 1337.8 1461.2 1338.7 1415.1 1340 1484.3 1341.2 1461.2 1341.8 1438.2 1342.8 1481.2 1343.7 1438.2 1344.3 1477.4 1345.3 1461.2 1345.9 1438.2 1346.9 1461.2 1348 1461.2 1349.2 1438.2 1350.5 1461.2 1351.4 1461.2 1352.2 1438.2 1353.4 1461.2 1354.2 1438.2 1355.1 1461.2 1355.9 1392.1 1356.6 1461.2 1357.3 1461.2 1358.7 1438.2 1359.6 1461.2 1360.4 1482.6 1361.2 1461.2 1362.1 1461.2 1363 1438.2 1364.4 1438.2 1365.2 1461.2 1366.4 1461.2 1367.3 1438.2 1368.5 1461.2 1369.4 1438.2 1370 1461.2 1370.7 1438.2 1371.3 1461.2 1372 1415.1 1373.1 1481.7 1373.7 1461.2 1374.8 1461.2 1375.8 1438.2 1376.9 1461.2 1378.3 1461.2 1379 1415.1 1379.9 1461.2 1380.9 1438.2 1381.9 1438.2 1382.7 1461.2 1383.5 1478.4 1384.4 1461.2 1385.7 1415.1 1386.9 1461.2 1387.9 1438.2 1388.9 1438.2 1389.8 1461.2 1391.1 1461.2 1391.9 1474.9 1392.8 1461.2 1393.9 1438.2 1395.1 1481 1396.5 1438.2 1397.5 1461.2 1398.8 1415.1 1399.7 1438.2 1400.4 1482.6 1401.8 1480.5 1402.5 1461.2 1403.7 1438.2 1405.1 1482 1406.1 1483.3 1407.4 1479 1408.4 1438.2 1409.1 1415.1 1410.2 1461.2 1410.8 1476.7 1411.6 1461.2 1412.8 1438.2 1414 1481.9 1414.8 1438.2 1415.7 1473.1 1416.7 1415.1 1417.8 1461.2 1418.7 1438.2 1420 1483.1 1420.7 1438.2 1421.9 1461.2 1423 1476 1423 1484.3Z" class="dn"/>
<path d="M259 1345.98H271.0V1484.28H259" class="axl"/>
<text x="252.5" y="1349.6" text-anchor="end" class="ax">6</text>
<text x="252.5" y="1487.9" text-anchor="end" class="ax">0</text>
<text x="217.6" y="1421.4" text-anchor="end" class="lb" textLength="144.5" lengthAdjust="spacingAndGlyphs">GSM2481683</text>
<path d="M271.6 1638.2L271.6 1610.6 272.3 1638.1 273.3 1610.6 274.4 1610.6 275.6 1582.9 276.3 1610.6 277.3 1630 278.5 1499.9 279.4 1632.4 280 1610.6 281.3 1582.9 282.6 1610.6 283.6 1610.6 284.9 1610.6 285.6 1582.9 286.4 1610.6 287.4 1610.6 288.4 1632.4 289.3 1610.6 290 1499.9 290.7 1610.6 291.4 1582.9 292.8 1555.2 294.2 1610.6 294.8 1610.6 295.9 1637 296.7 1610.6 297.7 1630.3 298.3 1610.6 299.1 1610.6 299.7 1610.6 300.9 1582.9 302.2 1610.6 303 1632.3 303.8 1610.6 305.1 1610.6 305.8 1634.6 306.4 1582.9 307.8 1610.6 308.5 1610.6 309.6 1633.3 310.3 1610.6 311.3 1637.3 312.3 1632.9 313.6 1627.5 314.9 1610.6 315.9 1610.6 316.6 1635.1 317.2 1610.6 318.1 1610.6 319.5 1582.9 320.1 1625.9 321.1 1582.9 321.8 1610.6 322.6 1628.2 323.3 1610.6 324.4 1610.6 325.3 1635 326.6 1582.9 327.2 1610.6 328.3 1555.2 329.1 1610.6 329.7 1610.6 330.8 1582.9 331.6 1638.1 333 1624.6 334.3 1633.4 335.1 1610.6 335.7 1582.9 337.1 1610.6 338.1 1610.6 338.9 1610.6 339.7 1582.9 340.3 1610.6 341.1 1555.2 341.9 1634.4 342.7 1627.3 344 1625.5 345.4 1633.8 346.2 1610.6 347.5 1610.6 348.3 1610.6 349.4 1610.6 350.3 1555.2 351.3 1610.6 352.4 1610.6 353.3 1610.6 354.5 1628.1 355.3 1610.6 356.3 1582.9 357.2 1631.1 357.9 1610.6 358.5 1582.9 359.2 1610.6 359.8 1624.5 361 1555.2 361.7 1610.6 362.5 1610.6 363.6 1630.3 364.2 1610.6 365.5 1555.2 366.7 1610.6 367.9 1610.6 369.1 1610.6 370.1 1637.9 370.8 1636.9 371.6 1582.9 372.3 1610.6 373.3 1624.4 374.6 1610.6 375.9 1610.6 377 1630.5 378.3 1555.2 379.6 1624.8 380.4 1630.7 381.5 1610.6 382.8 1610.6 384 1610.6 384.9 1610.6 386.1 1582.9 386.7 1610.6 387.8 1610.6 388.8 1582.9 390.1 1636.1 391 1555.2 391.9 1582.9 393.1 1610.6 393.9 1582.9 394.7 1610.6 395.4 1610.6 396.7 1610.6 397.6 1610.6 398.4 1610.6 399.8 1610.6 400.6 1630.6 401.2 1555.2 401.9 1628.4 402.7 1637.2 403.9 1637.4 405 1633.2 406.1 1610.6 407.4 1555.2 408.3 1610.6 409.5 1582.9 410.2 1626.9 411.3 1610.6 412 1632.6 413.3 1582.9 414.5 1610.6 415.4 1582.9 416.8 1555.2 417.5 1634.2 418.1 1630.2 418.9 1610.6 420.3 1582.9 421.3 1636.2 422.5 1610.6 423.6 1582.9 424.7 1610.6 425.9 1610.6 427 1610.6 428 1628.2 428.6 1610.6 429.4 1610.6 430.4 1630.2 431 1555.2 432.4 1635.9 433 1610.6 434 1633.1 435.2 1628.6 436.1 1633.7 437.2 1634.7 438.5 1637.3 439.4 1632 440 1626 441.1 1627.5 442.4 1610.6 443 1636 443.7 1582.9 444.9 1610.6 445.7 1624.8 446.9 1610.6 448.1 1610.6 449.2 1582.9 450.4 1610.6 451.5 1610.6 452.6 1555.2 453.6 1610.6 454.9 1582.9 455.5 1610.6 456.5 1610.6 457.5 1625.2 458.6 1610.6 459.2 1634.5 459.9 1610.6 460.7 1628.8 461.4 1625.7 462.1 1630.1 463.1 1610.6 463.8 1610.6 464.7 1630.4 465.8 1582.9 467.1 1631 468.4 1610.6 469.3 1610.6 469.9 1610.6 470.5 1582.9 471.7 1555.2 472.9 1610.6 473.9 1635.3 475.2 1610.6 475.8 1635.7 476.9 1582.9 477.9 1610.6 478.6 1626.4 479.8 1625.4 480.8 1610.6 482 1610.6 482.8 1582.9 483.9 1610.6 485.1 1610.6 485.9 1632.1 486.8 1555.2 487.8 1633.6 488.9 1582.9 489.5 1610.6 490.3 1582.9 491.7 1610.6 493 1610.6 493.7 1610.6 494.3 1630 495 1632.5 495.9 1627.9 496.6 1610.6 497.3 1610.6 498.1 1632.7 498.9 1637.4 499.8 1610.6 500.7 1610.6 501.4 1582.9 502.3 1610.6 503.5 1582.9 504.7 1610.6 505.4 1610.6 506.3 1610.6 507.2 1610.6 508.5 1633.1 509.4 1626.1 510.1 1610.6 511.1 1632.9 512.1 1610.6 512.9 1582.9 514.1 1610.6 514.8 1610.6 516.2 1630.3 517.2 1635.9 517.9 1555.2 519.2 1582.9 520.3 1610.6 521.7 1610.6 522.3 1627.4 523.6 1610.6 524.5 1638.2 525.3 1610.6 526 1610.6 527 1582.9 528 1610.6 529.2 1582.9 530 1610.6 531.2 1610.6 531.8 1610.6 532.9 1610.6 533.6 1610.6 535 1610.6 535.6 1610.6 536.7 1628.9 537.7 1610.6 538.5 1582.9 539.1 1610.6 540 1610.6 540.6 1582.9 541.5 1634.8 542.7 1610.6 544 1636.5 545.2 1610.6 546.3 1582.9 547.6 1610.6 548.6 1610.6 550 1610.6 551.3 1625 552 1610.6 552.7 1630.1 553.7 1610.6 554.4 1634.6 555 1582.9 556.3 1610.6 557.1 1582.9 558.3 1631.9 558.9 1633.8 560 1624.9 561.2 1628.5 562.3 1582.9 563.4 1610.6 564.7 1582.9 565.9 1610.6 566.6 1582.9 567.6 1610.6 568.7 1610.6 570 1627.1 570.7 1610.6 572.1 1610.6 573.3 1610.6 574.4 1610.6 575.6 1627 576.3 1610.6 577.6 1624.8 578.9 1610.6 580.2 1610.6 581.6 1555.2 582.5 1610.6 583.8 1527.6 585.1 1582.9 586.1 1630.6 587 1630.6 588 1634.5 589.3 1630.3 590.7 1610.6 591.7 1555.2 592.6 1610.6 593.6 1610.6 594.9 1582.9 596.1 1610.6 596.8 1626.2 598.2 1630.1 599.2 1637.2 600.5 1632.6 601.6 1582.9 602.5 1625.2 603.2 1555.2 603.8 1610.6 604.8 1582.9 605.9 1630.7 606.5 1610.6 607.4 1610.6 608 1582.9 609 1630.7 609.9 1629.5 611.2 1610.6 612.2 1610.6 613.2 1610.6 614.1 1630.4 615.2 1582.9 616.4 1629.8 617.8 1610.6 618.5 1582.9 619.2 1610.6 620.3 1633.8 621.3 1634.9 622.3 1625.9 623.3 1555.2 624.5 1610.6 625.6 1610.6 626.9 1582.9 627.5 1610.6 628.4 1610.6 629.7 1582.9 630.5 1610.6 631.4 1610.6 632.5 1610.6 633.3 1582.9 634 1610.6 634.8 1627 636.1 1634.9 637.1 1630.7 638.3 1633 639.2 1635.6 640.1 1582.9 641.5 1610.6 642.5 1582.9 643.3 1610.6 644.1 1555.2 644.8 1610.6 646.2 1582.9 646.9 1582.9 648 1610.6 649.1 1610.6 650 1627.8 650.9 1610.6 651.7 1610.6 652.4 1625 653.7 1610.6 654.6 1582.9 656 1610.6 657.2 1624.8 658.6 1631.7 659.7 1635 660.9 1633.1 661.9 1626.1 663 1555.2 663.9 1610.6 664.9 1631.7 665.9 1627.7 667 1627.7 668 1610.6 669 1635.9 670.1 1610.6 671 1610.6 671.9 1631.1 672.9 1582.9 674.1 1625.5 674.8 1610.6 676.2 1610.6 677.4 1633.8 678.1 1582.9 679.1 1610.6 680.2 1610.6 681.2 1610.6 682.4 1582.9 683.1 1626.5 683.7 1633.8 684.5 1582.9 685.3 1630.5 686 1610.6 686.8 1610.6 688.1 1527.6 689 1555.2 690.2 1626.3 691.5 1610.6 692.6 1610.6 693.8 1637.8 694.9 1634.4 695.8 1635.2 696.9 1610.6 698.2 1635.2 699.1 1610.6 700 1610.6 700.8 1582.9 702 1638.2 703.2 1582.9 704.2 1627.3 704.9 1610.6 705.9 1610.6 706.9 1634.3 708.2 1610.6 708.9 1610.6 710.2 1636 711 1582.9 712.3 1635.6 713.5 1610.6 714.4 1634.4 715.8 1628.9 717 1610.6 718.1 1633.2 719.1 1582.9 720.3 1610.6 721.6 1628.2 722.8 1610.6 723.9 1635.3 724.9 1610.6 726.2 1582.9 726.9 1630.4 728.3 1610.6 729.5 1638 730.5 1610.6 731.4 1610.6 732.5 1610.6 733.4 1627 734.8 1629 736.1 1631.5 737 1555.2 738.1 1635.8 739.4 1631.6 740.3 1625.9 741 1626.1 741.8 1626.4 742.7 1610.6 743.5 1610.6 744.5 1630.9 745.4 1610.6 746.3 1610.6 747.5 1610.6 748.4 1582.9 749.3 1610.6 750.5 1633.5 751.8 1610.6 752.9 1610.6 753.9 1582.9 755.3 1610.6 756 1610.6 756.9 1625.3 757.8 1635.2 758.5 1627.5 759.5 1636.5 760.6 1610.6 761.6 1631.1 762.9 1630.2 764 1632 765.2 1610.6 766.1 1610.6 767.3 1610.6 767.9 1610.6 769.1 1632.3 770.1 1610.6 771.1 1610.6 772.1 1636.5 773.3 1610.6 774.6 1582.9 776 1555.2 777 1632.4 778 1625.4 778.7 1635.2 779.5 1610.6 780.9 1582.9 781.9 1610.6 783.3 1610.6 784.2 1610.6 785.5 1610.6 786.8 1610.6 788.2 1633.9 789 1610.6 789.7 1630.5 791 1610.6 791.9 1555.2 792.8 1610.6 794 1610.6 795 1625.1 796.3 1582.9 797.2 1610.6 798.5 1628.7 799.4 1610.6 800.6 1630.1 801.7 1610.6 802.8 1610.6 803.6 1627.2 804.4 1610.6 805.2 1610.6 806.4 1582.9 807.6 1555.2 808.6 1636.5 809.9 1628.1 810.8 1610.6 811.9 1610.6 812.8 1610.6 814.1 1610.6 815.3 1626.3 816.2 1634.1 817.1 1631 818.2 1582.9 819.5 1610.6 820.2 1634.8 821.6 1610.6 822.4 1610.6 823.1 1610.6 824.5 1610.6 825.2 1582.9 826.5 1582.9 827.3 1610.6 828.1 1610.6 829.4 1582.9 830.7 1631 831.8 1629.2 833 1626.8 833.7 1610.6 834.9 1610.6 836.1 1610.6 837.2 1610.6 838.5 1629.4 839.9 1527.6 840.9 1631.2 841.6 1582.9 842.8 1627 843.8 1610.6 845 1610.6 845.8 1610.6 846.6 1634.8 848 1624.7 849.2 1610.6 850.4 1610.6 851.8 1610.6 853 1636 853.8 1582.9 854.6 1633.9 855.3 1555.2 856.3 1630.1 857.2 1610.6 858.1 1582.9 858.8 1610.6 860 1632.3 860.8 1610.6 862.1 1625.2 863.4 1610.6 864.7 1610.6 866 1610.6 866.8 1637.7 867.5 1610.6 868.9 1610.6 869.9 1555.2 871.3 1630.4 872.7 1627.8 874 1582.9 875.2 1610.6 876.5 1635.9 877.8 1634.8 878.9 1610.6 879.6 1610.6 880.5 1582.9 881.1 1610.6 881.8 1627.7 882.9 1610.6 883.7 1628.6 884.6 1610.6 885.2 1637.3 886.4 1555.2 887.4 1610.6 888.5 1610.6 889.7 1582.9 890.7 1610.6 891.4 1582.9 892.2 1610.6 892.9 1610.6 893.8 1625.7 894.8 1633.2 896 1635 896.9 1582.9 897.9 1632.9 899.2 1632.3 900.1 1610.6 901.1 1610.6 901.9 1582.9 903.1 1626.5 904.5 1610.6 905.3 1610.6 905.9 1582.9 906.6 1610.6 907.4 1630.6 908.6 1631.9 909.6 1610.6 910.9 1628.3 912.2 1610.6 913 1627.2 914.2 1630.1 914.9 1610.6 916.1 1582.9 917.4 1636.7 918.4 1633.8 919.7 1627.7 920.7 1582.9 921.9 1610.6 922.9 1610.6 923.8 1625.8 924.8 1636.2 926.1 1610.6 926.9 1582.9 927.7 1626.9 928.7 1630.8 929.7 1582.9 931.1 1610.6 931.8 1610.6 932.6 1582.9 933.7 1610.6 934.9 1527.6 936.2 1610.6 937.6 1626.1 938.5 1634.4 939.5 1582.9 940.2 1625 940.9 1610.6 941.8 1634.5 942.5 1610.6 943.2 1555.2 944.4 1610.6 945.4 1610.6 946.5 1625.3 947.1 1631.9 948 1610.6 948.7 1610.6 949.9 1582.9 950.9 1630.4 951.9 1635.8 952.6 1582.9 954 1610.6 954.7 1610.6 955.6 1633.6 956.5 1627.5 957.6 1610.6 958.6 1610.6 959.7 1610.6 960.6 1636.9 961.8 1610.6 962.6 1624.8 963.3 1636.4 964.7 1555.2 965.8 1610.6 967 1582.9 968.4 1637.3 969.2 1610.6 970.2 1582.9 971.4 1610.6 972.1 1631.6 973.1 1610.6 974.4 1555.2 975 1637.8 975.9 1634 976.5 1610.6 977.5 1555.2 978.7 1636.8 979.6 1638.1 980.7 1582.9 981.9 1610.6 982.7 1582.9 983.6 1610.6 984.2 1555.2 985.5 1637 986.5 1610.6 987.5 1582.9 988.6 1630.9 989.7 1630.3 990.6 1582.9 991.4 1610.6 992.3 1610.6 993.4 1610.6 994.2 1610.6 995.3 1627.1 996 1582.9 996.9 1610.6 998.1 1610.6 999.2 1632 999.9 1631.1 1001 1626.6 1002.1 1628 1003.2 1610.6 1004.6 1629.1 1005.6 1610.6 1006.8 1610.6 1007.9 1582.9 1009.1 1610.6 1010.1 1610.6 1011.4 1610.6 1012.6 1582.9 1013.8 1630.7 1014.6 1610.6 1015.3 1582.9 1016.7 1633 1017.6 1582.9 1018.9 1610.6 1019.8 1582.9 1020.7 1610.6 1021.4 1610.6 1022.7 1625.1 1023.5 1610.6 1024.8 1610.6 1025.8 1610.6 1026.6 1610.6 1027.2 1582.9 1028.2 1610.6 1029.2 1527.6 1030.6 1582.9 1032 1610.6 1032.6 1582.9 1034 1610.6 1035.1 1610.6 1036.3 1610.6 1037.2 1582.9 1038.5 1610.6 1039.7 1610.6 1040.5 1633.6 1041.5 1610.6 1042.1 1582.9 1042.8 1610.6 1044.1 1582.9 1045 1610.6 1046.2 1610.6 1046.9 1555.2 1048.2 1610.6 1049.1 1610.6 1049.8 1631 1051.2 1610.6 1052.4 1610.6 1053.2 1610.6 1054.4 1630.2 1055.2 1582.9 1056.5 1627.3 1057.4 1631.5 1058.4 1630.3 1059.1 1582.9 1059.9 1627.8 1060.7 1610.6 1061.9 1629.1 1062.7 1610.6 1063.9 1628.2 1065.2 1610.6 1066 1628.6 1066.6 1555.2 1067.8 1582.9 1068.6 1610.6 1069.5 1631.8 1070.8 1631 1071.6 1632.9 1072.4 1610.6 1073.8 1610.6 1074.6 1628.2 1075.9 1638.1 1077.2 1631.8 1077.8 1610.6 1079.2 1610.6 1080 1610.6 1081.2 1610.6 1082.5 1610.6 1083.4 1629.2 1084.2 1610.6 1085.4 1610.6 1086.1 1610.6 1087.2 1555.2 1088.3 1610.6 1089.3 1610.6 1090.5 1610.6 1091.2 1610.6 1092.6 1527.6 1093.9 1629.8 1095.1 1625.3 1096.1 1633 1097.4 1555.2 1098.4 1632.8 1099.8 1582.9 1100.8 1610.6 1101.6 1610.6 1102.4 1610.6 1103.6 1582.9 1104.5 1610.6 1105.8 1610.6 1106.8 1610.6 1108 1610.6 1108.7 1582.9 1109.7 1632.3 1110.5 1626.2 1111.2 1627.3 1112.1 1610.6 1113 1629.9 1114.1 1610.6 1115 1610.6 1115.9 1610.6 1117.1 1555.2 1118 1610.6 1118.8 1625.4 1119.5 1610.6 1120.4 1499.9 1121.1 1625.2 1122.2 1627.9 1123.5 1582.9 1124.9 1637.2 1125.6 1627.1 1126.3 1610.6 1127.4 1610.6 1128.3 1610.6 1129.5 1582.9 1130.7 1610.6 1131.9 1637.3 1132.8 1610.6 1133.8 1610.6 1135.1 1637.2 1136.3 1555.2 1137.5 1636.8 1138.3 1631.8 1139.6 1631.4 1140.8 1582.9 1141.9 1636.4 1143.1 1624.8 1144.2 1628.2 1145.5 1610.6 1146.3 1636.7 1147.3 1610.6 1148.4 1582.9 1149.2 1628.2 1149.8 1636.6 1150.5 1628.9 1151.3 1635 1152.2 1626.2 1153.1 1610.6 1153.7 1610.6 1154.5 1635.9 1155.4 1631 1156 1610.6 1157.4 1636.9 1158.2 1582.9 1159.4 1610.6 1160.1 1610.6 1160.8 1610.6 1161.6 1636.8 1162.3 1635.2 1162.9 1635.2 1163.6 1610.6 1164.6 1630.9 1165.4 1610.6 1166.5 1610.6 1167.2 1630.2 1168.5 1638.1 1169.5 1610.6 1170.9 1610.6 1171.9 1610.6 1172.9 1582.9 1173.7 1610.6 1175 1634.2 1176.1 1625.6 1177 1634 1177.8 1527.6 1178.6 1610.6 1179.5 1555.2 1180.7 1625.3 1181.9 1610.6 1182.7 1610.6 1183.4 1582.9 1184.6 1634.5 1185.9 1610.6 1187.2 1610.6 1188.2 1636.1 1189.4 1625.1 1190.2 1582.9 1191 1610.6 1192 1610.6 1192.8 1610.6 1193.6 1610.6 1194.6 1582.9 1195.5 1610.6 1196.7 1635.8 1197.9 1625.8 1198.5 1633.6 1199.8 1630.8 1201 1625 1201.8 1631.9 1202.7 1636.7 1203.7 1610.6 1204.8 1610.6 1206.1 1634.2 1206.9 1634.9 1208 1610.6 1209.1 1610.6 1209.9 1610.6 1210.7 1555.2 1212.1 1635.5 1213.4 1610.6 1214.2 1630.7 1215.2 1582.9 1216 1610.6 1217.1 1610.6 1218.3 1610.6 1219.2 1610.6 1220.1 1637.1 1220.7 1630 1221.5 1610.6 1222.4 1610.6 1223.6 1610.6 1224.7 1610.6 1225.4 1628 1226.1 1610.6 1227 1636.6 1228.3 1610.6 1229.3 1610.6 1230.1 1610.6 1230.9 1633.2 1232.2 1582.9 1232.9 1610.6 1233.5 1582.9 1234.4 1527.6 1235.8 1610.6 1236.6 1610.6 1237.9 1610.6 1239.1 1610.6 1240 1610.6 1240.7 1635.6 1241.4 1610.6 1242.5 1582.9 1243.8 1630.2 1244.8 1629.8 1246.1 1630.9 1247 1582.9 1248.1 1631 1248.8 1637.7 1249.5 1610.6 1250.8 1629.8 1252.2 1627.3 1253.5 1555.2 1254.7 1631.4 1255.3 1628.6 1256.5 1630 1257.6 1582.9 1258.4 1630.4 1259.3 1582.9 1260.1 1610.6 1261.3 1626.6 1262.4 1582.9 1263.2 1628.3 1264.5 1636.6 1265.8 1610.6 1266.9 1610.6 1268 1610.6 1268.6 1638.1 1269.9 1582.9 1270.9 1630.8 1271.6 1635.4 1272.3 1632.4 1273.6 1610.6 1274.6 1624.8 1275.8 1610.6 1277.2 1610.6 1277.9 1610.6 1279.2 1582.9 1280 1626.1 1281 1626.8 1281.9 1610.6 1283 1555.2 1283.8 1610.6 1284.9 1582.9 1286 1628.2 1286.9 1627 1288.2 1610.6 1289.3 1610.6 1290 1610.6 1291.3 1631.7 1292.6 1610.6 1293.7 1634.1 1294.6 1610.6 1295.7 1629 1296.6 1582.9 1297.6 1610.6 1298.2 1582.9 1298.8 1610.6 1300.1 1624.9 1300.9 1582.9 1301.6 1626.3 1302.6 1610.6 1303.6 1610.6 1304.8 1632.5 1305.5 1626.8 1306.3 1638.1 1307.1 1610.6 1308.2 1626.9 1309.3 1633.3 1310.6 1634.2 1311.9 1582.9 1312.7 1610.6 1314 1610.6 1315.3 1631.4 1316.2 1635.2 1317.6 1625.9 1318.5 1610.6 1319.3 1630.8 1320 1632.7 1320.9 1610.6 1321.7 1610.6 1322.4 1610.6 1323.3 1610.6 1324.3 1610.6 1325.6 1610.6 1326.9 1610.6 1327.8 1610.6 1328.6 1630.2 1329.6 1610.6 1330.4 1555.2 1331.1 1610.6 1332.1 1610.6 1332.8 1582.9 1334.1 1610.6 1335 1629.7 1336.4 1555.2 1337.3 1634.1 1337.9 1610.6 1338.9 1634.8 1339.5 1610.6 1340.5 1610.6 1341.5 1610.6 1342.2 1632.4 1342.9 1582.9 1344 1527.6 1345.4 1610.6 1346.1 1610.6 1347.2 1610.6 1348.1 1610.6 1349.2 1610.6 1350.2 1635.7 1351 1610.6 1351.8 1527.6 1353.2 1636.2 1353.9 1633 1355.1 1630 1356.1 1625.2 1357.3 1610.6 1358.4 1610.6 1359.7 1610.6 1361.1 1582.9 1362 1626.6 1363.3 1610.6 1364.6 1636.7 1365.7 1610.6 1366.9 1610.6 1367.6 1610.6 1368.3 1610.6 1369.2 1555.2 1370.2 1633.2 1370.8 1610.6 1372 1631.4 1373.3 1610.6 1374.4 1638.1 1375.5 1635.7 1376.7 1582.9 1377.7 1628.4 1378.9 1638 1379.9 1610.6 1380.9 1610.6 1382 1555.2 1383.1 1637.2 1383.8 1610.6 1384.9 1610.6 1386 1631.1 1387.3 1582.9 1388.1 1628.7 1389.3 1610.6 1390.4 1635.9 1391.2 1638 1391.9 1582.9 1392.8 1610.6 1393.4 1629.6 1394.4 1610.6 1395.5 1637.5 1396.9 1627.2 1398.1 1629.1 1399.5 1610.6 1400.6 1555.2 1401.7 1610.6 1403 1633.4 1403.9 1582.9 1405.1 1610.6 1406.4 1632.6 1407.6 1610.6 1408.7 1629.8 1409.4 1625.7 1410.7 1582.9 1411.5 1629.3 1412.8 1582.9 1413.7 1624.5 1414.4 1610.6 1415.7 1610.6 1416.3 1624.6 1417.5 1610.6 1418.3 1610.6 1419.1 1636 1420.4 1634.9 1421 1610.6 1422.3 1610.6 1423 1610.6 1423 1638.2Z" class="dn"/>
<path d="M259 1499.91H271.0V1638.21H259" class="axl"/>
<text x="252.5" y="1503.5" text-anchor="end" class="ax">5</text>
<text x="252.5" y="1641.8" text-anchor="end" class="ax">0</text>
<text x="217.6" y="1575.3" text-anchor="end" class="lb" textLength="144.5" lengthAdjust="spacingAndGlyphs">GSM2481682</text>
<path d="M289.5 1792.1L289.5 1792.1 307.9 1745.8 398.3 1792.1 487.4 1745.8 881 1792.1 1272.2 1745.8 1347 1792.1 1420.9 1699.6 1421.2 1653.8 1421.6 1699.6 1422.6 1792.1 1422.6 1792.1Z" class="dp"/>
<path d="M259 1653.85H271.0V1792.15H259" class="axl"/>
<text x="252.5" y="1657.4" text-anchor="end" class="ax">206</text>
<text x="252.5" y="1795.7" text-anchor="end" class="ax">0</text>
<text x="217.6" y="1729.2" text-anchor="end" class="lb" textLength="144.5" lengthAdjust="spacingAndGlyphs">GSM2481681</text>
<path d="M364.3 1946.1L364.3 1946.1 457.5 1876.9 486.1 1946.1 514.7 1876.9 515.5 1946.1 517.4 1876.9 529 1946.1 539.1 1876.9 739.1 1946.1 937.7 1876.9 938.5 1946.1 939.3 1876.9 944.9 1946.1 950.6 1876.9 957.2 1946.1 964.3 1876.9 982.6 1946.1 1000.1 1876.9 1081.7 1946.1 1162.7 1876.9 1166.1 1946.1 1170 1876.9 1236.1 1946.1 1303.5 1876.9 1350.4 1946.1 1396.7 1807.8 1410.3 1946.1 1410.3 1946.1Z" class="dp"/>
<path d="M259 1807.79H271.0V1946.09H259" class="axl"/>
<text x="252.5" y="1811.4" text-anchor="end" class="ax">79</text>
<text x="252.5" y="1949.7" text-anchor="end" class="ax">0</text>
<text x="217.6" y="1883.2" text-anchor="end" class="lb" textLength="144.5" lengthAdjust="spacingAndGlyphs">GSM2481680</text>
<path d="M273.2 2100L273.2 2100 275.2 2030.9 285.9 2100 296.1 2030.9 296.4 1961.7 296.7 2030.9 298.6 2100 301.3 2030.9 320.1 2100 339.1 2030.9 350.5 2100 361.4 2030.9 363.6 2100 365.9 2030.9 370 2100 374.1 2030.9 386.8 2100 399 2030.9 399.4 1961.7 399.8 2030.9 402.2 2100 404.9 2030.9 450.7 2100 496.3 2030.9 535.7 2100 576.1 2030.9 585.6 2100 595.2 2030.9 619.2 2100 643.6 2030.9 702.1 2100 760.6 2030.9 795.6 2100 831.4 2030.9 855 2100 879 2030.9 916.2 2100 954.7 1961.7 977.9 2100 1001.9 2030.9 1040 2100 1078.5 2030.9 1145.6 2100 1212.8 2030.9 1242.2 2100 1271.7 2030.9 1276.3 2100 1281.7 2030.9 1321.6 2100 1362.4 2030.9 1375.6 2100 1388.3 2030.9 1399.6 2100 1404.1 2030.9 1411 1961.7 1417.8 2100 1417.8 2100Z" class="dp"/>
<path d="M259 1961.72H271.0V2100.02H259" class="axl"/>
<text x="252.5" y="1965.3" text-anchor="end" class="ax">74</text>
<text x="252.5" y="2103.6" text-anchor="end" class="ax">0</text>
<text x="217.6" y="2037.1" text-anchor="end" class="lb" textLength="144.5" lengthAdjust="spacingAndGlyphs">GSM2481679</text>
<path d="M288.6 2254L288.6 2254 307.6 2184.8 336.2 2254 365.5 2184.8 365.7 2115.7 365.9 2184.8 388.4 2254 410.1 2184.8 438.7 2254 467.3 2184.8 486.3 2254 504 2184.8 510.3 2254 515.8 2184.8 555.2 2254 595.2 2184.8 598.3 2254 601.1 2184.8 619.5 2254 638.4 2115.7 639.5 2254 641.1 2115.7 642.7 2254 644.5 2184.8 646.3 2219.4 647.4 2184.8 663.5 2254 679.6 2184.8 688.4 2254 697.3 2184.8 697.5 2115.7 697.7 2184.8 707.2 2254 717.4 2184.8 726.5 2254 734.4 2184.8 740.8 2254 747.3 2184.8 757.1 2254 766 2184.8 766.2 2115.7 766.4 2184.8 769.6 2240.1 773 2184.8 791.1 2254 808.6 2184.8 813.8 2240.1 817.9 2184.8 818.8 2205.5 821.3 2184.8 821.5 2115.7 821.7 2184.8 835.8 2254 849.4 2115.7 851 2198.6 852.6 2184.8 853.9 2115.7 854.2 2184.8 863.7 2254 873 2184.8 879.5 2254 887 2184.8 887.1 2115.7 887.2 2184.8 898.3 2254 909.7 2184.8 916.5 2254 923.5 2184.8 930.5 2254 936.9 2184.8 942.6 2254 947.6 2184.8 951.6 2254 955.5 2184.8 972.5 2254 989.5 2184.8 1013.3 2254 1037.8 2184.8 1054 2254 1070.4 2184.8 1094.4 2254 1116.2 2184.8 1117.1 2115.7 1135.2 2254 1153.4 2184.8 1186.5 2254 1219.6 2184.8 1222.7 2254 1225.9 2184.8 1273.5 2254 1321 2184.8 1321.2 2115.7 1321.4 2184.8 1327 2254 1331.6 2184.8 1338.4 2254 1346.1 2184.8 1347.4 2212.5 1348.8 2184.8 1370.1 2254 1391.9 2184.8 1405.5 2254 1418.7 2184.8 1420.9 2240.1 1423.6 2184.8 1424 2254 1424 2254Z" class="dp"/>
<path d="M259 2115.65H271.0V2253.95H259" class="axl"/>
<text x="252.5" y="2119.3" text-anchor="end" class="ax">58</text>
<text x="252.5" y="2257.6" text-anchor="end" class="ax">0</text>
<text x="217.6" y="2191.1" text-anchor="end" class="lb" textLength="144.5" lengthAdjust="spacingAndGlyphs">GSM2481678</text>
<path d="M271.6 2407.9L271.6 2377.2 272.7 2405.8 273.5 2392.5 274.7 2377.2 275.4 2392.5 276.2 2403 276.9 2406.6 278 2405.3 278.7 2404.8 280.1 2377.2 281.2 2392.5 282.3 2392.5 283.6 2361.8 284.6 2377.2 285.6 2392.5 286.4 2377.2 287.1 2392.5 288.1 2403.8 289.1 2392.5 289.7 2392.5 291 2407.4 291.7 2392.5 292.9 2404.6 293.8 2405.9 294.6 2392.5 295.4 2392.5 296.3 2403.4 297.1 2392.5 297.7 2392.5 298.5 2405.9 299.3 2331.1 300.5 2392.5 301.9 2404 303.2 2377.2 304.2 2405.5 305.5 2377.2 306.5 2392.5 307.2 2392.5 307.9 2392.5 308.9 2377.2 309.7 2392.5 310.4 2392.5 311.6 2392.5 312.4 2392.5 313.3 2402.8 314.3 2404.8 315.1 2401.3 315.8 2403.7 316.5 2377.2 317.8 2361.8 318.4 2392.5 319.3 2392.5 320.3 2404.1 321.3 2406 322.4 2377.2 323.2 2400.8 324.6 2392.5 325.4 2407.7 326.1 2402.5 327.5 2404.5 328.8 2404.5 329.9 2269.6 331.3 2392.5 331.9 2404.2 332.8 2392.5 333.6 2377.2 334.4 2392.5 335 2402.6 336.1 2392.5 337.3 2377.2 338.1 2392.5 339 2392.5 340.2 2392.5 341.5 2392.5 342.6 2377.2 343.4 2403.8 344.1 2404.2 345.2 2406.5 346.5 2404 347.1 2403.4 348.4 2392.5 349.5 2392.5 350.8 2392.5 352.1 2404.6 352.7 2406.6 353.4 2377.2 354.2 2392.5 354.9 2404.5 356.1 2361.8 357.4 2392.5 358.1 2377.2 359 2392.5 360.3 2377.2 361 2407.2 362 2407.1 363 2392.5 364.1 2405.1 365.5 2392.5 366.8 2403 367.5 2392.5 368.4 2392.5 369.4 2400.8 370.7 2377.2 371.7 2392.5 373 2400.6 373.7 2392.5 374.6 2392.5 375.3 2407 376.1 2392.5 376.9 2392.5 378.1 2361.8 379.4 2392.5 380.8 2377.2 382 2392.5 383 2404.4 383.8 2401.1 384.8 2377.2 386.2 2404 387.5 2392.5 388.1 2405.4 389 2392.5 390.3 2392.5 391.1 2404.5 392 2392.5 393 2377.2 393.8 2392.5 395 2404.2 396.4 2346.4 397.3 2404.3 398.5 2392.5 399.7 2392.5 400.9 2400.6 402 2407.5 402.9 2361.8 404.2 2392.5 405.6 2392.5 406.6 2377.2 407.3 2392.5 408.1 2377.2 408.9 2392.5 410.2 2392.5 410.8 2407.7 411.5 2392.5 412.6 2392.5 413.2 2401.5 414.4 2377.2 415.7 2404.7 417 2404 418.2 2392.5 418.9 2405.3 419.6 2392.5 420.9 2404.6 422 2405.1 423.4 2407.7 424 2407.3 425.2 2403.2 426.1 2392.5 426.8 2403.8 427.7 2377.2 428.9 2392.5 430 2400.2 431 2377.2 432.3 2392.5 433.6 2392.5 435 2392.5 435.8 2406.2 436.5 2377.2 437.3 2392.5 438.3 2392.5 439.6 2405.9 440.6 2404.3 441.8 2402.9 443.1 2392.5 443.8 2392.5 444.9 2392.5 445.8 2406.3 447 2361.8 448.3 2392.5 449.2 2392.5 450 2392.5 451 2401.2 452.4 2405.1 453.5 2404.8 454.9 2406.5 456.1 2392.5 457.2 2392.5 458.6 2392.5 459.3 2392.5 460.6 2377.2 461.7 2401.4 462.4 2392.5 463.2 2403.5 464.3 2392.5 465.7 2392.5 466.7 2392.5 467.4 2406.3 468.4 2392.5 469.4 2401.9 470.4 2392.5 471.4 2407.3 472.1 2392.5 472.8 2392.5 474 2404.3 475.4 2406.2 476.1 2392.5 476.8 2405.6 478.1 2407.5 478.8 2404.5 479.4 2407.4 480.8 2392.5 481.6 2377.2 483 2407.3 484.1 2346.4 484.7 2392.5 485.3 2401.7 486.2 2392.5 487.3 2392.5 488.6 2392.5 489.3 2377.2 490 2403.5 490.6 2406.1 491.7 2331.1 493 2392.5 493.7 2377.2 494.5 2392.5 495.7 2377.2 497 2331.1 498.3 2392.5 499.6 2406.1 500.9 2401.5 501.7 2392.5 502.7 2377.2 503.4 2392.5 504.1 2403.9 504.8 2392.5 505.7 2392.5 506.8 2402.1 507.5 2407.3 508.8 2407.1 509.4 2392.5 510.5 2377.2 511.6 2392.5 512.3 2406.1 513.5 2392.5 514.3 2392.5 515.5 2407.1 516.8 2361.8 517.5 2392.5 518.4 2392.5 519.7 2392.5 520.3 2407.4 521.6 2392.5 522.6 2392.5 523.6 2392.5 524.6 2402.9 525.3 2392.5 526.1 2401.8 527.1 2392.5 528.3 2402.7 529.1 2361.8 529.8 2402.4 530.7 2404.3 531.6 2392.5 532.3 2392.5 533.1 2377.2 534.5 2401.6 535.7 2392.5 537.1 2377.2 537.8 2392.5 539.1 2402 540.2 2392.5 541.3 2392.5 542.5 2406.9 543.9 2377.2 545 2392.5 546.3 2401.4 547 2392.5 547.9 2392.5 549.1 2405.6 549.8 2331.1 550.6 2392.5 551.3 2392.5 552.3 2392.5 553.7 2392.5 554.5 2377.2 555.1 2392.5 556.1 2392.5 557 2406.2 558 2407.1 559.4 2404 560.5 2269.6 561.4 2285 562.2 2377.2 563.4 2392.5 564.1 2392.5 564.8 2403.2 566.2 2377.2 567.4 2392.5 568.2 2377.2 569 2377.2 570 2392.5 571.1 2400.8 572.2 2402.7 573.6 2402.2 574.8 2392.5 576.2 2405.3 577.5 2402.2 578.5 2392.5 579.4 2392.5 580.2 2392.5 581.3 2405.4 582.2 2402.6 583.3 2392.5 584.6 2392.5 585.7 2402.5 586.7 2402.4 587.7 2392.5 589 2402.2 589.9 2405.5 591 2392.5 591.7 2400.4 592.5 2377.2 593.4 2400.2 594.3 2392.5 595.4 2392.5 596.4 2404.5 597.5 2392.5 598.1 2392.5 598.8 2407.7 599.8 2407.8 601.2 2403.1 602.2 2392.5 603.4 2406.4 604.3 2377.2 604.9 2392.5 606.1 2361.8 607.4 2405.6 608 2402.3 608.9 2392.5 610.3 2392.5 611.6 2405.4 612.6 2392.5 613.9 2392.5 614.8 2377.2 616.1 2404 617.2 2400.8 617.8 2400.5 618.9 2405.6 619.6 2377.2 620.3 2392.5 621.3 2392.5 622.1 2392.5 623.4 2406.7 624.6 2405.5 625.8 2404.1 626.8 2402.8 627.9 2392.5 629.2 2392.5 630.4 2405 631.5 2392.5 632.2 2392.5 632.8 2377.2 634.1 2407 635.3 2392.5 636.2 2392.5 637.4 2392.5 638.6 2407.1 639.6 2361.8 640.4 2392.5 641.6 2392.5 642.6 2392.5 643.3 2401.7 644 2392.5 644.6 2407.1 645.6 2402.4 646.3 2377.2 647.5 2392.5 648.3 2392.5 649.2 2392.5 650.1 2403.1 651.2 2392.5 651.9 2392.5 653.1 2377.2 653.9 2392.5 654.6 2402.9 655.6 2402.9 656.5 2392.5 657.8 2400.6 658.4 2407 659.8 2392.5 660.7 2403.1 661.5 2361.8 662.5 2392.5 663.2 2392.5 664 2377.2 665 2377.2 665.8 2392.5 666.6 2392.5 667.8 2392.5 668.6 2361.8 669.8 2404.8 670.7 2402.4 671.5 2403 672.2 2392.5 672.8 2406.5 673.6 2392.5 674.9 2392.5 675.7 2407.6 676.7 2392.5 678 2377.2 678.7 2392.5 679.5 2392.5 680.3 2377.2 681.6 2392.5 682.9 2403.5 683.7 2392.5 684.5 2377.2 685.3 2392.5 686.4 2405.1 687.3 2404.2 688.4 2392.5 689.6 2404.1 690.9 2377.2 691.8 2392.5 692.9 2407.3 693.7 2404.6 694.5 2404.6 695.5 2407.1 696.7 2406.8 697.7 2401.5 699 2407.4 700.2 2392.5 701.5 2392.5 702.8 2406.1 704.2 2392.5 705.1 2392.5 706.4 2392.5 707.1 2392.5 708.5 2377.2 709.8 2377.2 710.9 2404.4 711.6 2392.5 712.3 2377.2 713.7 2361.8 714.7 2402.7 715.9 2404.2 716.7 2392.5 717.9 2392.5 719.3 2392.5 720 2392.5 721.1 2392.5 722.1 2392.5 723.2 2392.5 724.3 2377.2 725 2400.5 726.4 2404.8 727.1 2377.2 728.3 2377.2 729.4 2392.5 730.7 2377.2 731.7 2392.5 732.4 2392.5 733.8 2392.5 734.8 2392.5 735.4 2392.5 736.7 2377.2 737.4 2401.5 738.4 2392.5 739.6 2377.2 740.3 2403 741.6 2403.4 742.4 2404.4 743 2392.5 744.3 2392.5 745.1 2377.2 746.1 2392.5 747.3 2405.4 748.3 2361.8 749.4 2392.5 750.7 2392.5 751.7 2403.2 752.5 2392.5 753.5 2392.5 754.3 2392.5 755 2377.2 755.7 2403.6 756.6 2377.2 757.4 2392.5 758.3 2401.3 759.3 2392.5 760.5 2392.5 761.2 2400.7 762.2 2400.4 762.8 2377.2 763.6 2392.5 764.9 2406.9 766 2400.9 767.4 2331.1 768.5 2392.5 769.2 2407.5 769.9 2403.4 770.5 2377.2 771.7 2401.8 773 2392.5 773.7 2404.2 774.8 2377.2 775.6 2402 776.2 2403 777.1 2361.8 777.9 2401.1 779 2392.5 780.1 2392.5 781.1 2392.5 782 2403.2 783.2 2377.2 784 2392.5 785.4 2403.3 786.2 2392.5 787.4 2400.6 788.6 2404.9 789.7 2403.4 790.4 2346.4 791.7 2377.2 793 2406.7 793.8 2400.4 794.9 2377.2 796.1 2402.3 796.8 2406.9 797.8 2377.2 798.5 2392.5 799.5 2407.5 800.4 2403.6 801.1 2392.5 802.3 2392.5 803.3 2346.4 804 2377.2 804.8 2392.5 806 2400.7 806.7 2392.5 807.9 2377.2 808.6 2392.5 809.5 2392.5 810.5 2392.5 811.3 2392.5 812.1 2403.6 813.4 2392.5 814.5 2392.5 815.1 2377.2 815.7 2401.1 816.6 2401.5 817.4 2405 818 2392.5 819 2377.2 820.2 2392.5 821.5 2401 822.6 2361.8 823.6 2401.2 824.5 2405.4 825.5 2392.5 826.4 2405.4 827.1 2401.4 827.9 2392.5 829.2 2405.4 830.5 2392.5 831.8 2400.5 832.6 2403.8 833.8 2406.2 834.8 2392.5 836 2377.2 837.3 2361.8 837.9 2392.5 839.1 2377.2 839.8 2403.4 841.1 2403.1 842.4 2392.5 843.7 2392.5 844.6 2392.5 845.4 2407.2 846.6 2406.9 847.3 2392.5 848.5 2361.8 849.6 2392.5 850.7 2406.8 851.7 2405 852.3 2377.2 853.5 2405.3 854.4 2404.8 855.8 2404.6 857 2392.5 858.1 2361.8 859 2407 860.3 2405.2 861.3 2392.5 862.5 2392.5 863.4 2377.2 864.5 2404.4 865.9 2392.5 867.1 2407.8 867.8 2392.5 868.5 2346.4 869.5 2377.2 870.7 2392.5 871.5 2392.5 872.7 2346.4 873.6 2405.4 874.6 2377.2 875.6 2406.6 876.4 2401.6 877 2392.5 878.1 2404.1 879 2392.5 880.2 2405.4 881.4 2392.5 882.3 2404 883.2 2406.3 883.9 2404.5 885.1 2377.2 886.1 2392.5 886.7 2377.2 887.3 2392.5 888.1 2405.6 889.2 2392.5 889.9 2377.2 890.7 2392.5 892 2377.2 893.3 2404.5 894.4 2361.8 895.1 2403 895.9 2377.2 897.2 2392.5 898.6 2331.1 899.6 2392.5 900.5 2377.2 901.8 2392.5 902.9 2400.5 903.9 2392.5 905 2392.5 905.9 2392.5 907.2 2377.2 908.2 2392.5 909.3 2392.5 910.1 2402.8 911.4 2406.2 912.1 2403.9 913.1 2392.5 914 2392.5 915.1 2392.5 916 2392.5 917.1 2405.3 918 2392.5 919.1 2392.5 920.2 2377.2 921.3 2392.5 922 2392.5 923.1 2392.5 923.7 2405.5 924.8 2392.5 925.7 2377.2 926.6 2392.5 927.5 2392.5 928.4 2392.5 929.1 2377.2 930.3 2392.5 931.1 2405.2 932.1 2406.4 932.9 2407.7 934.1 2392.5 934.9 2392.5 936.3 2392.5 937.4 2401.6 938.4 2392.5 939.7 2392.5 940.6 2377.2 941.4 2403.3 942 2404.2 942.9 2403.2 944.2 2377.2 945.5 2377.2 946.3 2377.2 947.3 2377.2 948.4 2403.6 949.7 2401.6 950.6 2401.1 951.6 2405.8 952.8 2392.5 954 2392.5 955 2377.2 955.6 2406.2 956.8 2361.8 957.5 2406.5 958.4 2400.6 959.4 2405.2 960.1 2377.2 960.8 2392.5 962 2392.5 963.1 2377.2 964.1 2392.5 965.1 2405.4 965.7 2392.5 966.7 2392.5 968.1 2392.5 969.1 2392.5 969.9 2377.2 970.9 2392.5 971.9 2392.5 972.9 2400.7 973.6 2392.5 974.7 2402.4 975.8 2392.5 976.5 2402.3 977.3 2377.2 978.3 2404.1 979.1 2377.2 980.1 2361.8 981.4 2406.9 982.7 2377.2 983.9 2392.5 984.7 2377.2 986 2392.5 986.9 2400.8 988.3 2400.8 989.1 2392.5 989.9 2377.2 990.9 2377.2 992 2392.5 992.9 2405.2 993.8 2401.3 994.8 2392.5 995.8 2392.5 997.2 2392.5 998.4 2377.2 999.8 2392.5 1000.9 2402 1002.2 2392.5 1003.1 2377.2 1004.2 2404.9 1005.1 2377.2 1006.2 2377.2 1007.2 2392.5 1007.9 2392.5 1009.1 2404 1009.9 2404.9 1010.9 2377.2 1012.3 2377.2 1013.7 2377.2 1014.9 2403.4 1015.8 2377.2 1016.7 2377.2 1017.4 2392.5 1018.3 2392.5 1019 2403.5 1020.3 2361.8 1021.6 2404 1022.7 2392.5 1023.4 2401 1024.7 2406.9 1025.7 2377.2 1027 2392.5 1027.9 2377.2 1029.1 2377.2 1030.1 2392.5 1031 2392.5 1031.7 2392.5 1032.6 2392.5 1033.7 2400.2 1034.3 2346.4 1035.4 2392.5 1036.6 2392.5 1037.3 2392.5 1038.4 2392.5 1039.7 2361.8 1040.9 2392.5 1041.8 2392.5 1042.4 2403.2 1043.1 2392.5 1044.3 2392.5 1045.1 2392.5 1046 2392.5 1046.9 2377.2 1048.1 2392.5 1049.3 2407.2 1050.6 2392.5 1051.6 2392.5 1052.8 2377.2 1053.9 2392.5 1054.9 2392.5 1055.6 2392.5 1056.7 2401.3 1057.7 2392.5 1058.8 2392.5 1060.2 2392.5 1061.4 2406.3 1062.6 2392.5 1063.7 2346.4 1064.4 2403.2 1065.8 2392.5 1066.9 2377.2 1067.6 2392.5 1068.5 2392.5 1069.6 2377.2 1070.7 2392.5 1071.4 2377.2 1072.8 2401 1073.8 2361.8 1074.4 2392.5 1075.7 2392.5 1076.6 2403.9 1077.9 2377.2 1079.2 2392.5 1080 2392.5 1081.2 2401.5 1082.1 2400.4 1082.7 2361.8 1084.1 2405.4 1085.5 2404.6 1086.5 2377.2 1087.4 2392.5 1088.3 2392.5 1089.7 2392.5 1090.4 2406 1091.2 2392.5 1092.1 2377.2 1092.8 2392.5 1093.6 2401 1094.3 2392.5 1095.5 2405.6 1096.5 2407.6 1097.5 2377.2 1098.1 2392.5 1099.2 2406 1100.2 2392.5 1101.4 2401.2 1102.7 2392.5 1103.7 2331.1 1104.5 2406.3 1105.8 2392.5 1106.5 2392.5 1107.3 2392.5 1108.4 2407.4 1109 2392.5 1110.3 2392.5 1111.3 2400.4 1112.5 2392.5 1113.8 2377.2 1115.1 2392.5 1115.9 2392.5 1116.6 2402.7 1117.3 2392.5 1118.5 2403.1 1119.1 2392.5 1120.3 2392.5 1121.3 2401.4 1122.4 2377.2 1123.3 2392.5 1124.6 2392.5 1125.8 2405.4 1126.5 2406.7 1127.2 2361.8 1128.5 2392.5 1129.8 2377.2 1130.8 2392.5 1131.9 2402.8 1133.1 2401.4 1134.2 2392.5 1135.4 2392.5 1136.8 2400.4 1138 2402.1 1138.8 2377.2 1139.9 2400.8 1141.2 2361.8 1141.8 2392.5 1142.9 2403.5 1143.8 2404.8 1144.5 2401.9 1145.7 2392.5 1146.8 2377.2 1147.7 2392.5 1148.4 2404.9 1149.7 2392.5 1150.4 2400.6 1151 2402 1152.3 2392.5 1153.6 2403.2 1154.7 2406.4 1155.9 2404.7 1156.9 2400.3 1157.6 2401.7 1158.7 2404.4 1159.7 2361.8 1161 2392.5 1162.2 2392.5 1163.5 2392.5 1164.2 2392.5 1165.6 2402.2 1166.5 2406.1 1167.7 2377.2 1168.5 2392.5 1169.8 2401 1170.9 2315.7 1171.9 2406.8 1173.1 2401.3 1174.2 2392.5 1175.3 2392.5 1176.2 2392.5 1177 2405.4 1178.3 2377.2 1179.3 2392.5 1180 2400.3 1180.7 2402.7 1181.9 2392.5 1182.6 2404.5 1183.7 2392.5 1184.9 2377.2 1185.8 2392.5 1186.4 2392.5 1187.1 2392.5 1187.8 2377.2 1188.7 2404.4 1189.8 2397.4 1190.9 2402.7 1191.7 2403.2 1192.3 2405.1 1193 2407.2 1194 2405.4 1195.1 2402.5 1196.4 2405.4 1197.6 2405.2 1198.9 2403.1 1200.1 2402.8 1201.2 2392.5 1202.3 2392.5 1202.9 2406.1 1203.7 2405.2 1205 2315.7 1205.8 2392.5 1206.6 2402.6 1207.8 2377.2 1208.7 2406.3 1209.9 2361.8 1210.7 2377.2 1211.7 2392.5 1213.1 2377.2 1214.2 2392.5 1215.4 2377.2 1216.1 2392.5 1216.9 2377.2 1218.2 2400.8 1219.2 2392.5 1220.1 2404.1 1221.3 2392.5 1222.1 2392.5 1223.4 2392.5 1224.8 2392.5 1225.4 2377.2 1226.8 2392.5 1227.4 2404.6 1228.5 2392.5 1229.8 2392.5 1231 2392.5 1231.9 2392.5 1233.1 2361.8 1234.3 2402.4 1235.5 2377.2 1236.8 2405.1 1237.7 2407.6 1238.5 2377.2 1239.6 2401.3 1241 2392.5 1241.6 2377.2 1242.4 2392.5 1243.2 2377.2 1244.1 2392.5 1244.8 2406.3 1246 2361.8 1247.2 2392.5 1247.8 2406.4 1248.7 2406.6 1249.9 2377.2 1251.2 2392.5 1252.1 2404.5 1252.8 2361.8 1254.1 2377.2 1255.2 2392.5 1256 2406.6 1257 2377.2 1258.1 2407.8 1259.3 2377.2 1260.2 2392.5 1261.4 2392.5 1262.1 2392.5 1263.2 2404.9 1264 2392.5 1265.4 2392.5 1266.3 2346.4 1267.2 2392.5 1267.8 2405.6 1269 2405 1270 2405.6 1271.3 2404.3 1272 2392.5 1272.8 2392.5 1273.8 2406.9 1274.6 2406.3 1275.9 2392.5 1276.8 2392.5 1277.9 2392.5 1278.9 2392.5 1279.6 2377.2 1280.6 2392.5 1281.4 2392.5 1282.5 2404.7 1283.6 2377.2 1284.4 2403.8 1285.4 2403.8 1286.1 2402.8 1286.7 2407.4 1288.1 2407 1289.2 2315.7 1290.6 2404.4 1291.3 2404.6 1292.1 2405.3 1293.5 2404.1 1294.3 2392.5 1295.4 2377.2 1296.2 2392.5 1297.3 2392.5 1298.4 2392.5 1299.4 2377.2 1300.1 2392.5 1301.3 2392.5 1302.1 2377.2 1303.4 2404.9 1304.6 2392.5 1305.7 2402.8 1306.3 2405.6 1307.3 2404.4 1308.1 2407.4 1309.1 2401.6 1310.3 2392.5 1311.4 2392.5 1312.6 2403 1313.7 2377.2 1314.9 2392.5 1315.8 2392.5 1316.5 2405.4 1317.3 2361.8 1318.5 2404.3 1319.6 2404.9 1320.8 2392.5 1321.9 2392.5 1323.1 2392.5 1324 2392.5 1325.2 2392.5 1326.3 2361.8 1327.3 2401.8 1328 2392.5 1329.4 2407.3 1330.2 2377.2 1331 2401.6 1331.7 2406.7 1332.5 2405.1 1333.5 2401.4 1334.3 2377.2 1335.1 2404.6 1336.2 2406.1 1337.1 2361.8 1338.4 2403.5 1339.1 2377.2 1339.9 2392.5 1340.7 2377.2 1342 2392.5 1342.8 2392.5 1343.9 2392.5 1345.3 2392.5 1346.4 2392.5 1347.1 2404.4 1348.4 2400.6 1349.6 2392.5 1350.7 2392.5 1351.5 2392.5 1352.8 2392.5 1354 2377.2 1354.9 2392.5 1355.9 2377.2 1356.8 2404.5 1357.5 2402.9 1358.8 2361.8 1359.7 2403.9 1360.8 2392.5 1361.5 2400.6 1362.8 2392.5 1363.8 2315.7 1364.7 2392.5 1366 2377.2 1367.3 2346.4 1368.5 2405.6 1369.5 2392.5 1370.2 2392.5 1371 2407.3 1372.4 2407.1 1373 2392.5 1373.6 2392.5 1374.3 2402.8 1374.9 2377.2 1376.1 2403.5 1377.2 2377.2 1378.1 2400.7 1379.2 2361.8 1379.9 2401.7 1380.7 2377.2 1381.6 2392.5 1382.9 2392.5 1383.7 2392.5 1385 2392.5 1386 2392.5 1386.9 2377.2 1387.9 2403.8 1388.5 2331.1 1389.8 2392.5 1391.1 2377.2 1392.1 2392.5 1393.3 2392.5 1394 2405.5 1395.3 2377.2 1396.4 2403.4 1397.1 2377.2 1398 2392.5 1399.3 2392.5 1400 2405.5 1401.2 2406 1402.3 2401.7 1403.3 2404 1404.1 2401.6 1404.9 2407.4 1406.3 2407.7 1407.2 2392.5 1407.8 2392.5 1409.2 2377.2 1410.1 2400.2 1411 2331.1 1412 2392.5 1412.7 2377.2 1413.9 2403.1 1414.6 2404.6 1415.8 2377.2 1417.1 2403.8 1417.7 2405.3 1418.7 2392.5 1419.4 2402.8 1420.4 2401 1421.5 2392.5 1422.2 2407.8 1423 2392.5 1423 2407.9Z" class="dn"/>
<path d="M259 2269.59H271.0V2407.89H259" class="axl"/>
<text x="252.5" y="2273.2" text-anchor="end" class="ax">7</text>
<text x="252.5" y="2411.5" text-anchor="end" class="ax">0</text>
<text x="217.6" y="2345.0" text-anchor="end" class="lb" textLength="144.5" lengthAdjust="spacingAndGlyphs">GSM2481677</text>
<path d="M638.5 2561.8L638.5 2561.8 1007 2492.7 1007.2 2423.5 1159.8 2561.8 1312.1 2492.7 1313.2 2423.5 1368.3 2561.8 1368.3 2561.8Z" class="dp"/>
<path d="M259 2423.53H271.0V2561.83H259" class="axl"/>
<text x="252.5" y="2427.1" text-anchor="end" class="ax">348</text>
<text x="252.5" y="2565.4" text-anchor="end" class="ax">0</text>
<text x="217.6" y="2498.9" text-anchor="end" class="lb" textLength="144.5" lengthAdjust="spacingAndGlyphs">GSM2481676</text>
<path d="M271.6 2715.8L271.6 2688.1 272.5 2688.1 273.7 2688.1 274.3 2688.1 275 2632.8 276.2 2660.4 277.5 2715.4 278.4 2688.1 279.3 2660.4 280.2 2688.1 281.5 2688.1 282.9 2704.8 283.9 2688.1 284.9 2688.1 286.1 2660.4 287.1 2709.2 288.3 2688.1 288.9 2688.1 289.8 2632.8 291 2688.1 292 2704.9 293.1 2688.1 293.8 2688.1 294.9 2714.2 296 2713.6 297.1 2688.1 298.1 2714.3 298.9 2688.1 300 2688.1 300.7 2688.1 302 2688.1 302.8 2688.1 303.5 2660.4 304.3 2703.6 305.2 2688.1 306.5 2712.9 307.4 2711.5 308.3 2714.7 309.6 2688.1 310.6 2688.1 311.6 2688.1 312.8 2711.4 313.7 2715 314.6 2710.2 315.5 2688.1 316.6 2688.1 317.7 2660.4 318.3 2688.1 319.7 2712.7 320.7 2706.6 321.8 2708.7 322.9 2688.1 324 2688.1 325.2 2714.3 325.8 2702 327 2688.1 328.1 2714.1 329.5 2688.1 330.2 2688.1 330.8 2688.1 332.1 2710 333.3 2703.8 334.2 2710.5 335 2688.1 335.7 2660.4 336.6 2707.6 337.6 2688.1 339 2688.1 339.9 2713.5 340.5 2710.2 341.8 2713.8 343.2 2713.1 344.3 2710.1 345.5 2703.3 346.5 2711.4 347.6 2688.1 348.6 2688.1 349.5 2688.1 350.9 2688.1 351.7 2709.6 352.9 2704.5 354.2 2688.1 355.6 2715.5 356.2 2660.4 357.2 2712.7 358.6 2688.1 359.2 2660.4 360.6 2710.1 361.8 2702.4 363.1 2688.1 364 2660.4 364.8 2688.1 365.4 2688.1 366.1 2712 366.8 2688.1 367.4 2688.1 368.1 2688.1 369.5 2688.1 370.3 2688.1 371.6 2713.7 372.7 2705.3 373.8 2712.1 375.2 2711.1 376.4 2688.1 377.4 2688.1 378 2710.1 378.9 2688.1 380 2688.1 380.8 2660.4 381.8 2688.1 382.7 2688.1 383.5 2688.1 384.8 2704.4 385.6 2688.1 386.4 2707.4 387.5 2707.6 388.8 2660.4 389.6 2660.4 390.4 2688.1 391.1 2688.1 391.9 2714.1 392.5 2707 393.3 2660.4 394.7 2688.1 395.3 2688.1 396.2 2688.1 397.6 2703.5 398.7 2714.5 399.4 2660.4 400.4 2713 401.2 2707.5 402.2 2688.1 402.9 2704.7 404.1 2704.6 404.9 2715 405.6 2706.5 406.3 2715.3 407.2 2688.1 408.4 2688.1 409.8 2688.1 410.6 2688.1 411.4 2688.1 412.4 2688.1 413.8 2709.7 415 2688.1 415.6 2688.1 416.3 2688.1 417.4 2704.6 418.1 2688.1 418.9 2688.1 419.8 2703.5 420.9 2688.1 421.8 2711.3 423.1 2688.1 424.4 2688.1 425.4 2704.8 426.6 2688.1 427.4 2688.1 428.7 2706.8 430 2688.1 430.7 2710.6 431.7 2688.1 432.9 2688.1 434.3 2688.1 435.6 2706.9 436.4 2715.7 437.5 2688.1 438.4 2688.1 439.3 2711.4 440.3 2702.2 441.3 2710 441.9 2688.1 443.2 2705.8 444.3 2688.1 445.4 2710.5 446.3 2688.1 447.5 2688.1 448.5 2711.8 449.7 2688.1 450.9 2688.1 451.8 2706.7 452.8 2688.1 454.2 2688.1 454.8 2688.1 455.6 2688.1 456.8 2688.1 457.5 2703.9 458.7 2688.1 459.9 2688.1 461.2 2712.8 462 2711.8 463.2 2688.1 463.9 2688.1 464.6 2688.1 465.2 2660.4 466.4 2660.4 467 2715.7 467.7 2708.2 468.9 2660.4 469.5 2688.1 470.4 2688.1 471 2688.1 472.1 2688.1 472.9 2706.6 474 2660.4 475 2705.2 475.8 2706 476.6 2688.1 477.7 2708 478.4 2688.1 479.4 2688.1 480.1 2688.1 480.8 2660.4 482.2 2708.6 483.3 2709.7 483.9 2660.4 485.2 2688.1 486.5 2709 487.2 2710.7 488.3 2688.1 489.4 2691.3 490.2 2708.5 490.9 2713.7 491.8 2704.7 492.6 2709.4 493.3 2712.9 494 2714.4 495.4 2712.5 496.2 2702.7 497.2 2713.1 498 2709.7 499.3 2708.7 500.5 2704.7 501.6 2707.3 502.7 2703.5 504 2688.1 505 2710.6 505.9 2707.2 507.1 2660.4 508.1 2711.8 509.4 2660.4 510.6 2660.4 511.9 2688.1 513 2713.8 514 2714.4 515.3 2688.1 516 2688.1 516.9 2660.4 517.5 2688.1 518.6 2712.1 519.5 2688.1 520.5 2706.5 521.6 2688.1 522.7 2660.4 523.5 2688.1 524.7 2703.2 525.6 2705.4 526.7 2688.1 527.5 2702.2 528.5 2688.1 529.7 2694 530.3 2697.5 531.7 2705.2 532.7 2710.8 533.8 2714.4 535.2 2707.1 535.8 2703.4 536.9 2706.8 538.2 2702.8 538.9 2715.3 539.8 2688.1 540.8 2688.1 542.1 2660.4 543.3 2688.1 544.6 2688.1 545.8 2688.1 547 2660.4 547.7 2688.1 548.3 2709.8 549.3 2688.1 550.7 2708.1 551.7 2715.3 552.6 2706.7 553.8 2706 554.8 2713.9 555.5 2688.1 556.7 2707.5 557.8 2705.8 558.4 2702.1 559.3 2704.4 560 2688.1 561.3 2660.4 562.1 2688.1 562.7 2707.7 563.5 2688.1 564.3 2660.4 565.6 2703.9 566.7 2688.1 567.7 2688.1 569 2707.8 570 2709 570.7 2688.1 571.8 2688.1 572.5 2688.1 573.2 2688.1 574.5 2703.5 575.7 2709.6 576.6 2660.4 577.8 2632.8 579.2 2688.1 580.4 2688.1 581 2688.1 582.1 2688.1 583.2 2660.4 584.2 2688.1 584.9 2688.1 586.3 2703.3 586.9 2703.1 588.3 2688.1 589.2 2713.2 590.2 2704.9 591.4 2688.1 592.5 2660.4 593.1 2660.4 593.9 2688.1 595.3 2710.3 596.7 2688.1 597.7 2711.8 599.1 2688.1 599.8 2709.9 601.1 2688.1 602.2 2688.1 603.4 2710.3 604.8 2688.1 605.6 2703 606.8 2688.1 608.2 2688.1 608.8 2702.2 610.1 2706.2 610.7 2709.7 611.8 2688.1 613.1 2702.2 614.1 2705.5 615.3 2710.6 616 2702.5 616.9 2632.8 617.7 2688.1 618.3 2713.6 619.3 2711.2 620.1 2688.1 621.2 2709.9 622.6 2688.1 623.5 2688.1 624.8 2660.4 626 2688.1 626.9 2707.9 627.9 2660.4 628.9 2710.8 630.3 2688.1 630.9 2660.4 632.1 2711.3 633 2632.8 633.8 2688.1 634.8 2688.1 635.6 2712.8 636.4 2702.6 637.3 2688.1 638.6 2713.2 639.8 2688.1 640.4 2706.9 641.6 2688.1 642.8 2707 644 2688.1 644.6 2688.1 645.4 2703.7 646.4 2709.5 647.8 2688.1 648.6 2688.1 649.8 2688.1 650.6 2710.7 651.4 2703.3 652.4 2711.4 653.7 2688.1 654.7 2688.1 655.5 2714.3 656.2 2688.1 657.2 2704.8 658.4 2688.1 659.5 2688.1 660.7 2715.5 661.3 2706.1 661.9 2703.7 662.9 2709.8 664.1 2704 664.8 2710.4 666.1 2632.8 667.4 2688.1 668.6 2688.1 669.9 2632.8 670.6 2710.6 671.6 2688.1 672.6 2702.3 673.4 2688.1 674.1 2706.7 675.4 2703.8 676.5 2688.1 677.2 2709.4 678.4 2688.1 679.8 2660.4 681.2 2632.8 682 2688.1 682.8 2660.4 683.5 2688.1 684.4 2688.1 685.5 2703 686.2 2688.1 687.4 2688.1 688.5 2660.4 689.1 2688.1 689.8 2702.7 690.6 2702.1 691.9 2688.1 693.2 2688.1 694.1 2688.1 695.5 2703.3 696.8 2660.4 698.1 2688.1 699.4 2688.1 700.4 2707.6 701.7 2660.4 702.8 2711.3 703.4 2660.4 704.4 2660.4 705 2707.3 705.7 2660.4 706.8 2707.4 708.1 2660.4 709.2 2688.1 709.8 2688.1 710.6 2688.1 711.7 2688.1 712.3 2712.1 713.5 2688.1 714.5 2688.1 715.7 2688.1 716.4 2703.5 717.2 2688.1 718 2688.1 718.9 2660.4 719.7 2690.9 720.5 2713.7 721.3 2709.8 722.5 2701.8 723.2 2705.9 724.4 2709.3 725.7 2715.5 726.4 2714.3 727 2711.7 727.8 2708.8 729.1 2703.7 730.2 2699 731.5 2706.2 732.3 2690.9 733.3 2712.9 734.4 2688.1 735.1 2688.1 735.9 2705.7 736.6 2714.1 737.8 2688.1 739.1 2688.1 740.3 2688.1 741.7 2632.8 743 2688.1 743.7 2688.1 745 2712.9 746 2713.7 746.6 2711.2 747.9 2660.4 749.2 2705.4 749.9 2711.7 751 2632.8 752.1 2660.4 753.2 2688.1 754.3 2688.1 755.1 2709.6 756.3 2688.1 757.6 2688.1 758.4 2688.1 759.3 2715.5 760.2 2708 761.5 2688.1 762.2 2706.2 763.5 2688.1 764.9 2660.4 765.6 2715.6 766.7 2632.8 768.1 2708.2 769.1 2688.1 770.2 2707.7 771.6 2660.4 772.3 2712 773 2710.4 774.2 2688.1 774.8 2688.1 775.6 2660.4 776.9 2660.4 777.5 2688.1 778.7 2688.1 779.7 2660.4 780.6 2632.8 781.6 2714.5 782.6 2660.4 783.3 2688.1 784.1 2660.4 784.8 2706.6 785.9 2688.1 787 2707 787.8 2660.4 789 2688.1 789.9 2707.9 791 2688.1 791.8 2688.1 793.1 2660.4 793.9 2688.1 794.7 2688.1 795.6 2632.8 796.6 2688.1 797.7 2688.1 798.4 2688.1 799.6 2688.1 800.6 2688.1 801.7 2660.4 802.4 2688.1 803.1 2688.1 804.4 2711.1 805.7 2709.9 806.7 2688.1 807.6 2706.8 808.9 2714.6 810.2 2660.4 811.2 2688.1 812 2660.4 812.9 2688.1 814 2710.4 814.8 2714.1 816.1 2660.4 817.2 2707.4 818.3 2705.2 819.1 2708.2 820.5 2660.4 821.2 2688.1 822.5 2715.3 823.6 2660.4 824.6 2688.1 825.9 2688.1 827 2688.1 828.1 2688.1 829.2 2688.1 830.1 2688.1 831.4 2713.5 832.2 2688.1 833.4 2688.1 834.5 2688.1 835.6 2713.7 836.7 2688.1 838 2703.3 838.9 2709.9 839.7 2632.8 841 2709.3 842 2688.1 843 2688.1 843.8 2714.9 845.2 2660.4 846.4 2688.1 847.6 2688.1 848.6 2688.1 849.5 2710.5 850.6 2688.1 851.5 2660.4 852.8 2702.6 853.7 2660.4 854.9 2660.4 855.9 2688.1 857 2688.1 857.9 2688.1 858.9 2715.7 859.7 2688.1 860.4 2688.1 861.4 2688.1 862.5 2660.4 863.6 2710.4 864.3 2710.7 865.5 2688.1 866.1 2688.1 867.5 2688.1 868.3 2660.4 869 2714.6 870.2 2711.2 871 2711.8 871.7 2688.1 872.6 2688.1 873.7 2660.4 874.5 2688.1 875.4 2688.1 876.5 2660.4 877.8 2660.4 878.7 2688.1 879.5 2660.4 880.6 2688.1 881.2 2660.4 882.2 2688.1 883.5 2708.4 884.2 2709.9 885.4 2660.4 886.8 2707.3 887.7 2660.4 888.9 2702.2 890.1 2688.1 891.4 2688.1 892.2 2705.5 893.6 2660.4 894.3 2709.6 895.6 2712.6 897 2660.4 897.8 2703.1 898.8 2688.1 899.7 2688.1 900.8 2660.4 902.2 2710.8 903.1 2708.3 903.8 2688.1 904.9 2688.1 906.2 2714.5 907.6 2688.1 908.5 2706.2 909.9 2688.1 910.9 2632.8 911.8 2708.3 912.5 2660.4 913.1 2688.1 913.7 2660.4 915.1 2688.1 916.2 2702.6 917 2705.5 918.2 2688.1 919 2707.9 919.9 2688.1 921.1 2688.1 922.1 2710.4 922.9 2713.8 923.7 2708.7 925 2688.1 926.3 2705.2 927.6 2660.4 928.4 2688.1 929.6 2703 930.9 2660.4 932.3 2707.9 933.1 2705.5 934 2688.1 935.1 2688.1 936 2714.2 937.2 2703.8 937.8 2660.4 938.7 2713.1 939.8 2660.4 940.9 2713.8 942.1 2688.1 943.1 2688.1 944.1 2707.8 944.9 2688.1 946.3 2688.1 947.6 2710 948.3 2660.4 949.6 2688.1 950.3 2688.1 951.6 2705 952.8 2605.1 953.9 2711.8 955 2688.1 956.2 2688.1 957.6 2688.1 958.2 2688.1 959.5 2632.8 960.5 2688.1 961.8 2688.1 962.8 2688.1 963.6 2704.3 964.8 2688.1 965.4 2705.7 966.6 2704.1 967.6 2713.5 968.6 2688.1 969.3 2707.6 970.1 2709.5 971.5 2688.1 972.2 2705.1 973.2 2709.5 974.2 2708.3 975.2 2660.4 975.9 2660.4 976.9 2688.1 977.9 2688.1 979.2 2660.4 979.8 2705.9 980.9 2660.4 981.6 2688.1 982.8 2632.8 984.1 2715.1 984.7 2712 985.5 2660.4 986.6 2705.4 987.3 2688.1 988.1 2703.5 988.8 2660.4 989.7 2711.5 990.5 2706.5 991.2 2632.8 991.9 2711.2 992.9 2714.8 993.9 2660.4 994.7 2688.1 995.9 2688.1 996.6 2705.5 997.9 2688.1 998.6 2632.8 999.4 2706.1 1000.1 2706.3 1001.3 2688.1 1002.3 2688.1 1003 2660.4 1004 2688.1 1005.3 2704.4 1006 2660.4 1006.6 2688.1 1007.6 2688.1 1008.9 2660.4 1009.7 2688.1 1010.4 2688.1 1011.6 2706.2 1012.8 2704.1 1013.5 2688.1 1014.1 2660.4 1015.1 2688.1 1016.3 2712.5 1017.3 2688.1 1018.5 2688.1 1019.5 2710.9 1020.8 2688.1 1021.5 2688.1 1022.9 2688.1 1023.7 2688.1 1024.4 2660.4 1025.3 2709.6 1026.2 2660.4 1027.1 2688.1 1028.4 2715.3 1029.8 2605.1 1030.6 2709.7 1031.5 2688.1 1032.8 2702.8 1033.6 2709.6 1034.6 2688.1 1035.9 2660.4 1036.6 2688.1 1037.6 2688.1 1038.6 2711.2 1039.7 2660.4 1041 2703.5 1042 2688.1 1042.9 2688.1 1043.6 2660.4 1044.8 2703.3 1046.1 2660.4 1047.1 2710.1 1048.5 2708.6 1049.9 2688.1 1051.1 2605.1 1052 2703.6 1053.4 2704.8 1054.1 2688.1 1055.1 2688.1 1056 2702.1 1057.2 2660.4 1058.2 2703.2 1059.3 2688.1 1060.4 2660.4 1061.1 2688.1 1062.4 2632.8 1063.5 2715.2 1064.8 2708.7 1066 2713.3 1067.3 2660.4 1068.5 2688.1 1069.3 2688.1 1070 2707.3 1070.8 2714.1 1071.7 2660.4 1072.9 2688.1 1073.9 2713.3 1075 2707.1 1076.3 2713.6 1077.4 2688.1 1078.7 2660.4 1079.6 2688.1 1080.5 2688.1 1081.5 2688.1 1082.5 2660.4 1083.5 2713.9 1084.3 2706.6 1085.1 2660.4 1086.4 2703.2 1087.1 2708.4 1088.4 2688.1 1089.5 2688.1 1090.1 2688.1 1091 2688.1 1092.1 2707.7 1093.2 2705.6 1094.4 2710.6 1095.1 2688.1 1095.8 2711.2 1096.7 2660.4 1097.8 2688.1 1099.1 2688.1 1100.1 2688.1 1100.9 2705.4 1102 2632.8 1103.2 2714.3 1103.9 2688.1 1105 2688.1 1105.9 2660.4 1107.1 2710.8 1108.3 2710.4 1109.3 2660.4 1110.6 2715.3 1111.4 2660.4 1112.1 2688.1 1113.4 2660.4 1114.3 2688.1 1115.5 2688.1 1116.8 2708.5 1118.1 2703.6 1119.1 2688.1 1120.2 2710.2 1121 2712.8 1121.8 2660.4 1122.7 2688.1 1124 2688.1 1125.1 2713 1126.2 2688.1 1127.2 2713 1128.3 2632.8 1129.1 2709.8 1130 2688.1 1130.9 2688.1 1132.2 2688.1 1132.8 2688.1 1133.9 2688.1 1134.8 2710.7 1135.9 2709.8 1136.7 2707.3 1137.8 2714.5 1138.8 2660.4 1140.1 2711.4 1140.9 2714.8 1141.6 2688.1 1142.8 2688.1 1144.1 2660.4 1144.9 2712.8 1145.8 2660.4 1146.6 2705.9 1147.6 2712.7 1148.8 2688.1 1149.9 2688.1 1151.3 2704.4 1152.5 2688.1 1153.3 2702 1154.1 2713.8 1155 2706.8 1155.7 2688.1 1156.6 2660.4 1157.6 2688.1 1158.4 2660.4 1159.6 2708.3 1160.6 2688.1 1161.4 2688.1 1162.4 2702 1163.3 2688.1 1164 2713.3 1164.8 2688.1 1165.6 2688.1 1167 2688.1 1167.9 2714.9 1168.6 2660.4 1169.7 2688.1 1170.9 2660.4 1171.7 2715.6 1172.4 2710.3 1173.2 2713.9 1174.1 2708.5 1175 2660.4 1175.7 2715.6 1176.8 2660.4 1178.2 2632.8 1179 2707.5 1179.6 2660.4 1180.8 2688.1 1181.6 2708.5 1182.4 2713.4 1183.3 2688.1 1184.7 2688.1 1185.9 2660.4 1187.2 2707.4 1188.5 2688.1 1189.6 2688.1 1190.7 2688.1 1192.1 2688.1 1192.9 2688.1 1193.9 2714.1 1195 2688.1 1195.6 2702 1196.8 2688.1 1197.7 2688.1 1198.9 2709.4 1199.9 2660.4 1201.2 2660.4 1202.4 2688.1 1203.7 2688.1 1204.9 2660.4 1206.2 2688.1 1207.2 2688.1 1208.3 2702.3 1209 2660.4 1209.8 2715.7 1211 2632.8 1211.6 2704.6 1212.4 2688.1 1213.3 2714.2 1214.2 2713 1214.8 2688.1 1216.2 2688.1 1217.6 2632.8 1218.2 2688.1 1218.9 2712.7 1219.9 2688.1 1220.8 2706.9 1221.5 2703.4 1222.4 2688.1 1223.7 2709 1224.7 2710.4 1225.4 2688.1 1226.1 2688.1 1227 2688.1 1228.2 2688.1 1229.1 2688.1 1229.9 2688.1 1230.9 2688.1 1232.2 2705 1233 2688.1 1234.4 2688.1 1235.8 2688.1 1236.6 2688.1 1237.7 2660.4 1238.9 2688.1 1239.7 2709.9 1240.8 2707.4 1242.2 2688.1 1242.8 2706.2 1243.6 2688.1 1244.3 2709.3 1245.3 2705.8 1246.3 2688.1 1247 2688.1 1247.7 2711.2 1248.7 2705.1 1249.6 2714.3 1250.5 2703.6 1251.3 2708.9 1252.7 2688.1 1254 2688.1 1254.8 2688.1 1255.7 2702.3 1257.1 2704.5 1258.4 2660.4 1259.7 2688.1 1260.4 2706.2 1261 2688.1 1262.1 2711.7 1263.1 2705.4 1263.9 2711.8 1265 2702.1 1266.3 2660.4 1267.4 2688.1 1268 2710.3 1268.9 2660.4 1270.1 2711 1271.5 2688.1 1272.5 2688.1 1273.8 2714.9 1274.9 2705 1275.6 2688.1 1276.5 2711.9 1277.6 2688.1 1278.2 2688.1 1279.2 2688.1 1280.2 2708.5 1281.1 2688.1 1282.1 2688.1 1283.2 2688.1 1284.4 2707.7 1285.2 2715.4 1286.1 2706.9 1286.8 2705.5 1287.5 2660.4 1288.5 2688.1 1289.9 2605.1 1291.2 2688.1 1292 2688.1 1293.4 2707.1 1294.3 2713.8 1295.2 2713.9 1295.8 2688.1 1296.9 2688.1 1298.3 2688.1 1299.6 2688.1 1300.7 2712.4 1301.5 2632.8 1302.7 2714.6 1303.5 2660.4 1304.3 2688.1 1305.6 2688.1 1306.6 2688.1 1307.9 2577.5 1308.7 2688.1 1309.4 2688.1 1310.3 2688.1 1311.6 2688.1 1312.6 2688.1 1313.6 2688.1 1314.4 2705.4 1315.1 2688.1 1316 2688.1 1316.6 2713.6 1318 2660.4 1319.3 2688.1 1320.3 2688.1 1321.1 2660.4 1322.2 2688.1 1323.4 2688.1 1324.7 2688.1 1326 2688.1 1326.9 2688.1 1328.3 2688.1 1329.6 2688.1 1330.9 2688.1 1331.9 2688.1 1332.8 2688.1 1333.7 2688.1 1335 2688.1 1335.9 2714.7 1336.5 2711.9 1337.7 2660.4 1338.6 2715.5 1339.9 2714.1 1341.1 2688.1 1342 2707 1343.3 2660.4 1344.6 2688.1 1345.9 2688.1 1347.1 2688.1 1348 2688.1 1349 2710 1350 2660.4 1351.1 2632.8 1352.1 2688.1 1353.2 2688.1 1354.6 2711.8 1355.8 2714.3 1356.6 2632.8 1357.9 2707.3 1358.9 2709.2 1359.6 2704.5 1360.7 2705 1362.1 2688.1 1363.3 2688.1 1364.6 2702.3 1365.8 2688.1 1366.8 2705.4 1367.7 2688.1 1369 2688.1 1370.1 2688.1 1371.5 2688.1 1372.5 2660.4 1373.1 2703.8 1374.4 2660.4 1375.4 2708.5 1376.2 2705.3 1377.2 2688.1 1378.3 2703.1 1379.3 2704.6 1380.3 2688.1 1381.5 2702.9 1382.2 2688.1 1383.5 2688.1 1384.5 2660.4 1385.8 2688.1 1386.5 2688.1 1387.2 2713.7 1388.5 2704.4 1389.3 2708.6 1390.5 2688.1 1391.5 2688.1 1392.8 2688.1 1393.4 2709.5 1394.5 2688.1 1395.2 2712.4 1396.5 2660.4 1397.6 2688.1 1398.8 2705.4 1399.7 2688.1 1400.7 2711.6 1402.1 2688.1 1403.5 2704.7 1404.2 2660.4 1405.1 2703.1 1406.4 2688.1 1407.4 2712.7 1408.7 2688.1 1409.9 2704.8 1411.3 2660.4 1412.2 2688.1 1412.9 2712.5 1413.8 2660.4 1414.5 2688.1 1415.8 2688.1 1417.1 2708.6 1417.8 2660.4 1419.2 2660.4 1420.3 2705.8 1421.3 2688.1 1422.1 2713.3 1422.9 2688.1 1422.9 2715.8Z" class="dn"/>
<path d="M259 2577.46H271.0V2715.76H259" class="axl"/>
<text x="252.5" y="2581.1" text-anchor="end" class="ax">12</text>
<text x="252.5" y="2719.4" text-anchor="end" class="ax">0</text>
<text x="217.6" y="2652.9" text-anchor="end" class="lb" textLength="144.5" lengthAdjust="spacingAndGlyphs">GSM2481675</text>
<path d="M318.1 2869.7L318.1 2869.7 367 2800.5 412.6 2869.7 460.9 2835.1 492.9 2869.7 524.2 2835.1 525.5 2731.4 686.8 2869.7 847.5 2835.1 889.2 2869.7 930 2800.5 1034.1 2869.7 1140.9 2835.1 1183.7 2869.7 1228.6 2835.1 1326.6 2869.7 1326.6 2869.7Z" class="dp"/>
<path d="M259 2731.39H271.0V2869.70H259" class="axl"/>
<text x="252.5" y="2735.0" text-anchor="end" class="ax">477</text>
<text x="252.5" y="2873.3" text-anchor="end" class="ax">0</text>
<text x="217.6" y="2806.8" text-anchor="end" class="lb" textLength="144.5" lengthAdjust="spacingAndGlyphs">GSM2481674</text>
<path d="M272 3023.6L272 3023.6 275 3013.8 277.9 3023.6 281.2 3013.8 284.6 3023.6 287 2999.9 287.6 2994 288.2 3003.3 289.5 3023.6 293.3 3013.8 297 3023.6 300.6 3013.8 304.3 3023.6 307.8 3023.6 311.4 3006.7 312 3003.9 312 3013.8 312.6 3015.1 316.3 3023.6 316.8 3009.6 317.4 2994 318 2997.9 320.4 3013.8 321.4 3007.7 322 3003.9 322.6 3008.4 324.6 3023.6 329.3 3013.8 329.4 2998.1 330 2905.1 330.6 2928.8 330.9 2940.6 331.5 2964.4 332.1 2978.8 334 3023.6 337.1 3013.8 340.1 3023.6 344.4 3006.3 345 3003.9 345.6 3011.5 346.5 3023.6 350.5 3013.8 354.4 3023.6 360.5 3023.6 365.2 3013.8 369.9 3023.6 371.4 3009.4 372 3003.9 372.6 3010.5 372.9 3013.8 375.9 3023.6 378 3023.6 382.9 3013.8 387.9 3023.6 389.4 3009.4 390 3003.9 390.6 3006.7 394.2 3023.6 398.1 3013.8 401.9 3023.6 405.7 3013.8 409.4 3023.3 409.5 3023.6 410 3003.9 410.6 3005.5 413.5 3013.8 417.5 3023.6 420.3 3013.8 423.1 3023.6 425.4 3008 426 3003.9 426.6 3007 427.9 3013.8 432.7 3023.6 438.8 3023.6 442.9 3013.8 447 3023.6 449.4 3007.8 450 3003.9 450.2 3023.6 450.6 3022.8 454.4 3013.8 458.7 3023.6 462.2 3013.8 465.7 3023.6 468.4 3013.8 471.2 3023.6 475.2 3013.8 475.4 3011 476 3003.9 476.6 3007.6 479.1 3023.6 482.5 3013.8 485.8 3023.6 490.4 3013.8 495 3023.6 497.7 3013.8 498.5 2985.3 499.1 2964.4 499.7 2991.6 500.4 3023.6 503.3 3023.6 506 3013.8 508.7 3023.6 512.6 3013.8 516.4 3023.6 519.4 3007.2 520 3003.9 520.6 3006.9 523.9 3023.6 528 3013.8 532 3023.6 536.6 3013.8 541.1 3023.6 544.4 3015.2 544.9 3013.8 545 3003.9 545.6 3007 548.8 3023.6 551.4 3014.4 551.6 3013.8 552 3003.9 552.6 3008.8 554.4 3023.6 559.1 3013.8 559.6 2970.9 560.2 2915 560.8 2932.8 563.9 3023.6 568.4 3013.8 572.9 3023.6 577.4 3023.6 580.6 3013.8 583.8 3023.6 588 3013.8 592.3 3023.6 596.3 3023.6 599.4 3007.1 600 3003.9 600.6 3010.2 600.9 3013.8 605.6 3023.6 608.4 3013.8 611.2 3023.6 611.4 3018.5 612 3003.9 612.6 3005.8 615 3013.8 618.9 3023.6 624.3 3023.6 627.2 3013.8 630.1 3023.6 636.5 3023.6 640.6 3013.8 644.7 3023.6 648.5 3013.8 649.4 3007.9 650 3003.9 650.6 3009 652.3 3023.6 656 3013.8 659.6 3023.6 666.2 3023.6 670.7 3013.8 675.1 3023.6 678.6 3013.8 682.1 3023.6 685.8 3013.8 689.5 3023.6 694.1 3013.8 698.8 3023.6 699.4 3014.1 700 3003.9 700.6 3007.3 701.7 3013.8 704.6 3023.6 711.3 3023.6 716.2 3013.8 717.4 3007.2 718 3003.9 718.6 3007.7 721.1 3023.6 724.3 3013.8 727.6 3023.6 734.5 3023.6 739.4 3013.8 744.2 3023.6 748.5 3013.8 752.9 3023.6 756.7 3013.8 759.4 3005.7 760 3003.9 760.5 3023.6 760.6 3023.3 763.6 3013.8 766.8 3023.6 773.8 3023.6 778.1 3013.8 779.4 3007 780 3003.9 780.6 3009 782.3 3023.6 785.2 3013.8 788 3023.6 791.9 3013.8 795.9 3023.6 799.4 3023.6 799.9 3023.6 800 3003.9 800.6 3005.4 803.9 3013.8 807.9 3023.6 812.2 3013.8 816.5 3023.6 820 3013.8 821.4 3006.9 822 3003.9 822.6 3011.6 823.5 3023.6 827.9 3013.8 832.2 3023.6 834.8 3013.8 837.3 3023.6 841.8 3013.8 846.3 3023.6 847.4 3010.9 848 3003.9 848.6 3010.3 849.8 3023.6 853 3013.8 856.2 3023.6 859.2 3023.6 862 3013.8 864.9 3023.6 868.5 3013.8 872.1 3023.6 875.4 3006.9 876 3003.9 876.6 3007.7 879.1 3023.6 883.7 3013.8 888.3 3023.6 895.3 3023.6 899.7 3013.8 904.2 3023.6 904.4 3017.9 905 3003.9 905.6 3007 906.9 3013.8 909.6 3023.6 914.3 3013.8 919 3023.6 923.8 3013.8 928.7 3023.6 933.4 3006.1 934 3003.9 934.6 3008.5 936.6 3023.6 939.3 3013.8 942 3023.6 945.9 3013.8 949.7 3023.6 953.6 3013.8 957.4 3023.6 958.4 3011.2 959 3003.9 959.6 3006 961.8 3013.8 966.3 3023.6 970.4 3013.8 974.6 3023.6 977.2 3013.8 979.7 3023.6 984.6 3013.8 987.4 3005.6 988 3003.9 988.6 3012.2 989.4 3023.6 997.4 3023.6 999.9 3013.8 1002.5 3023.6 1006.9 3013.8 1011.2 3023.6 1014.4 3007 1015 3003.9 1015.2 3013.8 1015.6 3014.8 1019.1 3023.6 1022.6 3023.6 1025.5 3013.8 1028.3 3023.6 1030.9 3013.8 1033.4 3023.6 1039.4 3023.6 1039.7 3023.6 1040 3003.9 1040.6 3005.7 1043.3 3013.8 1046.9 3023.6 1051.5 3023.6 1056.3 3013.8 1061.1 3023.6 1062.6 3002.5 1063.2 2994 1063.8 3005 1064.3 3013.8 1067.4 3023.6 1072.4 3023.6 1075.5 3013.8 1078.7 3023.6 1081 3023.6 1085 3013.8 1089 3023.6 1089.4 3016.3 1090 3003.9 1090.6 3006 1092.8 3013.8 1096.6 3023.6 1099.4 3015 1099.8 3013.8 1100 3003.9 1100.6 3007.8 1103 3023.6 1106.3 3013.8 1109.5 3023.6 1112 3013.8 1114.5 3023.6 1119.2 3013.8 1119.4 3011.5 1120 3003.9 1120.6 3006.9 1123.9 3023.6 1126.9 3013.8 1130 3023.6 1134.4 3006.2 1135 3003.9 1135.6 3007.9 1137.9 3023.6 1142.9 3013.8 1147.9 3023.6 1152.4 3023.6 1156.9 3013.8 1159.4 3005.8 1160 3003.9 1160.6 3011.8 1161.5 3023.6 1164.1 3013.8 1166.6 3023.6 1169.8 3013.8 1172.9 3023.6 1174.7 2979.1 1175.3 2964.4 1175.9 2973.9 1179 3023.6 1182.8 3013.8 1186.5 3023.6 1193 3023.6 1196.3 3013.8 1199.6 3023.6 1203.4 3023.6 1204.6 2932.4 1205.2 2885.3 1205.8 2948.1 1206.4 3013.8 1209.4 3023.6 1212.7 3013.8 1216.1 3023.6 1220.3 3013.8 1224.5 3023.6 1229.2 3013.8 1237 3013.8 1261 3023.6 1285 3013.8 1289.4 3005.1 1290 3003.9 1290.4 3013.8 1290.6 3014.2 1294 3023.6 1299.4 3005.8 1300 3003.9 1300.6 3011.4 1301.6 3023.6 1304.6 3013.8 1307.6 3023.6 1310.7 3023.6 1313.6 3013.8 1316.5 3023.6 1317.4 3011.6 1318 3003.9 1318.6 3007.9 1319.5 3013.8 1322.5 3023.6 1325.3 3013.8 1328.1 3023.6 1329.4 3010.2 1330 3003.9 1330.6 3006.2 1332.6 3013.8 1337 3023.6 1337.4 3012.5 1338 2994 1338.6 3001.1 1339.7 3013.8 1342.3 3023.6 1346.6 3013.8 1349.4 3005.6 1350 3003.9 1350.6 3016.4 1350.9 3023.6 1355.2 3013.8 1359.4 3023.6 1362.4 2998.9 1363 2994 1363.4 3013.8 1363.6 3014.4 1367.3 3023.6 1371.9 3013.8 1376.4 3023.6 1379.6 3013.8 1382.7 3023.6 1383.4 3013.3 1384 3003.9 1384.6 3007.1 1385.8 3013.8 1388.9 3023.6 1392.5 3013.8 1396 3023.6 1399.4 3014.9 1399.8 3013.8 1400 3003.9 1400.6 3007.1 1403.7 3023.6 1408.5 3023.6 1412.6 3013.8 1416.8 3023.6 1417.4 3014 1418 3003.9 1418.6 3006.6 1420.2 3013.8 1423.5 3023.6 1427.2 3023.6 1427.2 3023.6Z" class="dn"/>
<path d="M259 2885.33H271.0V3023.63H259" class="axl"/>
<text x="252.5" y="2888.9" text-anchor="end" class="ax">39</text>
<text x="252.5" y="3027.2" text-anchor="end" class="ax">0</text>
<text x="217.6" y="2960.7" text-anchor="end" class="lb" textLength="144.5" lengthAdjust="spacingAndGlyphs">GSM2481673</text>
<path d="M302.4 3177.6L302.4 3177.6 336.4 3131.5 382 3177.6 426.2 3131.5 515.3 3177.6 603 3131.5 603.2 3085.3 603.4 3131.5 631 3177.6 657.5 3131.5 712.6 3177.6 767.5 3131.5 773.6 3177.6 779.3 3131.5 804.7 3177.6 829.6 3131.5 836 3177.6 842.3 3131.5 849.6 3177.6 856.4 3131.5 857.3 3149.9 858.2 3131.5 861.6 3177.6 865 3131.5 902.2 3177.6 939.1 3131.5 939.6 3085.3 957.9 3177.6 976.2 3131.5 1010 3177.6 1042.7 3131.5 1043.1 3039.3 1044.1 3085.3 1097.1 3177.6 1151.1 3131.5 1250.4 3177.6 1351.1 3131.5 1382.4 3177.6 1415 3131.5 1419.1 3177.6 1419.1 3177.6Z" class="dp"/>
<path d="M259 3039.26H271.0V3177.57H259" class="axl"/>
<text x="252.5" y="3042.9" text-anchor="end" class="ax">113</text>
<text x="252.5" y="3181.2" text-anchor="end" class="ax">0</text>
<text x="217.6" y="3114.7" text-anchor="end" class="lb" textLength="144.5" lengthAdjust="spacingAndGlyphs">GSM2481672</text>
<path d="M272 3331.5L272 3331.5 276.7 3296.9 281.4 3331.5 285.6 3296.9 289.9 3331.5 292.5 3296.9 295.1 3331.5 299.7 3296.9 304.4 3331.5 308.1 3296.9 311.7 3331.5 314.8 3296.9 317.8 3331.5 319.9 3296.9 322 3331.5 325.4 3272.7 326 3262.3 326.6 3286.8 326.8 3296.9 329.4 3212.9 330 3193.2 330.6 3242.4 331.7 3331.5 334.1 3296.9 336.5 3331.5 341.2 3296.9 345.9 3331.5 349.1 3296.9 352.2 3331.5 356.6 3296.9 361 3331.5 363 3296.9 365 3331.5 366.9 3296.9 368.7 3331.5 370.7 3331.5 374.7 3296.9 378.7 3331.5 382.7 3296.9 386.7 3331.5 388.8 3296.9 390.9 3331.5 392.4 3282.4 393 3262.3 393.6 3279.2 395.5 3331.5 400 3296.9 404.4 3330.4 404.5 3331.5 405 3262.3 405.6 3272.4 407.1 3296.9 409.6 3331.5 411.6 3278.2 412.2 3262.3 412.8 3288.1 413.8 3331.5 416.5 3296.9 418.3 3271.1 418.9 3262.3 419.3 3331.5 419.5 3329.4 423.1 3296.9 426.9 3330.9 427 3331.5 427.5 3262.3 428.1 3270.1 430.2 3296.9 433.4 3331.5 437.2 3296.9 441 3331.5 444.2 3296.9 447.3 3331.5 452.1 3296.9 456.9 3331.5 460.9 3296.9 464.9 3331.5 468.5 3296.9 472.1 3331.5 474.3 3296.9 476.4 3331.5 479.8 3296.9 480 3281.9 480.6 3227.8 481.2 3251.1 483.3 3331.5 488.2 3296.9 493.2 3331.5 493.9 3276.5 494.5 3227.8 495.1 3276.8 495.3 3296.9 497.5 3331.5 499.2 3296.9 501 3331.5 501.2 3313.1 501.8 3262.3 502.4 3272.9 503.8 3296.9 506.5 3331.5 511.4 3296.9 516.2 3331.5 520.5 3296.9 524.7 3331.5 525.1 3303.1 525.7 3262.3 526.3 3274.8 529 3331.5 531.2 3296.9 533.3 3331.5 536.1 3296.9 539 3331.5 543.7 3331.5 545.7 3296.9 547.8 3331.5 549.8 3296.9 551.9 3331.5 554.6 3296.9 557.3 3331.5 558.2 3331.5 558.4 3331.5 558.8 3262.3 559.4 3272.2 560.9 3296.9 563.4 3331.5 565.2 3296.9 567 3331.5 571.3 3331.5 574.7 3296.9 578.2 3331.5 581 3296.9 583.7 3331.5 586.4 3296.9 589 3331.5 591.5 3296.9 593.9 3331.5 596.4 3296.9 598.9 3331.5 602.5 3296.9 605.3 3268.4 605.9 3262.3 606 3331.5 606.5 3327.2 609.9 3296.9 613.7 3331.5 615.5 3296.9 617.3 3331.5 617.9 3277.8 618.5 3227.8 619.1 3243.9 621.1 3296.9 624.9 3331.5 629.4 3296.9 633.9 3331.5 636.6 3296.9 639.3 3331.5 642 3296.9 644.8 3331.5 646.8 3296.9 648.9 3331.5 653.5 3296.9 658.1 3331.5 663 3296.9 667.9 3331.5 672.4 3296.9 676.3 3327.3 676.8 3331.5 676.9 3227.8 677.5 3248.3 678.9 3296.9 681 3331.5 683.4 3296.9 685.9 3331.5 689.9 3296.9 690.2 3285.3 690.8 3262.3 691.4 3275.6 693.9 3331.5 695.5 3281.4 696.1 3262.3 696.7 3270.4 698.7 3296.9 703.4 3331.5 708.3 3296.9 713.2 3331.5 715.5 3296.9 717.9 3331.5 722 3299.7 722.4 3296.9 722.6 3262.3 723.2 3262.3 724 3262.3 724.6 3262.3 725.2 3280.7 726.9 3331.5 732.8 3331.5 734.7 3296.9 736.5 3331.5 740.3 3296.9 744.1 3331.5 747.8 3296.9 751.5 3331.5 754.4 3296.9 757.3 3331.5 759.2 3296.9 761.1 3331.5 765.7 3296.9 770.4 3331.5 774.9 3296.9 779.4 3331.5 782 3296.9 784.6 3331.5 789.3 3296.9 794.1 3331.5 799.5 3331.5 802.2 3296.9 805 3331.5 807.7 3296.9 810.4 3331.5 812.9 3301.6 813.3 3296.9 813.5 3262.3 814.1 3278.1 816.1 3331.5 818 3296.9 820 3331.5 820.2 3312.3 820.8 3262.3 821.4 3279.4 822 3296.9 824.1 3331.5 825.9 3296.9 827.7 3331.5 829.5 3331.5 829.9 3331.5 830.1 3262.3 830.7 3272.7 832.1 3296.9 834.3 3331.5 836.1 3296.9 837.9 3331.5 840.7 3296.9 843.6 3331.5 846.1 3296.9 848.6 3331.5 851 3299.3 851.2 3296.9 851.6 3262.3 852.2 3281.8 853.7 3331.5 856.7 3296.9 859.8 3331.5 863.8 3296.9 867.8 3331.5 871.5 3296.9 873.6 3270.2 874.2 3262.3 874.8 3300.9 875.3 3331.5 878 3296.9 880.7 3331.5 882.7 3296.9 884.7 3331.5 887.6 3296.9 890.5 3331.5 894.4 3296.9 897.4 3268.2 898 3262.3 898.3 3331.5 898.6 3328.6 901.6 3296.9 902.8 3274.2 903.4 3262.3 904 3288.8 905 3331.5 909.7 3296.9 914.4 3331.5 914.7 3306.1 915.3 3262.3 915.9 3269.6 918.1 3296.9 921.9 3331.5 925.8 3296.9 929.6 3331.5 933.6 3296.9 937.5 3331.5 941.7 3296.9 945.9 3331.4 945.9 3331.5 946.5 3262.3 947.1 3268.7 949.8 3296.9 953.6 3331.5 956.6 3296.9 959.5 3331.5 962.9 3296.9 966.3 3331.5 967.8 3282.3 968.4 3262.3 969 3279.6 969.6 3296.9 970.4 3277.2 971 3262.3 971.6 3284.4 972.9 3331.5 977.6 3296.9 982.3 3331.5 986.9 3296.9 991.5 3331.5 996.2 3296.9 1000.9 3331.5 1003.2 3296.9 1005.5 3331.5 1010.5 3296.9 1015.5 3331.5 1017.5 3296.9 1019.5 3331.5 1021.6 3296.9 1023.7 3331.5 1025.7 3296.9 1027.7 3331.5 1028.9 3331.5 1032.2 3296.9 1035.5 3331.5 1038.9 3296.9 1042.3 3331.5 1046.1 3296.9 1050 3331.5 1054 3296.9 1058.1 3331.5 1061.2 3296.9 1064.3 3331.5 1064.6 3309 1065.2 3262.3 1065.8 3271.2 1067.5 3296.9 1070.8 3331.5 1071.9 3286.4 1072.5 3262.3 1073.1 3270.5 1075 3296.9 1079.3 3331.5 1081.6 3296.9 1083.8 3331.5 1086.5 3296.9 1089.2 3331.5 1092.3 3296.9 1095.3 3331.5 1100.2 3331.5 1104.4 3296.9 1108.7 3331.5 1110.8 3296.9 1112.9 3331.5 1117.6 3296.9 1122.2 3331.5 1126.4 3296.9 1130.5 3331.5 1132.9 3296.9 1135.3 3331.5 1138.5 3296.9 1141.6 3331.5 1144.6 3296.9 1146.2 3271.7 1146.8 3262.3 1147.4 3320.6 1147.5 3331.5 1151.9 3296.9 1156.3 3331.5 1159.9 3296.9 1163.5 3331.5 1165.8 3296.9 1168 3331.5 1170.7 3300.1 1171 3296.9 1171.3 3262.3 1171.9 3278 1173.4 3317.2 1173.9 3331.5 1174 3262.3 1174.6 3266.8 1178.7 3296.9 1183.4 3331.5 1185.6 3296.9 1187.7 3331.5 1191.7 3331.5 1195.1 3296.9 1198.5 3331.5 1203.8 3331.5 1203.9 3323 1204.5 3262.3 1205.1 3267.7 1208.4 3296.9 1213 3331.5 1215.1 3296.9 1215.8 3277.7 1216.4 3262.3 1217 3322.2 1217.1 3331.5 1221.6 3296.9 1226 3331.5 1229.2 3296.9 1232.4 3331.5 1234.3 3296.9 1236.2 3331.5 1239 3274.6 1239.6 3262.3 1240.2 3282 1240.7 3296.9 1245.1 3331.5 1245.7 3297.2 1246.3 3262.3 1246.9 3286.2 1247.2 3296.9 1249.2 3331.5 1252.8 3296.9 1256.4 3331.5 1258.7 3296.9 1260.9 3331.5 1265.8 3296.9 1270.7 3331.5 1274.5 3331.5 1276.8 3276.5 1277.4 3262.3 1278 3296.9 1278 3297.3 1281.5 3331.5 1284.3 3296.9 1285.5 3273.9 1286.1 3262.3 1286.7 3302.3 1287.1 3331.5 1291.3 3296.9 1295.4 3331.5 1298.6 3296.9 1301.8 3331.5 1304.5 3296.9 1305.4 3276.2 1306 3262.3 1306.6 3297.6 1307.2 3331.5 1311.4 3296.9 1315.7 3331.5 1318.4 3296.9 1321.2 3331.5 1325 3296.9 1328.8 3331.5 1333.6 3296.9 1338.3 3331.5 1343.6 3331.5 1345.4 3296.9 1347.2 3331.5 1351.5 3296.9 1355.8 3331.5 1358.2 3296.9 1360.7 3331.5 1363.9 3331.5 1368.4 3296.9 1372.9 3331.5 1377.6 3331.5 1380.7 3296.9 1383.7 3331.5 1386.3 3275.2 1386.9 3262.3 1387.2 3296.9 1387.5 3299.4 1390.8 3331.5 1393.5 3296.9 1396.2 3331.5 1399.4 3296.9 1402.7 3331.5 1406.6 3296.9 1410.5 3331.5 1413.2 3296.9 1415.9 3331.5 1417.9 3331.5 1420.7 3296.9 1423.5 3331.5 1424.7 3331.5 1424.7 3331.5Z" class="dn"/>
<path d="M259 3193.20H271.0V3331.50H259" class="axl"/>
<text x="252.5" y="3196.8" text-anchor="end" class="ax">15</text>
<text x="252.5" y="3335.1" text-anchor="end" class="ax">0</text>
<text x="217.6" y="3268.6" text-anchor="end" class="lb" textLength="144.5" lengthAdjust="spacingAndGlyphs">GSM2481671</text>
<path d="M441.5 3485.4L441.5 3485.4 613.9 3439.4 614 3393.2 614.3 3347.1 614.6 3393.2 703.4 3485.4 794.2 3439.4 862.9 3485.4 932.7 3439.4 933.3 3478.5 934 3439.4 979.3 3485.4 1025.2 3439.4 1029.3 3479.9 1033 3439.4 1033.2 3393.2 1134 3485.4 1235.6 3439.4 1236.7 3439.4 1259.5 3485.4 1282.2 3439.4 1282.5 3393.2 1353.7 3485.4 1353.7 3485.4Z" class="dp"/>
<path d="M259 3347.14H271.0V3485.44H259" class="axl"/>
<text x="252.5" y="3350.7" text-anchor="end" class="ax">387</text>
<text x="252.5" y="3489.0" text-anchor="end" class="ax">0</text>
<text x="217.6" y="3422.5" text-anchor="end" class="lb" textLength="144.5" lengthAdjust="spacingAndGlyphs">GSM2481670</text>
<path d="M271.6 3639.4L271.6 3638 272.2 3619.6 273.3 3599.9 274.1 3636.2 275.2 3630.2 276.4 3630.7 277.4 3599.9 278.5 3560.3 279.9 3633.3 280.7 3599.9 282.1 3619.6 283.3 3580.1 283.9 3619.6 285.3 3619.6 286.2 3599.9 287.1 3619.6 287.9 3580.1 288.8 3619.6 289.5 3635.9 290.5 3630 291.5 3580.1 292.2 3619.6 293.1 3619.6 293.7 3599.9 294.8 3619.6 295.7 3630.3 296.7 3619.6 297.8 3632 298.8 3619.6 300 3633.4 301.3 3634.4 302.5 3599.9 303.4 3619.6 304.8 3619.6 305.5 3599.9 306.3 3619.6 307.3 3580.1 308.5 3631.1 309.1 3639 309.8 3599.9 311 3540.6 311.8 3619.6 312.9 3599.9 314.1 3619.6 315.1 3619.6 315.8 3639.3 316.9 3637.1 317.9 3636 319.2 3619.6 320.3 3599.9 321.6 3619.6 322.9 3619.6 323.7 3560.3 324.7 3631.3 326.1 3599.9 327.3 3619.6 328 3619.6 328.8 3599.9 329.6 3580.1 330.6 3639.2 331.9 3631.2 332.6 3637.6 333.6 3635.3 334.7 3619.6 336.1 3630.5 337.3 3619.6 338.1 3619.6 338.9 3619.6 339.6 3619.6 340.4 3619.6 341.2 3636.3 342.3 3635.7 342.9 3619.6 343.6 3619.6 344.3 3619.6 345.6 3619.6 346.8 3619.6 347.7 3619.6 348.8 3619.6 349.4 3631.4 350.5 3619.6 351.2 3619.6 352.4 3619.6 353.5 3619.6 354.9 3619.6 355.7 3630.2 356.5 3580.1 357.5 3633.9 358.7 3631.6 359.5 3633.7 360.6 3619.6 361.8 3599.9 362.9 3580.1 363.6 3638.9 364.7 3638.1 365.8 3619.6 366.7 3560.3 367.3 3599.9 368 3634.3 368.8 3635.7 369.7 3619.6 370.6 3619.6 371.7 3619.6 372.5 3638.9 373.2 3631.2 374.2 3619.6 375.1 3637.1 376.4 3580.1 377.4 3599.9 378.8 3619.6 379.8 3599.9 381.1 3619.6 381.8 3599.9 382.7 3580.1 383.4 3619.6 384.7 3599.9 385.6 3619.6 386.3 3599.9 387.6 3619.6 388.7 3635.7 389.4 3619.6 390.3 3599.9 391.1 3632.1 391.7 3634.2 393 3580.1 393.9 3631.2 394.6 3619.6 395.4 3619.6 396.6 3599.9 397.6 3619.6 398.4 3619.6 399.2 3635.9 400.3 3619.6 401.2 3637.4 402 3599.9 403.3 3619.6 404.3 3619.6 405.3 3639.4 406.4 3634.6 407.4 3619.6 408.2 3619.6 408.9 3619.6 409.7 3619.6 410.5 3619.6 411.7 3634.4 412.7 3636.3 414 3619.6 415.2 3619.6 416.2 3635.5 417 3580.1 418.1 3630.9 419 3619.6 419.8 3629.7 420.6 3632.1 422 3599.9 423.2 3634.5 424.6 3619.6 425.2 3599.9 426.2 3619.6 427.1 3619.6 428.3 3631.5 429.3 3599.9 430.4 3619.6 431.3 3635.7 432.6 3560.3 433.7 3599.9 434.9 3631.9 435.5 3619.6 436.8 3619.6 437.5 3619.6 438.2 3619.6 438.9 3580.1 440.3 3634.3 441 3619.6 442 3636.3 443.3 3580.1 444.6 3637.4 445.6 3637.1 446.6 3619.6 447.9 3560.3 448.7 3619.6 449.5 3619.6 450.3 3599.9 451.4 3632.8 452.1 3599.9 453.2 3619.6 454.3 3635 455.1 3634.4 456.3 3634.2 457.3 3619.6 457.9 3599.9 458.9 3631.2 459.9 3599.9 460.8 3619.6 461.7 3619.6 462.8 3634.4 463.9 3599.9 465.3 3637.6 466.4 3632.4 467.8 3619.6 468.4 3638.3 469.3 3619.6 470.3 3619.6 471.5 3619.6 472.6 3599.9 473.9 3637.7 474.9 3632.5 475.8 3599.9 476.5 3619.6 477.7 3619.6 478.9 3619.6 479.8 3633.2 481.1 3635 481.9 3630.6 482.9 3639 484 3619.6 485.1 3619.6 485.8 3599.9 486.7 3619.6 487.5 3619.6 488.8 3637.6 489.8 3634.1 490.9 3599.9 492.3 3638.1 493.4 3580.1 494.8 3634.1 495.8 3631.9 496.5 3636.8 497.4 3619.6 498.5 3599.9 499.5 3632 500.8 3631.7 501.6 3638.4 502.8 3619.6 503.7 3599.9 505 3637.6 506.4 3599.9 507.7 3632 509 3580.1 510 3619.6 511.3 3638.9 511.9 3599.9 512.9 3638.9 514.1 3619.6 514.9 3619.6 515.6 3580.1 516.9 3599.9 518.2 3599.9 519.1 3619.6 519.9 3637.2 520.8 3636.2 522.1 3637.5 523 3619.6 523.8 3631.7 525 3636.8 526.2 3635 527.4 3580.1 528.2 3630.1 529 3637.8 529.7 3619.6 530.8 3619.6 531.8 3632.3 532.5 3619.6 533.6 3639.3 534.7 3619.6 535.7 3580.1 536.6 3599.9 537.4 3635.7 538.1 3619.6 539.2 3599.9 540.2 3636.3 541.5 3619.6 542.4 3639.4 543.5 3635.7 544.8 3635.3 545.7 3619.6 546.6 3639.1 547.5 3632.3 548.7 3631.6 550 3599.9 551.3 3619.6 552.2 3633.2 553.2 3619.6 554.3 3638.2 554.9 3635.1 555.6 3619.6 556.8 3599.9 557.6 3619.6 558.9 3632.3 559.5 3599.9 560.4 3560.3 561.1 3619.6 562.4 3619.6 563.7 3619.6 564.8 3633.1 566.1 3619.6 567.2 3580.1 568.2 3637.9 569.4 3631.7 570.5 3619.6 571.4 3619.6 572.5 3629.6 573.1 3619.6 574.3 3636.9 575.4 3619.6 576.6 3580.1 577.7 3619.6 578.4 3599.9 579.5 3619.6 580.2 3619.6 581 3619.6 582.3 3619.6 583.2 3619.6 584 3599.9 584.9 3634.4 586 3599.9 587.1 3619.6 588 3619.6 588.8 3599.9 590 3630.5 590.7 3634.6 591.7 3619.6 592.4 3619.6 593.2 3619.6 594.3 3599.9 595.3 3633.9 596.6 3599.9 597.7 3599.9 598.8 3619.6 599.5 3619.6 600.2 3619.6 601.4 3632.5 602.7 3599.9 604.1 3619.6 605.5 3619.6 606.4 3599.9 607 3619.6 607.6 3599.9 608.9 3630 609.7 3636 610.6 3637.4 611.3 3637.5 612.2 3635.3 613.2 3619.6 614.4 3631.1 615 3599.9 616.2 3619.6 616.9 3639.3 617.5 3599.9 618.2 3632 618.8 3619.6 619.9 3580.1 621.1 3599.9 621.7 3619.6 622.5 3619.6 623.4 3631.9 624.1 3636.6 625.3 3630.8 626.5 3631.2 627.8 3619.6 628.9 3630 630.1 3636.1 631.4 3619.6 632.4 3599.9 633.2 3599.9 634.4 3619.6 635.5 3639.2 636.4 3632.8 637 3619.6 637.7 3619.6 638.4 3638 639.3 3619.6 640.3 3619.6 641.4 3599.9 642.6 3633.3 643.5 3580.1 644.9 3637.5 645.6 3599.9 646.4 3633.9 647.2 3599.9 648.5 3619.6 649.4 3637.3 650 3619.6 650.8 3619.6 651.5 3599.9 652.6 3580.1 653.9 3599.9 654.5 3630.9 655.6 3599.9 656.6 3619.6 657.6 3639 658.8 3633 659.9 3580.1 661.1 3619.6 662.4 3599.9 663.1 3619.6 664.1 3638.2 665.5 3619.6 666.8 3619.6 667.9 3540.6 669.2 3619.6 670 3599.9 671.3 3599.9 672.5 3619.6 673.8 3619.6 674.5 3560.3 675.6 3599.9 676.6 3619.6 677.8 3619.6 679.1 3632.2 680.2 3631.2 681.4 3635.5 682.5 3580.1 683.6 3638.4 684.9 3631.6 685.8 3619.6 686.5 3619.6 687.5 3638.7 688.3 3619.6 689.3 3619.6 690 3637.1 691.2 3619.6 692.5 3560.3 693.1 3619.6 694.2 3599.9 695.1 3619.6 696.2 3630.6 697 3638.8 698 3619.6 699 3639.3 700.2 3633 701 3638.1 702.2 3599.9 703.3 3580.1 703.9 3619.6 705 3619.6 706 3634.6 706.6 3599.9 707.8 3631.3 709 3599.9 710.4 3619.6 711.7 3599.9 712.7 3619.6 713.3 3619.6 714.2 3619.6 715.4 3599.9 716.1 3599.9 717.3 3637.8 718.3 3619.6 719.1 3599.9 720.3 3630.5 721.3 3634.9 722.3 3599.9 722.9 3637.4 723.9 3599.9 724.6 3619.6 725.5 3619.6 726.8 3619.6 728 3619.6 729.3 3619.6 730.7 3580.1 732 3619.6 732.6 3619.6 733.8 3619.6 734.7 3599.9 735.8 3633.1 736.4 3637.1 737.7 3599.9 738.4 3629.7 739.1 3619.6 739.7 3619.6 740.5 3619.6 741.2 3619.6 742.3 3580.1 743.5 3599.9 744.1 3619.6 745.3 3599.9 745.9 3634 747 3619.6 748.2 3631.3 749 3619.6 749.9 3638.4 750.6 3638.7 751.7 3633.1 752.5 3630 753.1 3599.9 754.5 3619.6 755.8 3619.6 756.8 3634.7 757.5 3580.1 758.3 3599.9 759.4 3619.6 760.7 3599.9 761.8 3632.8 762.4 3599.9 763.1 3631.2 764.4 3540.6 765.7 3619.6 766.6 3631.7 767.4 3635.5 768.6 3619.6 769.4 3619.6 770.7 3619.6 772 3619.6 772.7 3599.9 773.9 3630.7 775 3599.9 776.3 3501.1 777 3619.6 777.8 3599.9 778.6 3599.9 779.2 3632.7 780 3619.6 780.6 3634.3 781.4 3619.6 782.6 3599.9 783.3 3599.9 784.2 3638.8 785.3 3636.3 786.1 3560.3 787.2 3619.6 788.6 3638.4 789.8 3599.9 791.1 3619.6 792.2 3631.6 793.1 3599.9 794.3 3619.6 795 3638.1 795.7 3619.6 796.8 3599.9 797.7 3631.2 798.5 3619.6 799.2 3639.2 799.9 3631.1 801 3599.9 801.8 3636.5 802.6 3619.6 803.8 3619.6 804.7 3631.7 805.6 3632.1 806.3 3636.6 807.4 3580.1 808.5 3635.3 809.6 3632.1 810.6 3639.4 811.5 3619.6 812.8 3599.9 813.8 3580.1 814.8 3634.2 815.8 3599.9 817.1 3599.9 817.7 3631.3 818.6 3619.6 819.3 3635.6 820.2 3636.5 820.8 3632.8 821.9 3580.1 823.1 3619.6 824 3599.9 825 3635.6 826.1 3599.9 826.8 3619.6 827.6 3619.6 828.5 3599.9 829.2 3631.6 830 3639.4 830.9 3619.6 831.7 3599.9 832.7 3619.6 833.8 3629.7 834.7 3619.6 835.7 3619.6 836.5 3619.6 837.4 3619.6 838.2 3599.9 838.9 3560.3 839.7 3619.6 840.9 3639.3 842.1 3631.9 842.8 3634.3 844 3630.5 844.7 3638.9 845.5 3635.8 846.3 3599.9 846.9 3619.6 848 3635.3 849.3 3599.9 850.2 3580.1 851.4 3599.9 852.5 3619.6 853.4 3619.6 854.4 3619.6 855.7 3635.7 857 3633 857.8 3619.6 858.6 3619.6 859.9 3630.6 861.1 3599.9 862 3619.6 863.3 3619.6 864.1 3629.5 865.5 3630.7 866.5 3580.1 867.5 3619.6 868.4 3619.6 869.1 3637.2 870.2 3635 871.5 3580.1 872.2 3599.9 873.2 3619.6 873.9 3599.9 875.2 3638.6 876.3 3619.6 877.5 3599.9 878.4 3619.6 879.3 3633.1 880.1 3631.3 881.2 3619.6 882.4 3599.9 883.2 3619.6 883.9 3599.9 885 3599.9 885.7 3630.5 886.6 3633.9 887.3 3619.6 887.9 3580.1 889.2 3632.3 890.2 3636.8 891.6 3580.1 892.6 3619.6 893.5 3619.6 894.2 3560.3 895.2 3619.6 896.3 3619.6 897.2 3619.6 898.1 3639.2 899.4 3599.9 900.6 3619.6 901.3 3599.9 902.5 3636.5 903.5 3638.7 904.6 3599.9 905.6 3636.4 906.9 3630.4 907.9 3630.4 909.2 3580.1 910 3630.2 910.7 3619.6 911.4 3619.6 912.7 3619.6 913.5 3629.9 914.4 3636.9 915.5 3580.1 916.9 3633 917.9 3619.6 918.7 3632.6 919.6 3619.6 921 3629.9 922 3638.5 922.8 3599.9 924.1 3619.6 925 3619.6 925.7 3632.3 927.1 3599.9 928 3632 928.8 3599.9 929.6 3619.6 930.3 3599.9 931.3 3631.8 932.4 3636.3 933.7 3633.3 935.1 3619.6 936 3619.6 936.8 3619.6 937.9 3639.2 938.5 3599.9 939.7 3580.1 940.5 3599.9 941.5 3619.6 942.6 3633.2 943.6 3599.9 944.6 3619.6 945.5 3619.6 946.2 3599.9 947.1 3633.1 948.5 3560.3 949.9 3632.9 950.8 3599.9 952 3580.1 953.3 3632.5 954.3 3619.6 955.3 3619.6 956.4 3599.9 957.7 3633.7 959 3637.8 959.7 3619.6 961 3619.6 962.1 3599.9 962.8 3619.6 963.8 3634.6 965 3619.6 966.3 3632.2 967.4 3619.6 968.4 3619.6 969.2 3631.9 969.9 3632.8 970.7 3639.3 972 3619.6 973 3619.6 974.2 3619.6 975.1 3599.9 976.2 3619.6 977.3 3619.6 978.5 3599.9 979.6 3638 980.8 3560.3 981.4 3633.6 982.2 3638.3 983.1 3630.8 983.9 3540.6 984.7 3599.9 985.3 3599.9 986.1 3637.3 986.8 3599.9 987.6 3633.4 989 3633.1 990.1 3580.1 990.8 3619.6 991.7 3619.6 992.5 3635.6 993.8 3619.6 995 3599.9 995.7 3639.2 996.8 3635 998.1 3631.8 999.1 3619.6 1000.3 3635.3 1001.4 3630.9 1002.8 3599.9 1003.9 3619.6 1005.1 3632.5 1006.1 3599.9 1006.8 3636.9 1008 3634.1 1009.2 3630.7 1010.1 3619.6 1010.8 3619.6 1011.6 3619.6 1012.6 3599.9 1013.4 3619.6 1014.5 3580.1 1015.6 3619.6 1016.7 3599.9 1017.5 3619.6 1018.6 3619.6 1019.6 3599.9 1020.5 3619.6 1021.6 3599.9 1022.7 3633.2 1023.6 3619.6 1024.2 3633.4 1024.9 3619.6 1025.9 3619.6 1027 3619.6 1027.9 3619.6 1028.8 3632.9 1030.2 3633.3 1031 3634 1031.8 3638.4 1032.5 3599.9 1033.5 3580.1 1034.6 3619.6 1035.6 3619.6 1036.9 3632.1 1038.1 3631 1039.1 3635.7 1039.7 3630.6 1040.5 3599.9 1041.3 3540.6 1042.6 3619.6 1043.9 3599.9 1045 3619.6 1046 3619.6 1046.7 3619.6 1047.8 3599.9 1049 3619.6 1050.3 3560.3 1051.1 3619.6 1052.2 3619.6 1053.4 3619.6 1054.7 3599.9 1055.9 3580.1 1057.1 3636 1057.7 3635.8 1058.8 3631.2 1059.9 3619.6 1061.1 3619.6 1062.5 3638.4 1063.5 3520.8 1064.4 3632.2 1065 3619.6 1066.3 3632.1 1067.1 3560.3 1068.1 3637.4 1068.8 3599.9 1069.7 3637.6 1070.6 3619.6 1071.5 3619.6 1072.7 3599.9 1073.6 3619.6 1074.9 3599.9 1075.8 3540.6 1076.8 3629.9 1078 3619.6 1078.6 3630.4 1079.7 3619.6 1080.6 3619.6 1081.9 3632.4 1083.2 3619.6 1084.3 3619.6 1085.1 3599.9 1086 3619.6 1087.3 3599.9 1087.9 3636.1 1089.1 3599.9 1090.2 3619.6 1091.6 3560.3 1092.7 3619.6 1094.1 3619.6 1094.9 3619.6 1095.7 3619.6 1096.4 3619.6 1097.1 3619.6 1098 3639.2 1098.9 3599.9 1099.6 3599.9 1100.4 3619.6 1101.4 3599.9 1102.4 3638.2 1103.1 3580.1 1104.3 3619.6 1105 3630.4 1106.3 3636.5 1107.2 3631.6 1108.3 3619.6 1109.2 3636.5 1110.3 3619.6 1111.2 3619.6 1111.9 3636.9 1112.8 3636.4 1114 3632.9 1114.8 3632.1 1116.2 3599.9 1117.1 3619.6 1117.9 3580.1 1118.8 3637.2 1119.4 3619.6 1120.3 3619.6 1121.4 3619.6 1122.5 3636.1 1123.7 3580.1 1124.8 3639.1 1126.2 3619.6 1127.5 3619.6 1128.1 3619.6 1129.2 3599.9 1130 3619.6 1130.7 3619.6 1131.7 3619.6 1132.8 3633.5 1133.5 3632.7 1134.7 3637.3 1135.7 3580.1 1136.5 3599.9 1137.2 3619.6 1138.5 3619.6 1139.2 3619.6 1140.1 3619.6 1140.7 3599.9 1141.8 3619.6 1142.5 3619.6 1143.7 3632.1 1144.7 3619.6 1145.4 3619.6 1146.7 3638.4 1147.8 3630.2 1149.1 3619.6 1150.3 3619.6 1151.4 3631 1152.5 3599.9 1153.4 3560.3 1154.8 3619.6 1156.1 3599.9 1156.8 3619.6 1158 3619.6 1159.1 3619.6 1160.4 3632.2 1161.5 3599.9 1162.2 3580.1 1163 3619.6 1164 3619.6 1165.4 3630.5 1166.2 3631.5 1167 3599.9 1168.2 3580.1 1169.4 3638.9 1170.7 3599.9 1172 3631.2 1173.2 3630.2 1174.2 3599.9 1174.8 3619.6 1175.8 3631.5 1176.7 3631.6 1177.4 3639 1178.5 3619.6 1179.3 3599.9 1180.5 3619.6 1181.5 3629.9 1182.8 3560.3 1184.2 3619.6 1184.8 3619.6 1186 3619.6 1186.8 3632.1 1187.9 3632.6 1188.8 3631.2 1189.8 3580.1 1190.6 3599.9 1191.4 3619.6 1192.3 3630 1193.3 3629.8 1194 3619.6 1195.3 3599.9 1196.3 3619.6 1197.7 3619.6 1198.5 3633.3 1199.3 3630.4 1200.1 3619.6 1201.5 3599.9 1202.4 3619.6 1203.2 3635.8 1203.8 3637.1 1205.1 3560.3 1206.1 3637.8 1206.8 3637.1 1208 3619.6 1209.3 3619.6 1210.1 3619.6 1210.7 3619.6 1211.8 3619.6 1213.1 3619.6 1214.3 3637.1 1215.3 3619.6 1216.5 3580.1 1217.5 3619.6 1218.2 3619.6 1219.6 3619.6 1221 3619.6 1222 3635.7 1223 3599.9 1224 3619.6 1225.2 3619.6 1225.9 3619.6 1226.8 3629.9 1227.4 3599.9 1228.5 3619.6 1229.1 3599.9 1229.8 3619.6 1231.1 3580.1 1231.9 3599.9 1233.1 3632.5 1234.2 3619.6 1235 3632.4 1236 3638.4 1237.3 3638.5 1238.1 3639.3 1239 3619.6 1240.1 3637.1 1241.2 3580.1 1242.4 3619.6 1243.4 3619.6 1244.2 3638.3 1244.8 3619.6 1245.7 3619.6 1246.3 3639.3 1247 3630.3 1247.9 3619.6 1248.6 3632 1249.5 3599.9 1250.3 3619.6 1251.6 3633.1 1252.3 3634.9 1253.5 3599.9 1254.3 3636.2 1255.3 3638.5 1256 3599.9 1257 3619.6 1257.6 3630.2 1258.3 3599.9 1259.1 3634.3 1259.9 3599.9 1261.3 3580.1 1262.2 3632.1 1262.8 3619.6 1264.1 3631.7 1265.5 3599.9 1266.6 3619.6 1267.3 3637.5 1268.7 3599.9 1270 3580.1 1271.2 3619.6 1271.9 3619.6 1273.3 3619.6 1274.6 3619.6 1276 3637.5 1277.3 3599.9 1278.1 3619.6 1278.8 3619.6 1279.9 3619.6 1281 3599.9 1282 3639.2 1282.8 3540.6 1284 3619.6 1285.1 3638.2 1286 3540.6 1287.2 3599.9 1287.9 3629.5 1289 3630 1290 3619.6 1291.1 3637.9 1292 3632.2 1293 3630.8 1294.2 3634.9 1295.1 3631.4 1295.9 3636.1 1296.9 3599.9 1297.6 3619.6 1298.6 3633.1 1299.9 3619.6 1300.9 3636 1301.8 3619.6 1302.9 3635.8 1304.1 3540.6 1304.9 3619.6 1306.1 3599.9 1307.2 3619.6 1308.3 3619.6 1308.9 3560.3 1310.2 3599.9 1311.4 3635.1 1312.4 3619.6 1313.4 3619.6 1314.6 3638.7 1315.4 3580.1 1316.7 3599.9 1317.4 3639.2 1318.2 3631.5 1319.4 3619.6 1320.5 3637 1321.8 3599.9 1322.6 3580.1 1323.4 3619.6 1324.7 3632.3 1325.9 3635.5 1327.2 3599.9 1328.1 3637.7 1329.4 3619.6 1330.1 3599.9 1330.8 3619.6 1331.5 3619.6 1332.4 3632.2 1333.2 3638.8 1333.9 3599.9 1335.1 3619.6 1335.8 3619.6 1336.6 3619.6 1337.6 3599.9 1338.8 3619.6 1339.4 3599.9 1340 3634.1 1341.2 3580.1 1342.4 3638.9 1343.2 3631.1 1344.2 3599.9 1345.6 3560.3 1346.8 3619.6 1348 3599.9 1349.4 3638.9 1350.4 3560.3 1351.5 3619.6 1352.8 3633.8 1353.5 3636.3 1354.2 3619.6 1355.3 3633.2 1356 3580.1 1356.8 3634.5 1357.8 3619.6 1358.9 3619.6 1360.2 3629.8 1361.4 3619.6 1362.4 3540.6 1363.6 3619.6 1364.7 3619.6 1365.9 3599.9 1366.7 3619.6 1367.9 3599.9 1368.9 3619.6 1370.1 3619.6 1370.9 3580.1 1371.6 3631.4 1373 3599.9 1374.1 3635.5 1374.9 3599.9 1376.2 3580.1 1376.9 3619.6 1378.2 3599.9 1379.2 3599.9 1380 3619.6 1380.8 3619.6 1381.6 3631.1 1382.9 3540.6 1384.3 3599.9 1385.3 3619.6 1386.6 3599.9 1387.8 3619.6 1388.7 3599.9 1390 3619.6 1391.2 3619.6 1391.9 3630 1393.2 3631.8 1393.9 3633.2 1394.7 3619.6 1395.9 3599.9 1396.7 3619.6 1397.6 3619.6 1398.2 3599.9 1399.5 3630.1 1400.3 3637.3 1401.1 3580.1 1401.8 3619.6 1402.9 3629.6 1404.1 3599.9 1404.7 3619.6 1405.9 3619.6 1406.9 3599.9 1407.9 3599.9 1409.2 3619.6 1410 3619.6 1411 3619.6 1411.9 3560.3 1412.7 3638.5 1414 3638.8 1414.9 3580.1 1416.2 3619.6 1417.1 3599.9 1418.2 3619.6 1419.3 3619.6 1420.1 3636.4 1421 3540.6 1421.8 3631.8 1423 3633.9 1423 3639.4Z" class="dn"/>
<path d="M259 3501.07H271.0V3639.37H259" class="axl"/>
<text x="252.5" y="3504.7" text-anchor="end" class="ax">6</text>
<text x="252.5" y="3643.0" text-anchor="end" class="ax">0</text>
<text x="217.6" y="3576.5" text-anchor="end" class="lb" textLength="144.5" lengthAdjust="spacingAndGlyphs">GSM2481669</text>
<path d="M271.6 3793.3L271.6 3776.9 272.9 3783.1 273.9 3758.7 274.8 3758.7 275.4 3758.7 276.4 3758.7 277.3 3758.7 278.3 3782.6 279.7 3689.6 280.8 3758.7 281.7 3783.1 282.7 3758.7 283.6 3789.9 284.2 3792.6 285.1 3787.6 286 3758.7 287 3758.7 288.2 3779 289 3783.1 290.4 3792.3 291.3 3779.3 292.5 3776.9 293.5 3787.3 294.9 3758.7 295.8 3758.7 297.2 3758.7 298.2 3758.7 299.5 3758.7 300.8 3758.7 302.1 3777.8 303.3 3724.2 304.4 3758.7 305.6 3783.8 306.8 3782.4 307.7 3724.2 309.1 3783.6 310.1 3785.2 311.1 3758.7 312.3 3758.7 313.1 3790.3 314 3758.7 315 3784 316 3758.7 316.7 3724.2 317.7 3782.8 318.6 3758.7 319.9 3758.7 320.9 3785 321.9 3758.7 322.7 3758.7 323.7 3758.7 324.4 3724.2 325.7 3789 327 3758.7 327.9 3758.7 329.1 3758.7 330 3788.2 330.7 3790.4 332.1 3758.7 333.2 3758.7 334.2 3783.5 335.4 3783.1 336.2 3791.7 337.5 3758.7 338.6 3758.7 339.6 3758.7 340.8 3787.9 342.1 3791.1 343 3792.6 343.9 3784.1 344.7 3758.7 345.6 3783.1 346.5 3758.7 347.5 3758.7 348.5 3784 349.6 3777.4 351 3758.7 352.3 3758.7 352.9 3758.7 354.3 3781.1 355.5 3758.7 356.1 3784.4 357.1 3792.1 358.1 3782.2 359 3782.8 360 3758.7 360.8 3758.7 361.9 3788.2 363.2 3724.2 364.3 3758.7 365.6 3791.4 367 3758.7 367.6 3758.7 368.8 3782.4 369.8 3689.6 370.9 3758.7 372.1 3758.7 372.9 3758.7 374 3758.7 374.6 3780.2 375.7 3782.3 376.4 3758.7 377.4 3786.1 378.7 3724.2 379.8 3789.7 381 3758.7 382.1 3782.7 383 3784.3 384.1 3724.2 385.3 3779.1 386.5 3791.1 387.5 3724.2 388.9 3791.6 389.7 3785.4 390.4 3758.7 391.5 3779.9 392.7 3782.3 393.9 3758.7 394.7 3785.3 395.9 3758.7 396.9 3786.3 398.1 3790.3 399.4 3758.7 400.6 3791.5 401.8 3776.6 403.1 3790.8 404 3689.6 405.1 3782.6 406.4 3782.9 407.4 3758.7 408.2 3758.7 409.2 3758.7 410.4 3778.7 411.3 3782.8 412 3758.7 412.8 3758.7 414 3758.7 415.4 3776.3 416.8 3780.7 418 3758.7 419 3792.4 419.9 3791.3 420.6 3791.3 421.5 3758.7 422.7 3758.7 423.9 3758.7 425 3780.1 426.3 3758.7 427.5 3780.7 428.8 3758.7 429.4 3758.7 430.7 3785.7 431.5 3790 432.1 3791.4 433.5 3779.4 434.3 3758.7 435.3 3791.3 436.1 3758.7 437.4 3790.2 438.7 3758.7 439.5 3758.7 440.3 3758.7 440.9 3758.7 442.1 3758.7 443.3 3758.7 444.1 3758.7 444.8 3788.6 446 3791.7 446.8 3789 447.5 3778.6 448.5 3758.7 449.1 3758.7 449.7 3758.7 451 3758.7 451.9 3792.7 453.1 3758.7 454.3 3779.1 455.3 3779.6 456.6 3758.7 457.7 3724.2 458.5 3758.7 459.1 3786.4 460.2 3789.5 460.9 3758.7 461.5 3758.7 462.2 3758.7 462.9 3724.2 463.5 3758.7 464.1 3777.2 464.9 3758.7 466.2 3758.7 467.4 3724.2 468.1 3758.7 469.1 3758.7 470 3758.7 471.1 3689.6 471.8 3779.2 472.8 3758.7 473.9 3689.6 474.8 3776.7 475.9 3793 477 3724.2 477.7 3758.7 479 3758.7 480 3758.7 480.9 3758.7 481.7 3758.7 483 3758.7 483.8 3758.7 485.1 3689.6 486 3784.6 487.1 3786.4 488.4 3758.7 489.1 3758.7 490.2 3758.7 490.9 3758.7 491.5 3758.7 492.7 3758.7 493.8 3787.4 494.7 3781.3 495.4 3758.7 496.1 3790.9 497 3781.1 498.1 3776.9 499.5 3781.1 500.1 3758.7 501.2 3787 502.4 3758.7 503.2 3784.8 504.4 3787.1 505.8 3786.2 507.1 3758.7 508.3 3788.7 509.4 3724.2 510.8 3758.7 511.5 3787.7 512.9 3778.9 513.8 3724.2 514.8 3784.5 515.5 3758.7 516.4 3782 517.6 3758.7 518.7 3758.7 519.5 3758.7 520.4 3758.7 521.1 3758.7 522 3758.7 523.2 3759.8 524.1 3782.4 525 3779 526.3 3789.9 527.5 3792.1 528.9 3792.7 529.9 3788 531.1 3780.9 531.8 3777.1 532.5 3773.4 533.1 3769.9 533.9 3765.3 534.5 3776.5 535.3 3789 536.3 3758.7 537 3724.2 538.2 3758.7 539 3787.7 540.3 3790.9 541.3 3778.3 542 3758.7 542.7 3758.7 543.6 3724.2 544.8 3758.7 545.6 3758.7 547 3758.7 547.7 3792.6 548.7 3758.7 550.1 3758.7 551.3 3778.3 552.2 3724.2 553.1 3788 554.2 3792.3 555.5 3758.7 556.7 3758.7 557.6 3788.6 558.5 3783.8 559.6 3758.7 560.6 3758.7 562 3777.7 563 3758.7 564 3758.7 565 3758.7 565.7 3758.7 566.5 3758.7 567.5 3781.5 568.1 3758.7 569.1 3793.1 570.3 3778.6 571.7 3724.2 572.7 3776.6 574 3791.1 575.1 3784.5 576.1 3788.2 577 3724.2 578.1 3758.7 579.4 3787.4 580.6 3782.6 581.8 3758.7 582.6 3758.7 583.3 3758.7 584.1 3758.7 585.3 3758.7 586.3 3758.7 587.5 3758.7 588.6 3790.5 589.5 3758.7 590.3 3758.7 591 3758.7 592.1 3758.7 592.7 3788.7 593.7 3758.7 594.6 3758.7 595.8 3758.7 596.7 3758.7 597.4 3758.7 598.8 3758.7 599.6 3789.1 600.4 3758.7 601.7 3758.7 602.8 3758.7 603.5 3790.2 604.2 3791.4 604.8 3792.8 606.2 3780.5 607.4 3790.3 608.6 3689.6 609.8 3758.7 610.6 3784.4 611.6 3758.7 612.6 3784.8 613.9 3758.7 614.7 3782.5 615.5 3784.4 616.4 3779 617.6 3786.3 618.9 3758.7 620 3758.7 621.4 3758.7 622.4 3778.5 623.3 3724.2 623.9 3758.7 625 3758.7 625.8 3779.2 626.6 3784.6 627.4 3758.7 628.1 3758.7 628.7 3784.6 629.5 3787.1 630.3 3782.7 631.3 3758.7 632.1 3758.7 633.3 3781.9 633.9 3791.1 634.7 3758.7 635.7 3785.3 636.7 3776.5 637.9 3758.7 638.6 3780.7 639.3 3758.7 640.7 3758.7 641.6 3784.6 642.9 3780.3 643.8 3781 644.8 3758.7 645.7 3758.7 646.4 3758.7 647.3 3786.4 648.6 3782 650 3724.2 651.4 3758.7 652.7 3784.2 653.6 3791.7 654.8 3786.6 656.1 3778.4 657.1 3758.7 657.8 3758.7 658.5 3792.2 659.5 3790.1 660.5 3780.1 661.7 3758.7 663.1 3793.1 664.3 3777.2 665.2 3758.7 666.5 3779 667.3 3758.7 668.2 3758.7 668.8 3781.8 670.2 3783.8 671.2 3758.7 672 3758.7 672.6 3789.4 673.9 3787.5 675.1 3758.7 676.5 3786.6 677.8 3758.7 678.6 3758.7 679.4 3789.5 680.3 3788.7 681.5 3791.4 682.1 3758.7 683 3781.8 683.8 3758.7 684.7 3783.3 685.7 3758.7 687 3786.3 687.6 3791.1 688.6 3784.7 689.4 3784.6 690.7 3758.7 691.3 3758.7 692.4 3782.8 693.6 3758.7 694.9 3758.7 696.1 3758.7 697.4 3758.7 698.3 3758.7 699.4 3689.6 700.3 3758.7 701.5 3758.7 702.4 3724.2 703.5 3758.7 704.2 3758.7 705.3 3758.7 706.3 3758.7 707.6 3758.7 708.4 3758.7 709.1 3759.3 710 3763.7 711.2 3790.4 712.2 3774.7 713.2 3779.7 714.5 3791.3 715.6 3791.1 716.6 3790.1 717.3 3786.8 718.2 3782.5 719.2 3777.7 720.5 3770.8 721.4 3784.2 722.4 3761.6 723.4 3782.2 724.8 3784.5 725.9 3758.7 726.9 3788.7 727.9 3758.7 729.2 3758.7 730 3777.3 730.6 3758.7 731.7 3786.9 733.1 3758.7 733.8 3758.7 734.6 3758.7 735.9 3758.7 736.9 3724.2 738.2 3783.6 739.3 3789.2 740.2 3785.5 741.3 3784.5 742.6 3758.7 743.4 3785.4 744.8 3758.7 745.4 3758.7 746.4 3758.7 747.5 3758.7 748.4 3758.7 749.7 3758.7 750.5 3785 751.3 3758.7 751.9 3758.7 752.5 3778.8 753.5 3689.6 754.9 3781.1 756.1 3786.1 757.4 3724.2 758.8 3789.4 759.8 3788.7 761 3780.2 762.4 3758.7 763.5 3724.2 764.2 3788.6 765.4 3758.7 766.1 3776.8 767.3 3793.3 768.3 3786.2 769.1 3778.1 770.4 3758.7 771.2 3758.7 772.5 3724.2 773.3 3779.4 774.2 3783.2 775.2 3793.3 776 3783.6 777.1 3758.7 778.3 3788.9 779.3 3778.2 780.7 3791.4 781.3 3782.6 782.4 3778 783.5 3724.2 784.6 3758.7 785.7 3787.7 787.1 3786.7 787.7 3778.3 788.6 3792.5 789.6 3781.2 790.9 3758.7 791.9 3758.7 792.6 3779.2 793.2 3724.2 794.2 3792.9 794.9 3758.7 795.9 3724.2 796.5 3758.7 797.6 3790 798.4 3787.5 799.5 3758.7 800.7 3783.4 801.9 3758.7 802.8 3758.7 804.1 3724.2 805.2 3758.7 806 3758.7 807.1 3782.8 808 3758.7 809 3758.7 810 3758.7 810.9 3758.7 811.8 3781.8 812.7 3758.7 813.3 3758.7 814.1 3780.7 815.4 3781.6 816.6 3724.2 817.3 3792.2 818.6 3782.3 819.6 3758.7 820.8 3758.7 821.7 3786.2 822.5 3758.7 823.8 3758.7 824.4 3790.2 825.4 3758.7 826.4 3791.3 827.7 3689.6 828.6 3787.6 829.6 3787.7 830.3 3787.4 831.2 3758.7 832.1 3758.7 832.8 3758.7 833.9 3758.7 835.2 3724.2 836.2 3791.4 837.1 3790.9 838 3758.7 838.9 3777 839.7 3779.1 841 3724.2 841.6 3758.7 842.6 3777 843.3 3791 844.4 3792 845.6 3781.8 846.5 3758.7 847.2 3779.5 848.1 3758.7 848.9 3791.2 849.5 3782.6 850.2 3792.1 851.4 3758.7 852.3 3783.5 853.6 3758.7 855 3724.2 856.3 3758.7 857.5 3790.5 858.3 3724.2 859.3 3786.1 860.1 3789 860.8 3758.7 861.6 3790.2 862.8 3788 863.5 3776 864.4 3724.2 865.5 3790 866.8 3787.4 867.5 3790.7 868.5 3775.7 869.7 3767.8 870.6 3778.3 871.3 3792.7 872.4 3779.9 873.1 3792.3 874.1 3758.7 875.4 3758.7 876 3758.7 877.3 3758.7 878.6 3724.2 879.8 3758.7 881.1 3758.7 881.7 3724.2 882.4 3758.7 883.2 3780.1 884.5 3724.2 885.4 3782 886.1 3776.5 886.8 3758.7 888.1 3758.7 889 3783.6 890.2 3758.7 890.9 3758.7 892.2 3758.7 893.5 3781.7 894.1 3758.7 894.7 3786.2 895.9 3758.7 896.6 3792.3 897.6 3782.8 898.3 3758.7 898.9 3758.7 899.9 3779.1 900.8 3758.7 901.7 3689.6 903 3780.9 904.4 3758.7 905.6 3724.2 907 3781.6 907.7 3778.2 908.6 3780.8 909.8 3787.6 910.7 3791.5 911.9 3783.9 912.9 3758.7 913.7 3784.8 914.8 3724.2 915.8 3780.2 916.6 3783.5 917.5 3758.7 918.4 3758.7 919.4 3782.1 920.3 3782.3 921.3 3782 922.2 3790.4 922.8 3783.4 923.4 3758.7 924.5 3778.8 925.7 3788.2 926.6 3758.7 927.5 3758.7 928.2 3785.3 929 3784.8 930.1 3785.2 931.1 3758.7 931.9 3758.7 932.6 3758.7 933.4 3788.2 934.7 3785.3 935.3 3758.7 936 3724.2 937.1 3758.7 938.3 3758.7 939 3758.7 940 3788.3 940.7 3758.7 942 3790.2 942.9 3758.7 943.9 3758.7 944.6 3758.7 946 3689.6 946.8 3793.2 948.1 3758.7 948.8 3791.5 950.2 3776.6 951.5 3786.8 952.5 3758.7 953.6 3790.7 954.6 3758.7 955.6 3758.7 956.6 3758.7 957.3 3758.7 958 3790.9 958.6 3779.3 959.4 3781.3 960.2 3788.4 961.5 3781.8 962.5 3784.9 963.5 3790.4 964.5 3790.6 965.6 3783.8 966.9 3776.5 967.7 3771.8 968.7 3782.7 969.5 3761.5 970.6 3778.4 971.3 3779.5 972.7 3784.8 974.1 3758.7 975 3758.7 976 3758.7 977.4 3758.7 978.6 3758.7 979.5 3758.7 980.4 3784.4 981.2 3780.8 982 3758.9 983.4 3778 984.2 3780.2 985.1 3776.8 986.1 3789.5 986.9 3787 988.2 3792.3 989.1 3787.1 989.9 3782.4 990.9 3776.8 992.2 3769 992.8 3765.4 994.2 3779.7 994.9 3758.7 996.1 3785.7 997.1 3724.2 998.3 3788.2 999.2 3758.7 999.8 3780.2 1000.9 3758.7 1002 3758.7 1003 3758.7 1004.1 3724.2 1004.8 3758.7 1005.6 3781.1 1006.5 3791.8 1007.5 3758.7 1008.6 3777.8 1009.4 3791.8 1010 3788.5 1010.7 3758.7 1011.8 3787.8 1012.5 3758.7 1013.2 3785.8 1014.6 3758.7 1015.9 3778.6 1017 3786.1 1017.9 3791.8 1018.8 3791 1019.7 3790.1 1020.8 3758.7 1022.2 3792.2 1023 3781.4 1023.9 3791.8 1025.3 3793.1 1026 3758.7 1027 3758.7 1027.8 3777.9 1028.8 3791.8 1029.6 3789.7 1030.5 3724.2 1031.4 3780.7 1032.6 3787.7 1033.8 3758.7 1034.7 3758.7 1035.3 3779.3 1036.7 3758.7 1037.4 3792.5 1038.5 3777.3 1039.8 3793 1040.5 3778.5 1041.8 3724.2 1042.5 3787.7 1043.2 3781.5 1044.2 3784.6 1045.2 3758.7 1046.1 3792.6 1047.5 3758.7 1048.8 3793 1050.1 3784.7 1051.3 3784.6 1052.6 3790.8 1053.7 3724.2 1054.5 3758.7 1055.5 3758.7 1056.7 3783.1 1057.3 3758.7 1057.9 3792.6 1059 3758.7 1059.7 3790.5 1060.7 3724.2 1061.4 3758.7 1062 3758.7 1062.9 3758.7 1063.7 3758.7 1064.7 3778.7 1065.9 3788.3 1066.8 3785.9 1068.2 3758.7 1069 3758.7 1069.8 3776.1 1071 3724.2 1072.4 3788.8 1073.2 3758.7 1073.9 3724.2 1075.2 3786.9 1076 3791.2 1076.8 3724.2 1077.5 3776.7 1078.3 3777.9 1079.4 3792.4 1080.6 3782.4 1081.6 3758.7 1082.5 3781 1083.5 3758.7 1084.4 3758.7 1085.2 3758.7 1086.4 3758.7 1087.8 3788.7 1088.6 3758.7 1089.5 3787.6 1090.1 3776.9 1091 3758.7 1091.9 3784.1 1092.9 3758.7 1093.6 3758.7 1094.9 3758.7 1095.5 3791.4 1096.4 3758.7 1097.7 3782.1 1099.1 3758.7 1100.1 3792.1 1101.1 3758.7 1102.4 3792.5 1103.2 3758.7 1104.1 3758.7 1105 3784.2 1105.8 3758.7 1106.9 3778.9 1108.2 3758.7 1109.5 3791.6 1110.3 3788.8 1111 3758.7 1112.4 3758.7 1113 3758.7 1113.8 3758.7 1115 3758.7 1116 3758.7 1116.8 3782.7 1117.9 3792.3 1118.7 3792.7 1119.4 3787.4 1120.7 3784.7 1122.1 3781.7 1123.2 3758.7 1124.2 3776.7 1125.5 3724.2 1126.5 3758.7 1127.9 3758.7 1129.3 3758.7 1130.3 3780 1131.6 3758.7 1132.3 3758.7 1133.6 3758.7 1134.3 3778.5 1135.7 3785 1136.7 3724.2 1137.5 3758.7 1138.1 3777.3 1139.2 3758.7 1140.6 3758.7 1141.8 3724.2 1142.9 3780.2 1144 3781.6 1144.6 3758.7 1145.5 3758.7 1146.3 3758.7 1147.1 3784.5 1148 3783.4 1149.2 3792.4 1149.8 3783.6 1150.8 3791.9 1151.6 3758.7 1152.9 3758.7 1154 3786.1 1154.7 3758.7 1155.4 3758.7 1156.5 3758.7 1157.9 3758.7 1159 3782.2 1159.9 3758.7 1160.5 3787.7 1161.8 3791.3 1162.7 3758.7 1163.4 3780 1164.4 3758.7 1165.7 3792.9 1166.5 3724.2 1167.4 3758.7 1168.3 3777.7 1169.2 3758.7 1170.6 3724.2 1171.3 3784.9 1172.6 3792.9 1173.7 3791.5 1174.4 3758.7 1175.5 3784.6 1176.4 3724.2 1177 3787.2 1178.3 3793.2 1179 3758.7 1180.1 3776.9 1180.8 3776.7 1181.9 3758.7 1183.1 3758.7 1183.7 3758.7 1184.7 3789.4 1186 3776.3 1187.3 3791.8 1188.4 3787 1189.7 3790.6 1191.1 3785 1191.9 3758.7 1193.1 3758.7 1194.5 3758.7 1195.1 3724.2 1196.4 3793.1 1197.6 3758.7 1198.3 3758.7 1199.5 3758.7 1200.3 3758.7 1201.4 3782.1 1202.5 3758.7 1203.1 3758.7 1203.8 3779.8 1204.8 3784.8 1205.8 3782.4 1206.5 3781.8 1207.4 3790.7 1208.4 3791.4 1209.7 3786.8 1210.9 3758.7 1211.8 3778.2 1212.5 3758.7 1213.3 3791.1 1214.3 3786.8 1215.5 3758.7 1216.6 3782.5 1217.8 3758.7 1218.6 3787.2 1219.2 3758.7 1220.5 3758.7 1221.5 3758.7 1222.6 3758.7 1223.3 3758.7 1224.7 3724.2 1226 3790 1226.9 3792.9 1228.1 3784.6 1228.8 3758.7 1229.5 3758.7 1230.3 3758.7 1231.3 3783.9 1232.4 3781.1 1233.6 3792.9 1234.4 3758.7 1235.6 3785.6 1236.9 3758.7 1237.7 3776.3 1239 3724.2 1240.3 3758.7 1241.2 3790.6 1242 3779.9 1242.8 3758.7 1244.1 3779.4 1245.1 3792.9 1246.4 3781.8 1247.5 3789.3 1248.2 3758.7 1249.4 3788.3 1250.1 3758.7 1251.1 3758.7 1252 3758.7 1252.7 3758.7 1253.9 3758.7 1255.3 3758.7 1256.4 3724.2 1257.3 3758.7 1258.6 3783.8 1259.3 3758.7 1260 3758.7 1260.8 3785.5 1262.1 3724.2 1263.1 3758.7 1264.3 3724.2 1265.5 3758.7 1266.8 3790.8 1267.8 3758.7 1268.6 3783.7 1269.6 3758.7 1270.7 3791.8 1271.7 3758.7 1273 3758.7 1274.1 3758.7 1275.4 3758.7 1276.2 3724.2 1277.1 3758.7 1278.3 3789.4 1278.9 3758.7 1279.9 3758.7 1280.8 3758.7 1281.5 3758.7 1282.9 3758.7 1284.1 3724.2 1285.1 3758.7 1286 3758.7 1287.1 3776.3 1287.9 3758.7 1289.2 3758.7 1290.5 3786 1291.8 3784.4 1293 3776.2 1293.8 3758.7 1294.8 3777.5 1295.9 3779.9 1296.6 3777.2 1297.3 3786.3 1298.4 3785.9 1299.2 3758.7 1300.2 3787.7 1301.6 3781.5 1302.9 3790.1 1303.6 3778.5 1304.3 3689.6 1305.2 3758.7 1306.5 3758.7 1307.5 3758.7 1308.2 3780 1309.3 3778.6 1310.4 3789.7 1311.4 3782.5 1312.3 3758.7 1313.4 3758.7 1314.6 3758.7 1315.4 3780.3 1316.3 3779.5 1317 3780.9 1317.7 3758.7 1318.7 3778.3 1319.4 3776.6 1320.7 3790.3 1321.5 3791.9 1322.6 3758.7 1323.2 3777 1324.5 3758.7 1325.6 3790.7 1326.8 3758.7 1327.4 3758.7 1328.4 3785.7 1329.2 3789 1330.3 3758.7 1331.5 3758.7 1332.8 3778.9 1333.9 3758.7 1335.1 3724.2 1336.1 3758.7 1337.3 3758.7 1338.3 3758.7 1339.3 3758.7 1340.3 3792.1 1341.4 3724.2 1342.4 3758.7 1343.1 3758.7 1344.3 3758.7 1345.2 3758.7 1346 3785.2 1346.8 3790.6 1348.1 3793.3 1349.1 3790.3 1350.3 3780.6 1351.3 3779.7 1352.6 3758.7 1353.5 3758.7 1354.5 3785.3 1355.6 3758.7 1356.3 3758.7 1357.6 3758.7 1358.3 3792.8 1359.1 3758.7 1360.3 3758.7 1361.5 3789.1 1362.3 3758.7 1363 3758.7 1364 3791.7 1365.4 3758.7 1366.7 3784 1368 3758.7 1368.8 3783.3 1369.8 3758.7 1370.7 3758.7 1371.9 3792.5 1372.8 3777.4 1373.9 3758.7 1375 3758.7 1375.6 3758.7 1376.4 3758.7 1377.5 3758.7 1378.7 3778.1 1379.8 3777.6 1380.5 3724.2 1381.9 3777.4 1383.1 3777 1384 3782.7 1385.2 3758.7 1386.3 3758.7 1387.6 3758.7 1388.5 3758.7 1389.8 3758.7 1390.5 3758.7 1391.8 3758.7 1392.7 3780.9 1393.8 3758.7 1395.1 3790.4 1396.3 3785.4 1397.6 3758.7 1398.5 3758.7 1399.6 3780.2 1400.7 3789.1 1401.5 3758.7 1402.7 3758.7 1403.7 3791 1404.5 3758.7 1405.5 3777.1 1406.1 3758.7 1407.1 3758.7 1407.7 3777.6 1408.7 3788.8 1409.4 3778.9 1410.5 3655 1411.5 3758.7 1412.5 3788.4 1413.3 3724.2 1414.1 3782 1415.4 3689.6 1416.1 3758.7 1416.9 3758.7 1418.3 3789.5 1419.1 3777.3 1420.2 3778.9 1421.2 3779.6 1422 3787.7 1423.1 3792.1 1423.1 3793.3Z" class="dn"/>
<path d="M259 3655.01H271.0V3793.31H259" class="axl"/>
<text x="252.5" y="3658.6" text-anchor="end" class="ax">11</text>
<text x="252.5" y="3796.9" text-anchor="end" class="ax">0</text>
<text x="217.6" y="3730.4" text-anchor="end" class="lb" textLength="144.5" lengthAdjust="spacingAndGlyphs">GSM2481668</text>
<path d="M271 3957.4H1370" stroke="#222" stroke-width="1" fill="none"/>
<path d="M278.5 3948.0L288.2 3957.4L278.5 3966.8M315.9 3948.0L325.6 3957.4L315.9 3966.8M353.4 3948.0L363.1 3957.4L353.4 3966.8M390.8 3948.0L400.5 3957.4L390.8 3966.8M428.2 3948.0L437.9 3957.4L428.2 3966.8M457.8 3948.0L467.5 3957.4L457.8 3966.8M495.2 3948.0L504.9 3957.4L495.2 3966.8M532.6 3948.0L542.3 3957.4L532.6 3966.8M570.4 3948.0L580.1 3957.4L570.4 3966.8M607.9 3948.0L617.6 3957.4L607.9 3966.8M645.3 3948.0L655.0 3957.4L645.3 3966.8M674.9 3948.0L684.6 3957.4L674.9 3966.8M712.3 3948.0L722.0 3957.4L712.3 3966.8M733.7 3948.0L743.4 3957.4L733.7 3966.8M771.1 3948.0L780.8 3957.4L771.1 3966.8M808.5 3948.0L818.2 3957.4L808.5 3966.8M830.7 3948.0L840.4 3957.4L830.7 3966.8M868.1 3948.0L877.8 3957.4L868.1 3966.8M905.5 3948.0L915.2 3957.4L905.5 3966.8M926.6 3948.0L936.3 3957.4L926.6 3966.8M965.1 3948.0L974.8 3957.4L965.1 3966.8M992.3 3948.0L1002.0 3957.4L992.3 3966.8M1029.7 3948.0L1039.4 3957.4L1029.7 3966.8M1057.9 3948.0L1067.6 3957.4L1057.9 3966.8M1093.3 3948.0L1103.0 3957.4L1093.3 3966.8M1126.9 3948.0L1136.6 3957.4L1126.9 3966.8M1152.7 3948.0L1162.4 3957.4L1152.7 3966.8M1185.5 3948.0L1195.2 3957.4L1185.5 3966.8M1208.0 3948.0L1217.7 3957.4L1208.0 3966.8M1245.4 3948.0L1255.1 3957.4L1245.4 3966.8M1333.8 3948.0L1343.5 3957.4L1333.8 3966.8" stroke="#111" stroke-width="1.1" fill="none"/>
<path d="M271.2 3910.3V4004.5M665.7 3910.3V4004.5M821.8 3910.3V4004.5M923.7 3910.3V4004.5M1055.0 3910.3V4004.5M1071.4 3910.3V4004.5M1078.5 3910.3V4004.5M1117.0 3910.3V4004.5M1146.8 3910.3V4004.5M1168.0 3910.3V4004.5M1175.9 3910.3V4004.5M1180.4 3910.3V4004.5M1200.5 3910.3V4004.5M1225.0 3910.3V4004.5M1229.3 3910.3V4004.5M1236.9 3910.3V4004.5M1263.9 3910.3V4004.5M1272.1 3910.3V4004.5M1282.8 3910.3V4004.5M1284.9 3910.3V4004.5M1290.3 3910.3V4004.5M1296.8 3910.3V4004.5M1303.9 3910.3V4004.5M1311.7 3910.3V4004.5M1315.5 3910.3V4004.5M1361.9 3910.3V4004.5" stroke="#111" stroke-width="1.5" fill="none"/>
<path d="M665.7 3934.0V3980.8M730.5 3934.0V3980.8M821.8 3934.0V3980.8M923.7 3934.0V3980.8M976.5 3934.0V3980.8M1055.0 3934.0V3980.8M1078.5 3934.0V3980.8M1117.0 3934.0V3980.8M1146.8 3934.0V3980.8M1168.0 3934.0V3980.8M1175.9 3934.0V3980.8M1200.5 3934.0V3980.8M1264.0 3934.0V3980.8M1272.1 3934.0V3980.8M1282.8 3934.0V3980.8M1290.3 3934.0V3980.8M1296.8 3934.0V3980.8M1303.9 3934.0V3980.8M1311.7 3934.0V3980.8" stroke="#000" stroke-width="1.6" fill="none"/>
<rect x="443.9" y="3934.0" width="3.6" height="46.8" fill="#000"/>
<rect x="1226.7" y="3934.0" width="3.4" height="46.8" fill="#000"/>
<rect x="1362.0" y="3934.0" width="8.3" height="46.8" fill="#000"/>
<text x="817" y="3903.5" text-anchor="middle" class="gn" textLength="142" lengthAdjust="spacingAndGlyphs">CACHD1</text>
<rect x="271" y="4062.5" width="1153" height="58" fill="#c8c8c8"/>
<path d="M271 4062.5H1424M271 4120.5H1424" stroke="#6e6e6e" stroke-width="1"/>
<text x="89.5" y="4109.4" class="chr" textLength="86" lengthAdjust="spacingAndGlyphs">chr1</text>
<path d="M316.3 4121V4150.5M415.2 4121V4150.5M514.1 4121V4150.5M613.0 4121V4150.5M711.9 4121V4150.5M810.8 4121V4150.5M909.7 4121V4150.5M1008.6 4121V4150.5M1107.5 4121V4150.5M1206.4 4121V4150.5M1305.3 4121V4150.5M1404.2 4121V4150.5" stroke="#222" stroke-width="1"/>
<path d="M415.1 4121V4195" stroke="#222" stroke-width="1"/>
<text x="415.1" y="4212.3" text-anchor="middle" class="tk" textLength="80" lengthAdjust="spacingAndGlyphs">64.5Mb</text>
<path d="M909.7 4121V4195" stroke="#222" stroke-width="1"/>
<text x="909.7" y="4212.3" text-anchor="middle" class="tk" textLength="80" lengthAdjust="spacingAndGlyphs">64.6Mb</text>
<path d="M1404.4 4121V4195" stroke="#222" stroke-width="1"/>
<text x="1404.4" y="4212.3" text-anchor="middle" class="tk" textLength="80" lengthAdjust="spacingAndGlyphs">64.7Mb</text>
</svg>
</body></html>
